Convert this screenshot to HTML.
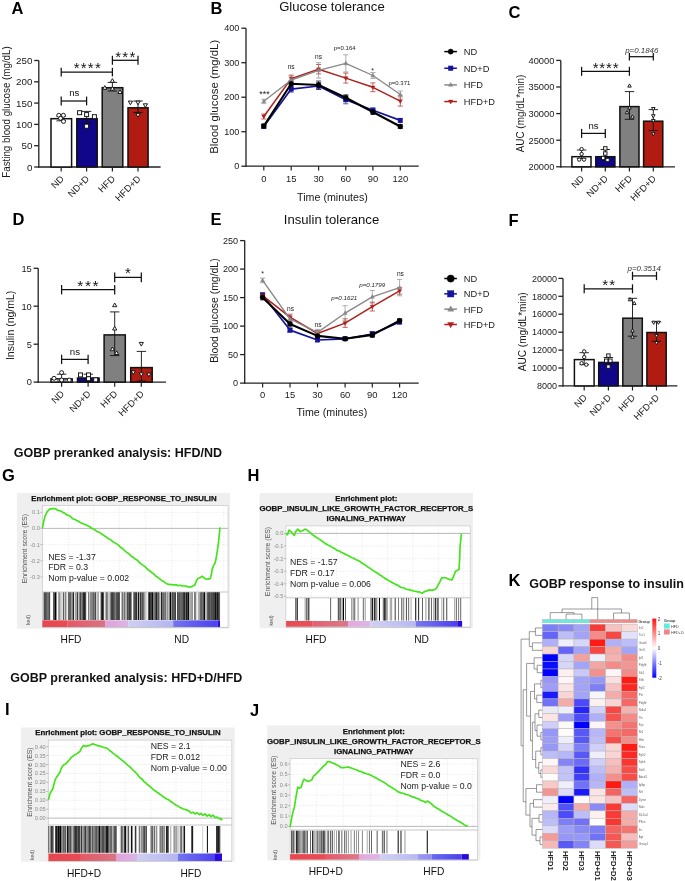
<!DOCTYPE html>
<html><head><meta charset="utf-8"><title>Figure</title>
<style>
html,body{margin:0;padding:0;background:#fff;}
body{width:685px;height:881px;overflow:hidden;position:relative;}
svg{position:absolute;left:0;top:0;display:block;will-change:transform;}
svg text{font-family:"Liberation Sans", sans-serif;}
</style></head><body>
<svg width="685" height="881" viewBox="0 0 685 881">
<rect x="0" y="0" width="685" height="881" fill="#fff"/>
<text x="11.50" y="14.20" font-size="16.5" text-anchor="start" fill="#000" font-weight="bold">A</text>
<line x1="38.80" y1="60.50" x2="38.80" y2="167.60" stroke="#222" stroke-width="1.3"/>
<line x1="34.20" y1="167.00" x2="38.80" y2="167.00" stroke="#222" stroke-width="1.3"/>
<text x="32.40" y="170.53" font-size="9.8" text-anchor="end" fill="#1a1a1a">0</text>
<line x1="34.20" y1="145.70" x2="38.80" y2="145.70" stroke="#222" stroke-width="1.3"/>
<text x="32.40" y="149.23" font-size="9.8" text-anchor="end" fill="#1a1a1a">50</text>
<line x1="34.20" y1="124.40" x2="38.80" y2="124.40" stroke="#222" stroke-width="1.3"/>
<text x="32.40" y="127.93" font-size="9.8" text-anchor="end" fill="#1a1a1a">100</text>
<line x1="34.20" y1="103.10" x2="38.80" y2="103.10" stroke="#222" stroke-width="1.3"/>
<text x="32.40" y="106.63" font-size="9.8" text-anchor="end" fill="#1a1a1a">150</text>
<line x1="34.20" y1="81.80" x2="38.80" y2="81.80" stroke="#222" stroke-width="1.3"/>
<text x="32.40" y="85.33" font-size="9.8" text-anchor="end" fill="#1a1a1a">200</text>
<line x1="34.20" y1="60.50" x2="38.80" y2="60.50" stroke="#222" stroke-width="1.3"/>
<text x="32.40" y="64.03" font-size="9.8" text-anchor="end" fill="#1a1a1a">250</text>
<line x1="38.20" y1="167.00" x2="160.60" y2="167.00" stroke="#222" stroke-width="1.3"/>
<rect x="51.00" y="118.70" width="20.60" height="48.30" fill="#ffffff" stroke="#111" stroke-width="1.5"/>
<rect x="76.80" y="118.70" width="20.40" height="48.30" fill="#10068a" stroke="#111" stroke-width="1.5"/>
<rect x="102.20" y="87.70" width="20.60" height="79.30" fill="#808080" stroke="#111" stroke-width="1.5"/>
<rect x="128.00" y="107.80" width="20.10" height="59.20" fill="#b01c12" stroke="#111" stroke-width="1.5"/>
<line x1="61.20" y1="167.00" x2="61.20" y2="171.60" stroke="#222" stroke-width="1.2"/>
<text x="64.50" y="179.40" font-size="9.4" text-anchor="end" fill="#1a1a1a" transform="rotate(-45 64.50 179.40)">ND</text>
<line x1="86.60" y1="167.00" x2="86.60" y2="171.60" stroke="#222" stroke-width="1.2"/>
<text x="89.90" y="179.40" font-size="9.4" text-anchor="end" fill="#1a1a1a" transform="rotate(-45 89.90 179.40)">ND+D</text>
<line x1="112.40" y1="167.00" x2="112.40" y2="171.60" stroke="#222" stroke-width="1.2"/>
<text x="115.70" y="179.40" font-size="9.4" text-anchor="end" fill="#1a1a1a" transform="rotate(-45 115.70 179.40)">HFD</text>
<line x1="138.00" y1="167.00" x2="138.00" y2="171.60" stroke="#222" stroke-width="1.2"/>
<text x="141.30" y="179.40" font-size="9.4" text-anchor="end" fill="#1a1a1a" transform="rotate(-45 141.30 179.40)">HFD+D</text>
<line x1="61.20" y1="116.20" x2="61.20" y2="120.80" stroke="#111" stroke-width="0.9"/>
<line x1="56.50" y1="116.20" x2="65.90" y2="116.20" stroke="#111" stroke-width="0.9"/>
<line x1="56.50" y1="120.80" x2="65.90" y2="120.80" stroke="#111" stroke-width="0.9"/>
<line x1="86.60" y1="111.40" x2="86.60" y2="123.20" stroke="#111" stroke-width="0.9"/>
<line x1="81.90" y1="111.40" x2="91.30" y2="111.40" stroke="#111" stroke-width="0.9"/>
<line x1="81.90" y1="123.20" x2="91.30" y2="123.20" stroke="#111" stroke-width="0.9"/>
<line x1="112.40" y1="82.40" x2="112.40" y2="91.00" stroke="#111" stroke-width="0.9"/>
<line x1="107.70" y1="82.40" x2="117.10" y2="82.40" stroke="#111" stroke-width="0.9"/>
<line x1="107.70" y1="91.00" x2="117.10" y2="91.00" stroke="#111" stroke-width="0.9"/>
<line x1="138.00" y1="101.00" x2="138.00" y2="112.40" stroke="#111" stroke-width="0.9"/>
<line x1="133.30" y1="101.00" x2="142.70" y2="101.00" stroke="#111" stroke-width="0.9"/>
<line x1="133.30" y1="112.40" x2="142.70" y2="112.40" stroke="#111" stroke-width="0.9"/>
<circle cx="58.80" cy="115.30" r="2.0" fill="#fff" stroke="#111" stroke-width="0.95"/>
<circle cx="63.40" cy="115.30" r="2.0" fill="#fff" stroke="#111" stroke-width="0.95"/>
<circle cx="60.50" cy="118.30" r="2.0" fill="#fff" stroke="#111" stroke-width="0.95"/>
<circle cx="63.50" cy="121.40" r="2.0" fill="#fff" stroke="#111" stroke-width="0.95"/>
<rect x="77.60" y="110.70" width="4.00" height="4.00" fill="#fff" stroke="#111" stroke-width="0.95"/>
<rect x="84.60" y="112.60" width="4.00" height="4.00" fill="#fff" stroke="#111" stroke-width="0.95"/>
<rect x="92.40" y="114.70" width="4.00" height="4.00" fill="#fff" stroke="#111" stroke-width="0.95"/>
<rect x="84.60" y="124.20" width="4.00" height="4.00" fill="#fff" stroke="#111" stroke-width="0.95"/>
<polygon points="112.40,78.60 114.50,82.30 110.30,82.30" fill="#fff" stroke="#111" stroke-width="0.95"/>
<polygon points="104.80,85.60 106.90,89.30 102.70,89.30" fill="#fff" stroke="#111" stroke-width="0.95"/>
<polygon points="112.40,86.50 114.50,90.20 110.30,90.20" fill="#fff" stroke="#111" stroke-width="0.95"/>
<polygon points="120.00,89.80 122.10,93.50 117.90,93.50" fill="#fff" stroke="#111" stroke-width="0.95"/>
<polygon points="130.40,104.80 132.50,101.10 128.30,101.10" fill="#fff" stroke="#111" stroke-width="0.95"/>
<polygon points="138.00,104.80 140.10,101.10 135.90,101.10" fill="#fff" stroke="#111" stroke-width="0.95"/>
<polygon points="145.40,107.50 147.50,103.80 143.30,103.80" fill="#fff" stroke="#111" stroke-width="0.95"/>
<polygon points="138.00,117.30 140.10,113.60 135.90,113.60" fill="#fff" stroke="#111" stroke-width="0.95"/>
<line x1="61.20" y1="72.10" x2="112.40" y2="72.10" stroke="#111" stroke-width="1.25"/>
<line x1="61.20" y1="67.80" x2="61.20" y2="76.40" stroke="#111" stroke-width="1.25"/>
<line x1="112.40" y1="67.80" x2="112.40" y2="76.40" stroke="#111" stroke-width="1.25"/>
<line x1="112.40" y1="60.30" x2="138.00" y2="60.30" stroke="#111" stroke-width="1.25"/>
<line x1="112.40" y1="55.80" x2="112.40" y2="64.80" stroke="#111" stroke-width="1.25"/>
<line x1="138.00" y1="55.80" x2="138.00" y2="64.80" stroke="#111" stroke-width="1.25"/>
<line x1="61.20" y1="101.00" x2="86.60" y2="101.00" stroke="#111" stroke-width="1.25"/>
<line x1="61.20" y1="96.60" x2="61.20" y2="105.40" stroke="#111" stroke-width="1.25"/>
<line x1="86.60" y1="96.60" x2="86.60" y2="105.40" stroke="#111" stroke-width="1.25"/>
<text x="87.83" y="73.29" font-size="15.0" text-anchor="middle" fill="#111" letter-spacing="1.25">****</text>
<text x="125.90" y="61.70" font-size="15.0" text-anchor="middle" fill="#111" letter-spacing="1.2">***</text>
<text x="74.20" y="96.20" font-size="9.6" text-anchor="middle" fill="#111">ns</text>
<text x="10.00" y="112.00" font-size="10.8" text-anchor="middle" fill="#1a1a1a" transform="rotate(-90 10.00 112.00)" textLength="131.50" lengthAdjust="spacingAndGlyphs">Fasting blood glucose (mg/dL)</text>
<text x="508.50" y="18.00" font-size="16.5" text-anchor="start" fill="#000" font-weight="bold">C</text>
<line x1="560.80" y1="60.40" x2="560.80" y2="167.40" stroke="#222" stroke-width="1.3"/>
<line x1="556.20" y1="166.80" x2="560.80" y2="166.80" stroke="#222" stroke-width="1.3"/>
<text x="554.40" y="170.15" font-size="9.3" text-anchor="end" fill="#1a1a1a">20000</text>
<line x1="556.20" y1="140.20" x2="560.80" y2="140.20" stroke="#222" stroke-width="1.3"/>
<text x="554.40" y="143.55" font-size="9.3" text-anchor="end" fill="#1a1a1a">25000</text>
<line x1="556.20" y1="113.60" x2="560.80" y2="113.60" stroke="#222" stroke-width="1.3"/>
<text x="554.40" y="116.95" font-size="9.3" text-anchor="end" fill="#1a1a1a">30000</text>
<line x1="556.20" y1="87.00" x2="560.80" y2="87.00" stroke="#222" stroke-width="1.3"/>
<text x="554.40" y="90.35" font-size="9.3" text-anchor="end" fill="#1a1a1a">35000</text>
<line x1="556.20" y1="60.40" x2="560.80" y2="60.40" stroke="#222" stroke-width="1.3"/>
<text x="554.40" y="63.75" font-size="9.3" text-anchor="end" fill="#1a1a1a">40000</text>
<line x1="560.20" y1="166.80" x2="675.00" y2="166.80" stroke="#222" stroke-width="1.3"/>
<rect x="571.90" y="156.70" width="19.10" height="10.10" fill="#ffffff" stroke="#111" stroke-width="1.5"/>
<rect x="595.80" y="156.70" width="19.10" height="10.10" fill="#10068a" stroke="#111" stroke-width="1.5"/>
<rect x="619.90" y="106.60" width="19.10" height="60.20" fill="#808080" stroke="#111" stroke-width="1.5"/>
<rect x="643.60" y="121.20" width="19.20" height="45.60" fill="#b01c12" stroke="#111" stroke-width="1.5"/>
<line x1="581.60" y1="166.80" x2="581.60" y2="171.40" stroke="#222" stroke-width="1.2"/>
<text x="584.90" y="179.20" font-size="9.4" text-anchor="end" fill="#1a1a1a" transform="rotate(-45 584.90 179.20)">ND</text>
<line x1="605.30" y1="166.80" x2="605.30" y2="171.40" stroke="#222" stroke-width="1.2"/>
<text x="608.60" y="179.20" font-size="9.4" text-anchor="end" fill="#1a1a1a" transform="rotate(-45 608.60 179.20)">ND+D</text>
<line x1="629.40" y1="166.80" x2="629.40" y2="171.40" stroke="#222" stroke-width="1.2"/>
<text x="632.70" y="179.20" font-size="9.4" text-anchor="end" fill="#1a1a1a" transform="rotate(-45 632.70 179.20)">HFD</text>
<line x1="653.30" y1="166.80" x2="653.30" y2="171.40" stroke="#222" stroke-width="1.2"/>
<text x="656.60" y="179.20" font-size="9.4" text-anchor="end" fill="#1a1a1a" transform="rotate(-45 656.60 179.20)">HFD+D</text>
<line x1="581.60" y1="150.00" x2="581.60" y2="158.50" stroke="#111" stroke-width="0.9"/>
<line x1="576.90" y1="150.00" x2="586.30" y2="150.00" stroke="#111" stroke-width="0.9"/>
<line x1="576.90" y1="158.50" x2="586.30" y2="158.50" stroke="#111" stroke-width="0.9"/>
<line x1="605.30" y1="149.50" x2="605.30" y2="160.00" stroke="#111" stroke-width="0.9"/>
<line x1="600.60" y1="149.50" x2="610.00" y2="149.50" stroke="#111" stroke-width="0.9"/>
<line x1="600.60" y1="160.00" x2="610.00" y2="160.00" stroke="#111" stroke-width="0.9"/>
<line x1="629.50" y1="91.60" x2="629.50" y2="119.30" stroke="#111" stroke-width="0.9"/>
<line x1="624.80" y1="91.60" x2="634.20" y2="91.60" stroke="#111" stroke-width="0.9"/>
<line x1="624.80" y1="119.30" x2="634.20" y2="119.30" stroke="#111" stroke-width="0.9"/>
<line x1="653.30" y1="109.60" x2="653.30" y2="130.50" stroke="#111" stroke-width="0.9"/>
<line x1="648.60" y1="109.60" x2="658.00" y2="109.60" stroke="#111" stroke-width="0.9"/>
<line x1="648.60" y1="130.50" x2="658.00" y2="130.50" stroke="#111" stroke-width="0.9"/>
<circle cx="581.60" cy="149.10" r="1.7" fill="#fff" stroke="#111" stroke-width="0.95"/>
<circle cx="581.60" cy="154.00" r="1.7" fill="#fff" stroke="#111" stroke-width="0.95"/>
<circle cx="579.20" cy="159.60" r="1.7" fill="#fff" stroke="#111" stroke-width="0.95"/>
<circle cx="584.00" cy="159.60" r="1.7" fill="#fff" stroke="#111" stroke-width="0.95"/>
<rect x="603.60" y="146.70" width="3.40" height="3.40" fill="#fff" stroke="#111" stroke-width="0.95"/>
<rect x="603.60" y="151.80" width="3.40" height="3.40" fill="#fff" stroke="#111" stroke-width="0.95"/>
<rect x="601.50" y="156.30" width="3.40" height="3.40" fill="#fff" stroke="#111" stroke-width="0.95"/>
<rect x="605.80" y="158.30" width="3.40" height="3.40" fill="#fff" stroke="#111" stroke-width="0.95"/>
<polygon points="629.50,83.95 631.28,87.09 627.72,87.09" fill="#fff" stroke="#111" stroke-width="0.95"/>
<polygon points="629.50,105.95 631.28,109.09 627.72,109.09" fill="#fff" stroke="#111" stroke-width="0.95"/>
<polygon points="627.00,110.55 628.78,113.69 625.22,113.69" fill="#fff" stroke="#111" stroke-width="0.95"/>
<polygon points="632.40,114.95 634.18,118.09 630.62,118.09" fill="#fff" stroke="#111" stroke-width="0.95"/>
<polygon points="653.30,110.66 655.08,107.51 651.51,107.51" fill="#fff" stroke="#111" stroke-width="0.95"/>
<polygon points="653.30,117.86 655.08,114.71 651.51,114.71" fill="#fff" stroke="#111" stroke-width="0.95"/>
<polygon points="653.30,122.55 655.08,119.41 651.51,119.41" fill="#fff" stroke="#111" stroke-width="0.95"/>
<polygon points="653.30,135.86 655.08,132.71 651.51,132.71" fill="#fff" stroke="#111" stroke-width="0.95"/>
<line x1="581.60" y1="71.30" x2="629.40" y2="71.30" stroke="#111" stroke-width="1.25"/>
<line x1="581.60" y1="66.80" x2="581.60" y2="75.80" stroke="#111" stroke-width="1.25"/>
<line x1="629.40" y1="66.80" x2="629.40" y2="75.80" stroke="#111" stroke-width="1.25"/>
<line x1="629.40" y1="56.70" x2="653.30" y2="56.70" stroke="#111" stroke-width="1.25"/>
<line x1="629.40" y1="52.90" x2="629.40" y2="60.50" stroke="#111" stroke-width="1.25"/>
<line x1="653.30" y1="52.90" x2="653.30" y2="60.50" stroke="#111" stroke-width="1.25"/>
<line x1="581.60" y1="133.40" x2="605.30" y2="133.40" stroke="#111" stroke-width="1.25"/>
<line x1="581.60" y1="128.90" x2="581.60" y2="137.90" stroke="#111" stroke-width="1.25"/>
<line x1="605.30" y1="128.90" x2="605.30" y2="137.90" stroke="#111" stroke-width="1.25"/>
<text x="606.00" y="72.50" font-size="15.0" text-anchor="middle" fill="#111" letter-spacing="0.8">****</text>
<text x="641.80" y="52.60" font-size="7.9" text-anchor="middle" fill="#333" font-style="italic">p=0.1846</text>
<text x="593.50" y="128.80" font-size="9.6" text-anchor="middle" fill="#111">ns</text>
<text x="523.60" y="113.50" font-size="10.4" text-anchor="middle" fill="#1a1a1a" transform="rotate(-90 523.60 113.50)" textLength="77.70" lengthAdjust="spacingAndGlyphs">AUC (mg/dL*min)</text>
<text x="12.50" y="224.80" font-size="16.5" text-anchor="start" fill="#000" font-weight="bold">D</text>
<line x1="38.20" y1="268.30" x2="38.20" y2="382.70" stroke="#222" stroke-width="1.3"/>
<line x1="33.60" y1="382.10" x2="38.20" y2="382.10" stroke="#222" stroke-width="1.3"/>
<text x="31.80" y="385.45" font-size="9.3" text-anchor="end" fill="#1a1a1a">0</text>
<line x1="33.60" y1="344.20" x2="38.20" y2="344.20" stroke="#222" stroke-width="1.3"/>
<text x="31.80" y="347.55" font-size="9.3" text-anchor="end" fill="#1a1a1a">5</text>
<line x1="33.60" y1="306.20" x2="38.20" y2="306.20" stroke="#222" stroke-width="1.3"/>
<text x="31.80" y="309.55" font-size="9.3" text-anchor="end" fill="#1a1a1a">10</text>
<line x1="33.60" y1="268.30" x2="38.20" y2="268.30" stroke="#222" stroke-width="1.3"/>
<text x="31.80" y="271.65" font-size="9.3" text-anchor="end" fill="#1a1a1a">15</text>
<line x1="37.60" y1="382.10" x2="166.00" y2="382.10" stroke="#222" stroke-width="1.3"/>
<rect x="51.00" y="378.90" width="21.20" height="3.20" fill="#ffffff" stroke="#111" stroke-width="1.5"/>
<rect x="77.50" y="378.00" width="21.60" height="4.10" fill="#10068a" stroke="#111" stroke-width="1.5"/>
<rect x="104.10" y="334.90" width="21.20" height="47.20" fill="#808080" stroke="#111" stroke-width="1.5"/>
<rect x="130.70" y="367.60" width="21.50" height="14.50" fill="#b01c12" stroke="#111" stroke-width="1.5"/>
<line x1="61.60" y1="382.10" x2="61.60" y2="386.70" stroke="#222" stroke-width="1.2"/>
<text x="64.90" y="394.50" font-size="9.4" text-anchor="end" fill="#1a1a1a" transform="rotate(-45 64.90 394.50)">ND</text>
<line x1="88.10" y1="382.10" x2="88.10" y2="386.70" stroke="#222" stroke-width="1.2"/>
<text x="91.40" y="394.50" font-size="9.4" text-anchor="end" fill="#1a1a1a" transform="rotate(-45 91.40 394.50)">ND+D</text>
<line x1="114.70" y1="382.10" x2="114.70" y2="386.70" stroke="#222" stroke-width="1.2"/>
<text x="118.00" y="394.50" font-size="9.4" text-anchor="end" fill="#1a1a1a" transform="rotate(-45 118.00 394.50)">HFD</text>
<line x1="141.30" y1="382.10" x2="141.30" y2="386.70" stroke="#222" stroke-width="1.2"/>
<text x="144.60" y="394.50" font-size="9.4" text-anchor="end" fill="#1a1a1a" transform="rotate(-45 144.60 394.50)">HFD+D</text>
<line x1="61.60" y1="374.20" x2="61.60" y2="381.00" stroke="#111" stroke-width="0.9"/>
<line x1="56.90" y1="374.20" x2="66.30" y2="374.20" stroke="#111" stroke-width="0.9"/>
<line x1="56.90" y1="381.00" x2="66.30" y2="381.00" stroke="#111" stroke-width="0.9"/>
<line x1="88.30" y1="374.20" x2="88.30" y2="381.00" stroke="#111" stroke-width="0.9"/>
<line x1="83.60" y1="374.20" x2="93.00" y2="374.20" stroke="#111" stroke-width="0.9"/>
<line x1="83.60" y1="381.00" x2="93.00" y2="381.00" stroke="#111" stroke-width="0.9"/>
<line x1="114.70" y1="311.90" x2="114.70" y2="355.60" stroke="#111" stroke-width="0.9"/>
<line x1="110.00" y1="311.90" x2="119.40" y2="311.90" stroke="#111" stroke-width="0.9"/>
<line x1="110.00" y1="355.60" x2="119.40" y2="355.60" stroke="#111" stroke-width="0.9"/>
<line x1="141.40" y1="351.40" x2="141.40" y2="381.00" stroke="#111" stroke-width="0.9"/>
<line x1="136.70" y1="351.40" x2="146.10" y2="351.40" stroke="#111" stroke-width="0.9"/>
<line x1="136.70" y1="381.00" x2="146.10" y2="381.00" stroke="#111" stroke-width="0.9"/>
<circle cx="61.60" cy="372.60" r="2.0" fill="#fff" stroke="#111" stroke-width="0.95"/>
<circle cx="54.00" cy="378.30" r="2.0" fill="#fff" stroke="#111" stroke-width="0.95"/>
<circle cx="61.60" cy="380.00" r="2.0" fill="#fff" stroke="#111" stroke-width="0.95"/>
<circle cx="69.20" cy="380.00" r="2.0" fill="#fff" stroke="#111" stroke-width="0.95"/>
<rect x="78.50" y="372.90" width="4.00" height="4.00" fill="#fff" stroke="#111" stroke-width="0.95"/>
<rect x="86.50" y="372.90" width="4.00" height="4.00" fill="#fff" stroke="#111" stroke-width="0.95"/>
<rect x="86.50" y="376.70" width="4.00" height="4.00" fill="#fff" stroke="#111" stroke-width="0.95"/>
<rect x="93.70" y="377.80" width="4.00" height="4.00" fill="#fff" stroke="#111" stroke-width="0.95"/>
<polygon points="114.70,303.00 116.80,306.70 112.60,306.70" fill="#fff" stroke="#111" stroke-width="0.95"/>
<polygon points="114.70,326.30 116.80,330.00 112.60,330.00" fill="#fff" stroke="#111" stroke-width="0.95"/>
<polygon points="112.40,347.00 114.50,350.70 110.30,350.70" fill="#fff" stroke="#111" stroke-width="0.95"/>
<polygon points="116.60,350.80 118.70,354.50 114.50,354.50" fill="#fff" stroke="#111" stroke-width="0.95"/>
<polygon points="141.30,346.10 143.40,342.40 139.20,342.40" fill="#fff" stroke="#111" stroke-width="0.95"/>
<polygon points="133.30,374.60 135.40,370.90 131.20,370.90" fill="#fff" stroke="#111" stroke-width="0.95"/>
<polygon points="141.30,376.50 143.40,372.80 139.20,372.80" fill="#fff" stroke="#111" stroke-width="0.95"/>
<polygon points="148.90,376.80 151.00,373.10 146.80,373.10" fill="#fff" stroke="#111" stroke-width="0.95"/>
<line x1="61.60" y1="289.70" x2="114.70" y2="289.70" stroke="#111" stroke-width="1.25"/>
<line x1="61.60" y1="285.00" x2="61.60" y2="294.40" stroke="#111" stroke-width="1.25"/>
<line x1="114.70" y1="285.00" x2="114.70" y2="294.40" stroke="#111" stroke-width="1.25"/>
<line x1="114.70" y1="277.40" x2="141.30" y2="277.40" stroke="#111" stroke-width="1.25"/>
<line x1="114.70" y1="272.60" x2="114.70" y2="282.20" stroke="#111" stroke-width="1.25"/>
<line x1="141.30" y1="272.60" x2="141.30" y2="282.20" stroke="#111" stroke-width="1.25"/>
<line x1="61.60" y1="359.40" x2="88.10" y2="359.40" stroke="#111" stroke-width="1.25"/>
<line x1="61.60" y1="354.70" x2="61.60" y2="364.10" stroke="#111" stroke-width="1.25"/>
<line x1="88.10" y1="354.70" x2="88.10" y2="364.10" stroke="#111" stroke-width="1.25"/>
<text x="88.80" y="290.55" font-size="15.5" text-anchor="middle" fill="#111" letter-spacing="1.6">***</text>
<text x="128.00" y="277.69" font-size="15.0" text-anchor="middle" fill="#111">*</text>
<text x="74.90" y="354.60" font-size="9.7" text-anchor="middle" fill="#111">ns</text>
<text x="14.30" y="325.40" font-size="10.8" text-anchor="middle" fill="#1a1a1a" transform="rotate(-90 14.30 325.40)" textLength="69.40" lengthAdjust="spacingAndGlyphs">Insulin (ng/mL)</text>
<text x="508.50" y="226.20" font-size="16.5" text-anchor="start" fill="#000" font-weight="bold">F</text>
<line x1="563.00" y1="278.40" x2="563.00" y2="386.50" stroke="#222" stroke-width="1.3"/>
<line x1="558.40" y1="385.90" x2="563.00" y2="385.90" stroke="#222" stroke-width="1.3"/>
<text x="557.00" y="389.14" font-size="9.0" text-anchor="end" fill="#1a1a1a">8000</text>
<line x1="558.40" y1="368.00" x2="563.00" y2="368.00" stroke="#222" stroke-width="1.3"/>
<text x="557.00" y="371.24" font-size="9.0" text-anchor="end" fill="#1a1a1a">10000</text>
<line x1="558.40" y1="350.10" x2="563.00" y2="350.10" stroke="#222" stroke-width="1.3"/>
<text x="557.00" y="353.34" font-size="9.0" text-anchor="end" fill="#1a1a1a">12000</text>
<line x1="558.40" y1="332.20" x2="563.00" y2="332.20" stroke="#222" stroke-width="1.3"/>
<text x="557.00" y="335.44" font-size="9.0" text-anchor="end" fill="#1a1a1a">14000</text>
<line x1="558.40" y1="314.20" x2="563.00" y2="314.20" stroke="#222" stroke-width="1.3"/>
<text x="557.00" y="317.44" font-size="9.0" text-anchor="end" fill="#1a1a1a">16000</text>
<line x1="558.40" y1="296.30" x2="563.00" y2="296.30" stroke="#222" stroke-width="1.3"/>
<text x="557.00" y="299.54" font-size="9.0" text-anchor="end" fill="#1a1a1a">18000</text>
<line x1="558.40" y1="278.40" x2="563.00" y2="278.40" stroke="#222" stroke-width="1.3"/>
<text x="557.00" y="281.64" font-size="9.0" text-anchor="end" fill="#1a1a1a">20000</text>
<line x1="562.40" y1="385.90" x2="677.40" y2="385.90" stroke="#222" stroke-width="1.3"/>
<rect x="574.40" y="359.60" width="19.70" height="26.30" fill="#ffffff" stroke="#111" stroke-width="1.5"/>
<rect x="598.70" y="362.40" width="19.50" height="23.50" fill="#10068a" stroke="#111" stroke-width="1.5"/>
<rect x="622.80" y="318.20" width="19.50" height="67.70" fill="#808080" stroke="#111" stroke-width="1.5"/>
<rect x="646.90" y="332.50" width="19.30" height="53.40" fill="#b01c12" stroke="#111" stroke-width="1.5"/>
<line x1="584.20" y1="385.90" x2="584.20" y2="390.50" stroke="#222" stroke-width="1.2"/>
<text x="587.50" y="398.30" font-size="9.4" text-anchor="end" fill="#1a1a1a" transform="rotate(-45 587.50 398.30)">ND</text>
<line x1="608.40" y1="385.90" x2="608.40" y2="390.50" stroke="#222" stroke-width="1.2"/>
<text x="611.70" y="398.30" font-size="9.4" text-anchor="end" fill="#1a1a1a" transform="rotate(-45 611.70 398.30)">ND+D</text>
<line x1="632.50" y1="385.90" x2="632.50" y2="390.50" stroke="#222" stroke-width="1.2"/>
<text x="635.80" y="398.30" font-size="9.4" text-anchor="end" fill="#1a1a1a" transform="rotate(-45 635.80 398.30)">HFD</text>
<line x1="656.50" y1="385.90" x2="656.50" y2="390.50" stroke="#222" stroke-width="1.2"/>
<text x="659.80" y="398.30" font-size="9.4" text-anchor="end" fill="#1a1a1a" transform="rotate(-45 659.80 398.30)">HFD+D</text>
<line x1="584.20" y1="352.70" x2="584.20" y2="364.70" stroke="#111" stroke-width="0.9"/>
<line x1="579.50" y1="352.70" x2="588.90" y2="352.70" stroke="#111" stroke-width="0.9"/>
<line x1="579.50" y1="364.70" x2="588.90" y2="364.70" stroke="#111" stroke-width="0.9"/>
<line x1="608.40" y1="357.50" x2="608.40" y2="364.70" stroke="#111" stroke-width="0.9"/>
<line x1="603.70" y1="357.50" x2="613.10" y2="357.50" stroke="#111" stroke-width="0.9"/>
<line x1="603.70" y1="364.70" x2="613.10" y2="364.70" stroke="#111" stroke-width="0.9"/>
<line x1="632.50" y1="298.30" x2="632.50" y2="336.20" stroke="#111" stroke-width="0.9"/>
<line x1="627.80" y1="298.30" x2="637.20" y2="298.30" stroke="#111" stroke-width="0.9"/>
<line x1="627.80" y1="336.20" x2="637.20" y2="336.20" stroke="#111" stroke-width="0.9"/>
<line x1="656.50" y1="321.80" x2="656.50" y2="341.30" stroke="#111" stroke-width="0.9"/>
<line x1="651.80" y1="321.80" x2="661.20" y2="321.80" stroke="#111" stroke-width="0.9"/>
<line x1="651.80" y1="341.30" x2="661.20" y2="341.30" stroke="#111" stroke-width="0.9"/>
<circle cx="584.20" cy="351.40" r="1.7" fill="#fff" stroke="#111" stroke-width="0.95"/>
<circle cx="584.20" cy="357.10" r="1.7" fill="#fff" stroke="#111" stroke-width="0.95"/>
<circle cx="581.60" cy="363.20" r="1.7" fill="#fff" stroke="#111" stroke-width="0.95"/>
<circle cx="586.30" cy="364.70" r="1.7" fill="#fff" stroke="#111" stroke-width="0.95"/>
<rect x="606.70" y="353.90" width="3.40" height="3.40" fill="#fff" stroke="#111" stroke-width="0.95"/>
<rect x="604.50" y="359.00" width="3.40" height="3.40" fill="#fff" stroke="#111" stroke-width="0.95"/>
<rect x="608.70" y="359.00" width="3.40" height="3.40" fill="#fff" stroke="#111" stroke-width="0.95"/>
<rect x="606.70" y="364.90" width="3.40" height="3.40" fill="#fff" stroke="#111" stroke-width="0.95"/>
<polygon points="630.00,297.65 631.78,300.79 628.22,300.79" fill="#fff" stroke="#111" stroke-width="0.95"/>
<polygon points="634.30,301.44 636.08,304.59 632.51,304.59" fill="#fff" stroke="#111" stroke-width="0.95"/>
<polygon points="632.50,328.94 634.28,332.09 630.72,332.09" fill="#fff" stroke="#111" stroke-width="0.95"/>
<polygon points="632.50,335.05 634.28,338.19 630.72,338.19" fill="#fff" stroke="#111" stroke-width="0.95"/>
<polygon points="653.70,324.35 655.49,321.21 651.92,321.21" fill="#fff" stroke="#111" stroke-width="0.95"/>
<polygon points="658.40,324.35 660.18,321.21 656.62,321.21" fill="#fff" stroke="#111" stroke-width="0.95"/>
<polygon points="656.50,337.56 658.28,334.41 654.72,334.41" fill="#fff" stroke="#111" stroke-width="0.95"/>
<polygon points="656.50,344.65 658.28,341.51 654.72,341.51" fill="#fff" stroke="#111" stroke-width="0.95"/>
<line x1="584.20" y1="288.80" x2="632.50" y2="288.80" stroke="#111" stroke-width="1.25"/>
<line x1="584.20" y1="284.30" x2="584.20" y2="293.30" stroke="#111" stroke-width="1.25"/>
<line x1="632.50" y1="284.30" x2="632.50" y2="293.30" stroke="#111" stroke-width="1.25"/>
<line x1="632.50" y1="275.90" x2="656.50" y2="275.90" stroke="#111" stroke-width="1.25"/>
<line x1="632.50" y1="271.70" x2="632.50" y2="280.10" stroke="#111" stroke-width="1.25"/>
<line x1="656.50" y1="271.70" x2="656.50" y2="280.10" stroke="#111" stroke-width="1.25"/>
<text x="609.20" y="289.59" font-size="15.0" text-anchor="middle" fill="#111" letter-spacing="1.2">**</text>
<text x="644.20" y="271.40" font-size="7.95" text-anchor="middle" fill="#333" font-style="italic">p=0.3514</text>
<text x="525.90" y="331.80" font-size="10.4" text-anchor="middle" fill="#1a1a1a" transform="rotate(-90 525.90 331.80)" textLength="78.90" lengthAdjust="spacingAndGlyphs">AUC (mg/dL*min)</text>
<text x="210.50" y="13.60" font-size="16.5" text-anchor="start" fill="#000" font-weight="bold">B</text>
<line x1="246.00" y1="28.20" x2="246.00" y2="166.80" stroke="#222" stroke-width="1.3"/>
<line x1="241.40" y1="166.20" x2="246.00" y2="166.20" stroke="#222" stroke-width="1.3"/>
<text x="239.40" y="169.48" font-size="9.1" text-anchor="end" fill="#1a1a1a">0</text>
<line x1="241.40" y1="131.70" x2="246.00" y2="131.70" stroke="#222" stroke-width="1.3"/>
<text x="239.40" y="134.98" font-size="9.1" text-anchor="end" fill="#1a1a1a">100</text>
<line x1="241.40" y1="97.20" x2="246.00" y2="97.20" stroke="#222" stroke-width="1.3"/>
<text x="239.40" y="100.48" font-size="9.1" text-anchor="end" fill="#1a1a1a">200</text>
<line x1="241.40" y1="62.70" x2="246.00" y2="62.70" stroke="#222" stroke-width="1.3"/>
<text x="239.40" y="65.98" font-size="9.1" text-anchor="end" fill="#1a1a1a">300</text>
<line x1="241.40" y1="28.20" x2="246.00" y2="28.20" stroke="#222" stroke-width="1.3"/>
<text x="239.40" y="31.48" font-size="9.1" text-anchor="end" fill="#1a1a1a">400</text>
<line x1="245.40" y1="166.20" x2="418.70" y2="166.20" stroke="#222" stroke-width="1.3"/>
<line x1="263.80" y1="166.20" x2="263.80" y2="170.50" stroke="#222" stroke-width="1.2"/>
<text x="263.80" y="182.40" font-size="9.4" text-anchor="middle" fill="#1a1a1a">0</text>
<line x1="291.20" y1="166.20" x2="291.20" y2="170.50" stroke="#222" stroke-width="1.2"/>
<text x="291.20" y="182.40" font-size="9.4" text-anchor="middle" fill="#1a1a1a">15</text>
<line x1="318.60" y1="166.20" x2="318.60" y2="170.50" stroke="#222" stroke-width="1.2"/>
<text x="318.60" y="182.40" font-size="9.4" text-anchor="middle" fill="#1a1a1a">30</text>
<line x1="345.80" y1="166.20" x2="345.80" y2="170.50" stroke="#222" stroke-width="1.2"/>
<text x="345.80" y="182.40" font-size="9.4" text-anchor="middle" fill="#1a1a1a">60</text>
<line x1="372.90" y1="166.20" x2="372.90" y2="170.50" stroke="#222" stroke-width="1.2"/>
<text x="372.90" y="182.40" font-size="9.4" text-anchor="middle" fill="#1a1a1a">90</text>
<line x1="400.30" y1="166.20" x2="400.30" y2="170.50" stroke="#222" stroke-width="1.2"/>
<text x="400.30" y="182.40" font-size="9.4" text-anchor="middle" fill="#1a1a1a">120</text>
<line x1="263.80" y1="124.40" x2="263.80" y2="128.40" stroke="#14149a" stroke-width="0.9" opacity="0.75"/>
<line x1="261.20" y1="124.40" x2="266.40" y2="124.40" stroke="#14149a" stroke-width="0.9" opacity="0.75"/>
<line x1="261.20" y1="128.40" x2="266.40" y2="128.40" stroke="#14149a" stroke-width="0.9" opacity="0.75"/>
<line x1="291.20" y1="86.10" x2="291.20" y2="92.10" stroke="#14149a" stroke-width="0.9" opacity="0.75"/>
<line x1="288.60" y1="86.10" x2="293.80" y2="86.10" stroke="#14149a" stroke-width="0.9" opacity="0.75"/>
<line x1="288.60" y1="92.10" x2="293.80" y2="92.10" stroke="#14149a" stroke-width="0.9" opacity="0.75"/>
<line x1="318.60" y1="82.50" x2="318.60" y2="89.50" stroke="#14149a" stroke-width="0.9" opacity="0.75"/>
<line x1="316.00" y1="82.50" x2="321.20" y2="82.50" stroke="#14149a" stroke-width="0.9" opacity="0.75"/>
<line x1="316.00" y1="89.50" x2="321.20" y2="89.50" stroke="#14149a" stroke-width="0.9" opacity="0.75"/>
<line x1="345.80" y1="95.80" x2="345.80" y2="103.80" stroke="#14149a" stroke-width="0.9" opacity="0.75"/>
<line x1="343.20" y1="95.80" x2="348.40" y2="95.80" stroke="#14149a" stroke-width="0.9" opacity="0.75"/>
<line x1="343.20" y1="103.80" x2="348.40" y2="103.80" stroke="#14149a" stroke-width="0.9" opacity="0.75"/>
<line x1="372.90" y1="107.80" x2="372.90" y2="112.80" stroke="#14149a" stroke-width="0.9" opacity="0.75"/>
<line x1="370.30" y1="107.80" x2="375.50" y2="107.80" stroke="#14149a" stroke-width="0.9" opacity="0.75"/>
<line x1="370.30" y1="112.80" x2="375.50" y2="112.80" stroke="#14149a" stroke-width="0.9" opacity="0.75"/>
<line x1="400.30" y1="118.40" x2="400.30" y2="122.40" stroke="#14149a" stroke-width="0.9" opacity="0.75"/>
<line x1="397.70" y1="118.40" x2="402.90" y2="118.40" stroke="#14149a" stroke-width="0.9" opacity="0.75"/>
<line x1="397.70" y1="122.40" x2="402.90" y2="122.40" stroke="#14149a" stroke-width="0.9" opacity="0.75"/>
<line x1="263.80" y1="114.00" x2="263.80" y2="119.00" stroke="#b01e1a" stroke-width="0.9" opacity="0.75"/>
<line x1="261.20" y1="114.00" x2="266.40" y2="114.00" stroke="#b01e1a" stroke-width="0.9" opacity="0.75"/>
<line x1="261.20" y1="119.00" x2="266.40" y2="119.00" stroke="#b01e1a" stroke-width="0.9" opacity="0.75"/>
<line x1="291.20" y1="75.10" x2="291.20" y2="82.10" stroke="#b01e1a" stroke-width="0.9" opacity="0.75"/>
<line x1="288.60" y1="75.10" x2="293.80" y2="75.10" stroke="#b01e1a" stroke-width="0.9" opacity="0.75"/>
<line x1="288.60" y1="82.10" x2="293.80" y2="82.10" stroke="#b01e1a" stroke-width="0.9" opacity="0.75"/>
<line x1="318.60" y1="64.50" x2="318.60" y2="73.90" stroke="#b01e1a" stroke-width="0.9" opacity="0.75"/>
<line x1="316.00" y1="64.50" x2="321.20" y2="64.50" stroke="#b01e1a" stroke-width="0.9" opacity="0.75"/>
<line x1="316.00" y1="73.90" x2="321.20" y2="73.90" stroke="#b01e1a" stroke-width="0.9" opacity="0.75"/>
<line x1="345.80" y1="73.10" x2="345.80" y2="83.10" stroke="#b01e1a" stroke-width="0.9" opacity="0.75"/>
<line x1="343.20" y1="73.10" x2="348.40" y2="73.10" stroke="#b01e1a" stroke-width="0.9" opacity="0.75"/>
<line x1="343.20" y1="83.10" x2="348.40" y2="83.10" stroke="#b01e1a" stroke-width="0.9" opacity="0.75"/>
<line x1="372.90" y1="82.90" x2="372.90" y2="91.70" stroke="#b01e1a" stroke-width="0.9" opacity="0.75"/>
<line x1="370.30" y1="82.90" x2="375.50" y2="82.90" stroke="#b01e1a" stroke-width="0.9" opacity="0.75"/>
<line x1="370.30" y1="91.70" x2="375.50" y2="91.70" stroke="#b01e1a" stroke-width="0.9" opacity="0.75"/>
<line x1="400.30" y1="96.10" x2="400.30" y2="106.10" stroke="#b01e1a" stroke-width="0.9" opacity="0.75"/>
<line x1="397.70" y1="96.10" x2="402.90" y2="96.10" stroke="#b01e1a" stroke-width="0.9" opacity="0.75"/>
<line x1="397.70" y1="106.10" x2="402.90" y2="106.10" stroke="#b01e1a" stroke-width="0.9" opacity="0.75"/>
<line x1="263.80" y1="99.30" x2="263.80" y2="103.30" stroke="#888888" stroke-width="0.9" opacity="0.75"/>
<line x1="261.20" y1="99.30" x2="266.40" y2="99.30" stroke="#888888" stroke-width="0.9" opacity="0.75"/>
<line x1="261.20" y1="103.30" x2="266.40" y2="103.30" stroke="#888888" stroke-width="0.9" opacity="0.75"/>
<line x1="291.20" y1="76.00" x2="291.20" y2="84.00" stroke="#888888" stroke-width="0.9" opacity="0.75"/>
<line x1="288.60" y1="76.00" x2="293.80" y2="76.00" stroke="#888888" stroke-width="0.9" opacity="0.75"/>
<line x1="288.60" y1="84.00" x2="293.80" y2="84.00" stroke="#888888" stroke-width="0.9" opacity="0.75"/>
<line x1="318.60" y1="62.70" x2="318.60" y2="78.10" stroke="#888888" stroke-width="0.9" opacity="0.75"/>
<line x1="316.00" y1="62.70" x2="321.20" y2="62.70" stroke="#888888" stroke-width="0.9" opacity="0.75"/>
<line x1="316.00" y1="78.10" x2="321.20" y2="78.10" stroke="#888888" stroke-width="0.9" opacity="0.75"/>
<line x1="345.80" y1="54.80" x2="345.80" y2="72.00" stroke="#888888" stroke-width="0.9" opacity="0.75"/>
<line x1="343.20" y1="54.80" x2="348.40" y2="54.80" stroke="#888888" stroke-width="0.9" opacity="0.75"/>
<line x1="343.20" y1="72.00" x2="348.40" y2="72.00" stroke="#888888" stroke-width="0.9" opacity="0.75"/>
<line x1="372.90" y1="72.50" x2="372.90" y2="78.50" stroke="#888888" stroke-width="0.9" opacity="0.75"/>
<line x1="370.30" y1="72.50" x2="375.50" y2="72.50" stroke="#888888" stroke-width="0.9" opacity="0.75"/>
<line x1="370.30" y1="78.50" x2="375.50" y2="78.50" stroke="#888888" stroke-width="0.9" opacity="0.75"/>
<line x1="400.30" y1="91.00" x2="400.30" y2="98.00" stroke="#888888" stroke-width="0.9" opacity="0.75"/>
<line x1="397.70" y1="91.00" x2="402.90" y2="91.00" stroke="#888888" stroke-width="0.9" opacity="0.75"/>
<line x1="397.70" y1="98.00" x2="402.90" y2="98.00" stroke="#888888" stroke-width="0.9" opacity="0.75"/>
<line x1="263.80" y1="124.00" x2="263.80" y2="128.00" stroke="#000000" stroke-width="0.9" opacity="0.75"/>
<line x1="261.20" y1="124.00" x2="266.40" y2="124.00" stroke="#000000" stroke-width="0.9" opacity="0.75"/>
<line x1="261.20" y1="128.00" x2="266.40" y2="128.00" stroke="#000000" stroke-width="0.9" opacity="0.75"/>
<line x1="291.20" y1="80.80" x2="291.20" y2="86.80" stroke="#000000" stroke-width="0.9" opacity="0.75"/>
<line x1="288.60" y1="80.80" x2="293.80" y2="80.80" stroke="#000000" stroke-width="0.9" opacity="0.75"/>
<line x1="288.60" y1="86.80" x2="293.80" y2="86.80" stroke="#000000" stroke-width="0.9" opacity="0.75"/>
<line x1="318.60" y1="81.00" x2="318.60" y2="89.00" stroke="#000000" stroke-width="0.9" opacity="0.75"/>
<line x1="316.00" y1="81.00" x2="321.20" y2="81.00" stroke="#000000" stroke-width="0.9" opacity="0.75"/>
<line x1="316.00" y1="89.00" x2="321.20" y2="89.00" stroke="#000000" stroke-width="0.9" opacity="0.75"/>
<line x1="345.80" y1="94.80" x2="345.80" y2="100.80" stroke="#000000" stroke-width="0.9" opacity="0.75"/>
<line x1="343.20" y1="94.80" x2="348.40" y2="94.80" stroke="#000000" stroke-width="0.9" opacity="0.75"/>
<line x1="343.20" y1="100.80" x2="348.40" y2="100.80" stroke="#000000" stroke-width="0.9" opacity="0.75"/>
<line x1="372.90" y1="109.50" x2="372.90" y2="114.50" stroke="#000000" stroke-width="0.9" opacity="0.75"/>
<line x1="370.30" y1="109.50" x2="375.50" y2="109.50" stroke="#000000" stroke-width="0.9" opacity="0.75"/>
<line x1="370.30" y1="114.50" x2="375.50" y2="114.50" stroke="#000000" stroke-width="0.9" opacity="0.75"/>
<line x1="400.30" y1="124.50" x2="400.30" y2="128.50" stroke="#000000" stroke-width="0.9" opacity="0.75"/>
<line x1="397.70" y1="124.50" x2="402.90" y2="124.50" stroke="#000000" stroke-width="0.9" opacity="0.75"/>
<line x1="397.70" y1="128.50" x2="402.90" y2="128.50" stroke="#000000" stroke-width="0.9" opacity="0.75"/>
<polyline points="263.80,126.40 291.20,89.10 318.60,86.00 345.80,99.80 372.90,110.30 400.30,120.40" fill="none" stroke="#14149a" stroke-width="1.7" stroke-linejoin="round"/>
<rect x="261.60" y="124.20" width="4.40" height="4.40" fill="#14149a" stroke="#14149a" stroke-width="0.4"/>
<rect x="289.00" y="86.90" width="4.40" height="4.40" fill="#14149a" stroke="#14149a" stroke-width="0.4"/>
<rect x="316.40" y="83.80" width="4.40" height="4.40" fill="#14149a" stroke="#14149a" stroke-width="0.4"/>
<rect x="343.60" y="97.60" width="4.40" height="4.40" fill="#14149a" stroke="#14149a" stroke-width="0.4"/>
<rect x="370.70" y="108.10" width="4.40" height="4.40" fill="#14149a" stroke="#14149a" stroke-width="0.4"/>
<rect x="398.10" y="118.20" width="4.40" height="4.40" fill="#14149a" stroke="#14149a" stroke-width="0.4"/>
<polyline points="263.80,116.50 291.20,78.60 318.60,69.20 345.80,78.10 372.90,87.30 400.30,101.10" fill="none" stroke="#b01e1a" stroke-width="1.5" stroke-linejoin="round"/>
<polygon points="263.80,118.80 265.90,115.10 261.70,115.10" fill="#b01e1a" stroke="#b01e1a" stroke-width="0.4"/>
<polygon points="291.20,80.90 293.30,77.20 289.10,77.20" fill="#b01e1a" stroke="#b01e1a" stroke-width="0.4"/>
<polygon points="318.60,71.50 320.70,67.80 316.50,67.80" fill="#b01e1a" stroke="#b01e1a" stroke-width="0.4"/>
<polygon points="345.80,80.40 347.90,76.70 343.70,76.70" fill="#b01e1a" stroke="#b01e1a" stroke-width="0.4"/>
<polygon points="372.90,89.60 375.00,85.90 370.80,85.90" fill="#b01e1a" stroke="#b01e1a" stroke-width="0.4"/>
<polygon points="400.30,103.40 402.40,99.70 398.20,99.70" fill="#b01e1a" stroke="#b01e1a" stroke-width="0.4"/>
<polyline points="263.80,101.30 291.20,80.00 318.60,70.40 345.80,63.40 372.90,75.50 400.30,94.50" fill="none" stroke="#888888" stroke-width="1.35" stroke-linejoin="round"/>
<polygon points="263.80,99.00 265.90,102.70 261.70,102.70" fill="#888888" stroke="#888888" stroke-width="0.4"/>
<polygon points="291.20,77.70 293.30,81.40 289.10,81.40" fill="#888888" stroke="#888888" stroke-width="0.4"/>
<polygon points="318.60,68.10 320.70,71.80 316.50,71.80" fill="#888888" stroke="#888888" stroke-width="0.4"/>
<polygon points="345.80,61.10 347.90,64.80 343.70,64.80" fill="#888888" stroke="#888888" stroke-width="0.4"/>
<polygon points="372.90,73.20 375.00,76.90 370.80,76.90" fill="#888888" stroke="#888888" stroke-width="0.4"/>
<polygon points="400.30,92.20 402.40,95.90 398.20,95.90" fill="#888888" stroke="#888888" stroke-width="0.4"/>
<polyline points="263.80,126.00 291.20,83.80 318.60,85.00 345.80,97.80 372.90,112.00 400.30,126.50" fill="none" stroke="#000000" stroke-width="2.1" stroke-linejoin="round"/>
<circle cx="263.80" cy="126.00" r="2.5" fill="#000000" stroke="#000000" stroke-width="0.4"/>
<circle cx="291.20" cy="83.80" r="2.5" fill="#000000" stroke="#000000" stroke-width="0.4"/>
<circle cx="318.60" cy="85.00" r="2.5" fill="#000000" stroke="#000000" stroke-width="0.4"/>
<circle cx="345.80" cy="97.80" r="2.5" fill="#000000" stroke="#000000" stroke-width="0.4"/>
<circle cx="372.90" cy="112.00" r="2.5" fill="#000000" stroke="#000000" stroke-width="0.4"/>
<circle cx="400.30" cy="126.50" r="2.5" fill="#000000" stroke="#000000" stroke-width="0.4"/>
<text x="264.60" y="96.60" font-size="9.0" text-anchor="middle" fill="#222">***</text>
<text x="291.20" y="68.60" font-size="6.6" text-anchor="middle" fill="#222">ns</text>
<text x="318.50" y="58.70" font-size="6.6" text-anchor="middle" fill="#222">ns</text>
<text x="344.70" y="49.90" font-size="6.0" text-anchor="middle" fill="#222">p=0.164</text>
<text x="372.70" y="73.00" font-size="7.0" text-anchor="middle" fill="#222">*</text>
<text x="399.40" y="85.30" font-size="6.0" text-anchor="middle" fill="#222">p=0.371</text>
<text x="331.90" y="10.90" font-size="13.1" text-anchor="middle" fill="#111">Glucose tolerance</text>
<text x="332.50" y="201.00" font-size="10.6" text-anchor="middle" fill="#1a1a1a" textLength="70.80" lengthAdjust="spacingAndGlyphs">Time (minutes)</text>
<text x="217.80" y="96.80" font-size="11.2" text-anchor="middle" fill="#1a1a1a" transform="rotate(-90 217.80 96.80)" textLength="114.00" lengthAdjust="spacingAndGlyphs">Blood glucose (mg/dL)</text>
<text x="210.50" y="225.40" font-size="16.5" text-anchor="start" fill="#000" font-weight="bold">E</text>
<line x1="244.70" y1="240.60" x2="244.70" y2="383.70" stroke="#222" stroke-width="1.3"/>
<line x1="240.10" y1="383.10" x2="244.70" y2="383.10" stroke="#222" stroke-width="1.3"/>
<text x="238.10" y="386.38" font-size="9.1" text-anchor="end" fill="#1a1a1a">0</text>
<line x1="240.10" y1="354.60" x2="244.70" y2="354.60" stroke="#222" stroke-width="1.3"/>
<text x="238.10" y="357.88" font-size="9.1" text-anchor="end" fill="#1a1a1a">50</text>
<line x1="240.10" y1="326.10" x2="244.70" y2="326.10" stroke="#222" stroke-width="1.3"/>
<text x="238.10" y="329.38" font-size="9.1" text-anchor="end" fill="#1a1a1a">100</text>
<line x1="240.10" y1="297.60" x2="244.70" y2="297.60" stroke="#222" stroke-width="1.3"/>
<text x="238.10" y="300.88" font-size="9.1" text-anchor="end" fill="#1a1a1a">150</text>
<line x1="240.10" y1="269.10" x2="244.70" y2="269.10" stroke="#222" stroke-width="1.3"/>
<text x="238.10" y="272.38" font-size="9.1" text-anchor="end" fill="#1a1a1a">200</text>
<line x1="240.10" y1="240.60" x2="244.70" y2="240.60" stroke="#222" stroke-width="1.3"/>
<text x="238.10" y="243.88" font-size="9.1" text-anchor="end" fill="#1a1a1a">250</text>
<line x1="244.10" y1="383.10" x2="418.70" y2="383.10" stroke="#222" stroke-width="1.3"/>
<line x1="262.60" y1="383.10" x2="262.60" y2="387.40" stroke="#222" stroke-width="1.2"/>
<text x="262.60" y="397.90" font-size="9.4" text-anchor="middle" fill="#1a1a1a">0</text>
<line x1="290.00" y1="383.10" x2="290.00" y2="387.40" stroke="#222" stroke-width="1.2"/>
<text x="290.00" y="397.90" font-size="9.4" text-anchor="middle" fill="#1a1a1a">15</text>
<line x1="317.50" y1="383.10" x2="317.50" y2="387.40" stroke="#222" stroke-width="1.2"/>
<text x="317.50" y="397.90" font-size="9.4" text-anchor="middle" fill="#1a1a1a">30</text>
<line x1="345.10" y1="383.10" x2="345.10" y2="387.40" stroke="#222" stroke-width="1.2"/>
<text x="345.10" y="397.90" font-size="9.4" text-anchor="middle" fill="#1a1a1a">60</text>
<line x1="372.30" y1="383.10" x2="372.30" y2="387.40" stroke="#222" stroke-width="1.2"/>
<text x="372.30" y="397.90" font-size="9.4" text-anchor="middle" fill="#1a1a1a">90</text>
<line x1="399.60" y1="383.10" x2="399.60" y2="387.40" stroke="#222" stroke-width="1.2"/>
<text x="399.60" y="397.90" font-size="9.4" text-anchor="middle" fill="#1a1a1a">120</text>
<line x1="262.60" y1="293.00" x2="262.60" y2="297.00" stroke="#14149a" stroke-width="0.9" opacity="0.75"/>
<line x1="260.00" y1="293.00" x2="265.20" y2="293.00" stroke="#14149a" stroke-width="0.9" opacity="0.75"/>
<line x1="260.00" y1="297.00" x2="265.20" y2="297.00" stroke="#14149a" stroke-width="0.9" opacity="0.75"/>
<line x1="290.00" y1="328.10" x2="290.00" y2="332.10" stroke="#14149a" stroke-width="0.9" opacity="0.75"/>
<line x1="287.40" y1="328.10" x2="292.60" y2="328.10" stroke="#14149a" stroke-width="0.9" opacity="0.75"/>
<line x1="287.40" y1="332.10" x2="292.60" y2="332.10" stroke="#14149a" stroke-width="0.9" opacity="0.75"/>
<line x1="317.50" y1="338.50" x2="317.50" y2="341.50" stroke="#14149a" stroke-width="0.9" opacity="0.75"/>
<line x1="314.90" y1="338.50" x2="320.10" y2="338.50" stroke="#14149a" stroke-width="0.9" opacity="0.75"/>
<line x1="314.90" y1="341.50" x2="320.10" y2="341.50" stroke="#14149a" stroke-width="0.9" opacity="0.75"/>
<line x1="345.10" y1="337.30" x2="345.10" y2="340.30" stroke="#14149a" stroke-width="0.9" opacity="0.75"/>
<line x1="342.50" y1="337.30" x2="347.70" y2="337.30" stroke="#14149a" stroke-width="0.9" opacity="0.75"/>
<line x1="342.50" y1="340.30" x2="347.70" y2="340.30" stroke="#14149a" stroke-width="0.9" opacity="0.75"/>
<line x1="372.30" y1="331.50" x2="372.30" y2="336.50" stroke="#14149a" stroke-width="0.9" opacity="0.75"/>
<line x1="369.70" y1="331.50" x2="374.90" y2="331.50" stroke="#14149a" stroke-width="0.9" opacity="0.75"/>
<line x1="369.70" y1="336.50" x2="374.90" y2="336.50" stroke="#14149a" stroke-width="0.9" opacity="0.75"/>
<line x1="399.60" y1="320.00" x2="399.60" y2="324.00" stroke="#14149a" stroke-width="0.9" opacity="0.75"/>
<line x1="397.00" y1="320.00" x2="402.20" y2="320.00" stroke="#14149a" stroke-width="0.9" opacity="0.75"/>
<line x1="397.00" y1="324.00" x2="402.20" y2="324.00" stroke="#14149a" stroke-width="0.9" opacity="0.75"/>
<line x1="262.60" y1="293.10" x2="262.60" y2="298.10" stroke="#b01e1a" stroke-width="0.9" opacity="0.75"/>
<line x1="260.00" y1="293.10" x2="265.20" y2="293.10" stroke="#b01e1a" stroke-width="0.9" opacity="0.75"/>
<line x1="260.00" y1="298.10" x2="265.20" y2="298.10" stroke="#b01e1a" stroke-width="0.9" opacity="0.75"/>
<line x1="290.00" y1="314.20" x2="290.00" y2="320.20" stroke="#b01e1a" stroke-width="0.9" opacity="0.75"/>
<line x1="287.40" y1="314.20" x2="292.60" y2="314.20" stroke="#b01e1a" stroke-width="0.9" opacity="0.75"/>
<line x1="287.40" y1="320.20" x2="292.60" y2="320.20" stroke="#b01e1a" stroke-width="0.9" opacity="0.75"/>
<line x1="317.50" y1="330.50" x2="317.50" y2="336.50" stroke="#b01e1a" stroke-width="0.9" opacity="0.75"/>
<line x1="314.90" y1="330.50" x2="320.10" y2="330.50" stroke="#b01e1a" stroke-width="0.9" opacity="0.75"/>
<line x1="314.90" y1="336.50" x2="320.10" y2="336.50" stroke="#b01e1a" stroke-width="0.9" opacity="0.75"/>
<line x1="345.10" y1="318.80" x2="345.10" y2="327.40" stroke="#b01e1a" stroke-width="0.9" opacity="0.75"/>
<line x1="342.50" y1="318.80" x2="347.70" y2="318.80" stroke="#b01e1a" stroke-width="0.9" opacity="0.75"/>
<line x1="342.50" y1="327.40" x2="347.70" y2="327.40" stroke="#b01e1a" stroke-width="0.9" opacity="0.75"/>
<line x1="372.30" y1="302.20" x2="372.30" y2="311.00" stroke="#b01e1a" stroke-width="0.9" opacity="0.75"/>
<line x1="369.70" y1="302.20" x2="374.90" y2="302.20" stroke="#b01e1a" stroke-width="0.9" opacity="0.75"/>
<line x1="369.70" y1="311.00" x2="374.90" y2="311.00" stroke="#b01e1a" stroke-width="0.9" opacity="0.75"/>
<line x1="399.60" y1="287.60" x2="399.60" y2="294.20" stroke="#b01e1a" stroke-width="0.9" opacity="0.75"/>
<line x1="397.00" y1="287.60" x2="402.20" y2="287.60" stroke="#b01e1a" stroke-width="0.9" opacity="0.75"/>
<line x1="397.00" y1="294.20" x2="402.20" y2="294.20" stroke="#b01e1a" stroke-width="0.9" opacity="0.75"/>
<line x1="262.60" y1="278.10" x2="262.60" y2="282.70" stroke="#888888" stroke-width="0.9" opacity="0.75"/>
<line x1="260.00" y1="278.10" x2="265.20" y2="278.10" stroke="#888888" stroke-width="0.9" opacity="0.75"/>
<line x1="260.00" y1="282.70" x2="265.20" y2="282.70" stroke="#888888" stroke-width="0.9" opacity="0.75"/>
<line x1="290.00" y1="316.00" x2="290.00" y2="322.00" stroke="#888888" stroke-width="0.9" opacity="0.75"/>
<line x1="287.40" y1="316.00" x2="292.60" y2="316.00" stroke="#888888" stroke-width="0.9" opacity="0.75"/>
<line x1="287.40" y1="322.00" x2="292.60" y2="322.00" stroke="#888888" stroke-width="0.9" opacity="0.75"/>
<line x1="317.50" y1="329.40" x2="317.50" y2="335.40" stroke="#888888" stroke-width="0.9" opacity="0.75"/>
<line x1="314.90" y1="329.40" x2="320.10" y2="329.40" stroke="#888888" stroke-width="0.9" opacity="0.75"/>
<line x1="314.90" y1="335.40" x2="320.10" y2="335.40" stroke="#888888" stroke-width="0.9" opacity="0.75"/>
<line x1="345.10" y1="305.70" x2="345.10" y2="320.70" stroke="#888888" stroke-width="0.9" opacity="0.75"/>
<line x1="342.50" y1="305.70" x2="347.70" y2="305.70" stroke="#888888" stroke-width="0.9" opacity="0.75"/>
<line x1="342.50" y1="320.70" x2="347.70" y2="320.70" stroke="#888888" stroke-width="0.9" opacity="0.75"/>
<line x1="372.30" y1="290.50" x2="372.30" y2="303.10" stroke="#888888" stroke-width="0.9" opacity="0.75"/>
<line x1="369.70" y1="290.50" x2="374.90" y2="290.50" stroke="#888888" stroke-width="0.9" opacity="0.75"/>
<line x1="369.70" y1="303.10" x2="374.90" y2="303.10" stroke="#888888" stroke-width="0.9" opacity="0.75"/>
<line x1="399.60" y1="279.40" x2="399.60" y2="295.80" stroke="#888888" stroke-width="0.9" opacity="0.75"/>
<line x1="397.00" y1="279.40" x2="402.20" y2="279.40" stroke="#888888" stroke-width="0.9" opacity="0.75"/>
<line x1="397.00" y1="295.80" x2="402.20" y2="295.80" stroke="#888888" stroke-width="0.9" opacity="0.75"/>
<line x1="262.60" y1="294.90" x2="262.60" y2="299.90" stroke="#000000" stroke-width="0.9" opacity="0.75"/>
<line x1="260.00" y1="294.90" x2="265.20" y2="294.90" stroke="#000000" stroke-width="0.9" opacity="0.75"/>
<line x1="260.00" y1="299.90" x2="265.20" y2="299.90" stroke="#000000" stroke-width="0.9" opacity="0.75"/>
<line x1="290.00" y1="322.00" x2="290.00" y2="326.00" stroke="#000000" stroke-width="0.9" opacity="0.75"/>
<line x1="287.40" y1="322.00" x2="292.60" y2="322.00" stroke="#000000" stroke-width="0.9" opacity="0.75"/>
<line x1="287.40" y1="326.00" x2="292.60" y2="326.00" stroke="#000000" stroke-width="0.9" opacity="0.75"/>
<line x1="317.50" y1="333.90" x2="317.50" y2="337.90" stroke="#000000" stroke-width="0.9" opacity="0.75"/>
<line x1="314.90" y1="333.90" x2="320.10" y2="333.90" stroke="#000000" stroke-width="0.9" opacity="0.75"/>
<line x1="314.90" y1="337.90" x2="320.10" y2="337.90" stroke="#000000" stroke-width="0.9" opacity="0.75"/>
<line x1="345.10" y1="337.30" x2="345.10" y2="340.30" stroke="#000000" stroke-width="0.9" opacity="0.75"/>
<line x1="342.50" y1="337.30" x2="347.70" y2="337.30" stroke="#000000" stroke-width="0.9" opacity="0.75"/>
<line x1="342.50" y1="340.30" x2="347.70" y2="340.30" stroke="#000000" stroke-width="0.9" opacity="0.75"/>
<line x1="372.30" y1="332.40" x2="372.30" y2="337.40" stroke="#000000" stroke-width="0.9" opacity="0.75"/>
<line x1="369.70" y1="332.40" x2="374.90" y2="332.40" stroke="#000000" stroke-width="0.9" opacity="0.75"/>
<line x1="369.70" y1="337.40" x2="374.90" y2="337.40" stroke="#000000" stroke-width="0.9" opacity="0.75"/>
<line x1="399.60" y1="318.70" x2="399.60" y2="322.70" stroke="#000000" stroke-width="0.9" opacity="0.75"/>
<line x1="397.00" y1="318.70" x2="402.20" y2="318.70" stroke="#000000" stroke-width="0.9" opacity="0.75"/>
<line x1="397.00" y1="322.70" x2="402.20" y2="322.70" stroke="#000000" stroke-width="0.9" opacity="0.75"/>
<polyline points="262.60,295.00 290.00,330.10 317.50,340.00 345.10,338.80 372.30,334.00 399.60,322.00" fill="none" stroke="#14149a" stroke-width="1.7" stroke-linejoin="round"/>
<rect x="260.40" y="292.80" width="4.40" height="4.40" fill="#14149a" stroke="#14149a" stroke-width="0.4"/>
<rect x="287.80" y="327.90" width="4.40" height="4.40" fill="#14149a" stroke="#14149a" stroke-width="0.4"/>
<rect x="315.30" y="337.80" width="4.40" height="4.40" fill="#14149a" stroke="#14149a" stroke-width="0.4"/>
<rect x="342.90" y="336.60" width="4.40" height="4.40" fill="#14149a" stroke="#14149a" stroke-width="0.4"/>
<rect x="370.10" y="331.80" width="4.40" height="4.40" fill="#14149a" stroke="#14149a" stroke-width="0.4"/>
<rect x="397.40" y="319.80" width="4.40" height="4.40" fill="#14149a" stroke="#14149a" stroke-width="0.4"/>
<polyline points="262.60,295.60 290.00,317.20 317.50,333.50 345.10,323.10 372.30,306.60 399.60,290.90" fill="none" stroke="#b01e1a" stroke-width="1.5" stroke-linejoin="round"/>
<polygon points="262.60,297.90 264.70,294.20 260.50,294.20" fill="#b01e1a" stroke="#b01e1a" stroke-width="0.4"/>
<polygon points="290.00,319.50 292.10,315.80 287.90,315.80" fill="#b01e1a" stroke="#b01e1a" stroke-width="0.4"/>
<polygon points="317.50,335.80 319.60,332.10 315.40,332.10" fill="#b01e1a" stroke="#b01e1a" stroke-width="0.4"/>
<polygon points="345.10,325.40 347.20,321.70 343.00,321.70" fill="#b01e1a" stroke="#b01e1a" stroke-width="0.4"/>
<polygon points="372.30,308.90 374.40,305.20 370.20,305.20" fill="#b01e1a" stroke="#b01e1a" stroke-width="0.4"/>
<polygon points="399.60,293.20 401.70,289.50 397.50,289.50" fill="#b01e1a" stroke="#b01e1a" stroke-width="0.4"/>
<polyline points="262.60,280.40 290.00,319.00 317.50,332.40 345.10,313.20 372.30,296.80 399.60,287.60" fill="none" stroke="#888888" stroke-width="1.35" stroke-linejoin="round"/>
<polygon points="262.60,278.10 264.70,281.80 260.50,281.80" fill="#888888" stroke="#888888" stroke-width="0.4"/>
<polygon points="290.00,316.70 292.10,320.40 287.90,320.40" fill="#888888" stroke="#888888" stroke-width="0.4"/>
<polygon points="317.50,330.10 319.60,333.80 315.40,333.80" fill="#888888" stroke="#888888" stroke-width="0.4"/>
<polygon points="345.10,310.90 347.20,314.60 343.00,314.60" fill="#888888" stroke="#888888" stroke-width="0.4"/>
<polygon points="372.30,294.50 374.40,298.20 370.20,298.20" fill="#888888" stroke="#888888" stroke-width="0.4"/>
<polygon points="399.60,285.30 401.70,289.00 397.50,289.00" fill="#888888" stroke="#888888" stroke-width="0.4"/>
<polyline points="262.60,297.40 290.00,324.00 317.50,335.90 345.10,338.80 372.30,334.90 399.60,320.70" fill="none" stroke="#000000" stroke-width="2.1" stroke-linejoin="round"/>
<circle cx="262.60" cy="297.40" r="2.5" fill="#000000" stroke="#000000" stroke-width="0.4"/>
<circle cx="290.00" cy="324.00" r="2.5" fill="#000000" stroke="#000000" stroke-width="0.4"/>
<circle cx="317.50" cy="335.90" r="2.5" fill="#000000" stroke="#000000" stroke-width="0.4"/>
<circle cx="345.10" cy="338.80" r="2.5" fill="#000000" stroke="#000000" stroke-width="0.4"/>
<circle cx="372.30" cy="334.90" r="2.5" fill="#000000" stroke="#000000" stroke-width="0.4"/>
<circle cx="399.60" cy="320.70" r="2.5" fill="#000000" stroke="#000000" stroke-width="0.4"/>
<text x="262.60" y="275.89" font-size="7.0" text-anchor="middle" fill="#222">*</text>
<text x="290.60" y="311.40" font-size="6.6" text-anchor="middle" fill="#222">ns</text>
<text x="318.00" y="326.60" font-size="6.6" text-anchor="middle" fill="#222">ns</text>
<text x="344.30" y="300.10" font-size="6.2" text-anchor="middle" fill="#222" font-style="italic">p=0.1621</text>
<text x="372.20" y="286.90" font-size="6.2" text-anchor="middle" fill="#222" font-style="italic">p=0.1799</text>
<text x="400.40" y="275.80" font-size="6.6" text-anchor="middle" fill="#222">ns</text>
<text x="331.50" y="223.90" font-size="13.1" text-anchor="middle" fill="#111">Insulin tolerance</text>
<text x="331.80" y="415.50" font-size="10.6" text-anchor="middle" fill="#1a1a1a" textLength="70.80" lengthAdjust="spacingAndGlyphs">Time (minutes)</text>
<text x="217.90" y="310.60" font-size="10.6" text-anchor="middle" fill="#1a1a1a" transform="rotate(-90 217.90 310.60)" textLength="104.50" lengthAdjust="spacingAndGlyphs">Blood glucose (mg/dL)</text>
<line x1="444.30" y1="51.60" x2="456.90" y2="51.60" stroke="#000000" stroke-width="1.5"/>
<circle cx="450.70" cy="51.60" r="2.625" fill="#000000" stroke="#000000" stroke-width="0.4"/>
<text x="463.80" y="55.00" font-size="9.3" text-anchor="start" fill="#1a1a1a">ND</text>
<line x1="444.30" y1="278.50" x2="456.90" y2="278.50" stroke="#000000" stroke-width="1.5"/>
<circle cx="450.70" cy="278.50" r="3.625" fill="#000000" stroke="#000000" stroke-width="0.4"/>
<text x="463.80" y="281.90" font-size="9.3" text-anchor="start" fill="#1a1a1a">ND</text>
<line x1="444.30" y1="68.25" x2="456.90" y2="68.25" stroke="#14149a" stroke-width="1.5"/>
<rect x="448.39" y="65.94" width="4.62" height="4.62" fill="#14149a" stroke="#14149a" stroke-width="0.4"/>
<text x="463.80" y="71.65" font-size="9.3" text-anchor="start" fill="#1a1a1a">ND+D</text>
<line x1="444.30" y1="293.83" x2="456.90" y2="293.83" stroke="#14149a" stroke-width="1.5"/>
<rect x="447.51" y="290.64" width="6.38" height="6.38" fill="#14149a" stroke="#14149a" stroke-width="0.4"/>
<text x="463.80" y="297.23" font-size="9.3" text-anchor="start" fill="#1a1a1a">ND+D</text>
<line x1="444.30" y1="84.90" x2="456.90" y2="84.90" stroke="#888888" stroke-width="1.5"/>
<polygon points="450.70,82.48 452.90,86.37 448.50,86.37" fill="#888888" stroke="#888888" stroke-width="0.4"/>
<text x="463.80" y="88.30" font-size="9.3" text-anchor="start" fill="#1a1a1a">HFD</text>
<line x1="444.30" y1="309.16" x2="456.90" y2="309.16" stroke="#888888" stroke-width="1.5"/>
<polygon points="450.70,305.83 453.75,311.19 447.65,311.19" fill="#888888" stroke="#888888" stroke-width="0.4"/>
<text x="463.80" y="312.56" font-size="9.3" text-anchor="start" fill="#1a1a1a">HFD</text>
<line x1="444.30" y1="101.55" x2="456.90" y2="101.55" stroke="#b01e1a" stroke-width="1.5"/>
<polygon points="450.70,103.97 452.90,100.08 448.50,100.08" fill="#b01e1a" stroke="#b01e1a" stroke-width="0.4"/>
<text x="463.80" y="104.95" font-size="9.3" text-anchor="start" fill="#1a1a1a">HFD+D</text>
<line x1="444.30" y1="324.49" x2="456.90" y2="324.49" stroke="#b01e1a" stroke-width="1.5"/>
<polygon points="450.70,327.82 453.75,322.46 447.65,322.46" fill="#b01e1a" stroke="#b01e1a" stroke-width="0.4"/>
<text x="463.80" y="327.89" font-size="9.3" text-anchor="start" fill="#1a1a1a">HFD+D</text>
<text x="13.80" y="457.00" font-size="12.5" text-anchor="start" fill="#111" font-weight="bold">GOBP preranked analysis: HFD/ND</text>
<text x="10.20" y="682.20" font-size="12.5" text-anchor="start" fill="#111" font-weight="bold">GOBP preranked analysis: HFD+D/HFD</text>
<text x="2.00" y="481.00" font-size="16.5" text-anchor="start" fill="#000" font-weight="bold">G</text>
<text x="247.50" y="481.30" font-size="16.5" text-anchor="start" fill="#000" font-weight="bold">H</text>
<text x="5.00" y="715.00" font-size="16.5" text-anchor="start" fill="#000" font-weight="bold">I</text>
<text x="250.00" y="715.70" font-size="16.5" text-anchor="start" fill="#000" font-weight="bold">J</text>
<text x="508.50" y="586.20" font-size="16.5" text-anchor="start" fill="#000" font-weight="bold">K</text>
<text x="529.20" y="587.70" font-size="12.5" text-anchor="start" fill="#111" font-weight="bold">GOBP response to insulin</text>
<rect x="17.00" y="493.10" width="213.00" height="135.60" fill="#efefef" stroke="none" stroke-width="1.0"/>
<rect x="42.40" y="505.40" width="185.60" height="122.20" fill="#ffffff" stroke="#c8c8c8" stroke-width="0.7"/>
<line x1="68.50" y1="505.40" x2="68.50" y2="592.00" stroke="#e2e2e2" stroke-width="0.6" stroke-dasharray="1.5,1.5"/>
<line x1="93.50" y1="505.40" x2="93.50" y2="592.00" stroke="#e2e2e2" stroke-width="0.6" stroke-dasharray="1.5,1.5"/>
<line x1="119.30" y1="505.40" x2="119.30" y2="592.00" stroke="#e2e2e2" stroke-width="0.6" stroke-dasharray="1.5,1.5"/>
<line x1="145.70" y1="505.40" x2="145.70" y2="592.00" stroke="#e2e2e2" stroke-width="0.6" stroke-dasharray="1.5,1.5"/>
<line x1="171.70" y1="505.40" x2="171.70" y2="592.00" stroke="#e2e2e2" stroke-width="0.6" stroke-dasharray="1.5,1.5"/>
<line x1="197.80" y1="505.40" x2="197.80" y2="592.00" stroke="#e2e2e2" stroke-width="0.6" stroke-dasharray="1.5,1.5"/>
<line x1="223.80" y1="505.40" x2="223.80" y2="592.00" stroke="#e2e2e2" stroke-width="0.6" stroke-dasharray="1.5,1.5"/>
<line x1="42.40" y1="512.40" x2="228.00" y2="512.40" stroke="#e2e2e2" stroke-width="0.6" stroke-dasharray="1.5,1.5"/>
<line x1="40.40" y1="512.40" x2="42.40" y2="512.40" stroke="#999" stroke-width="0.6"/>
<text x="39.80" y="514.40" font-size="5.6" text-anchor="end" fill="#8a8a8a">0.1</text>
<line x1="42.40" y1="544.60" x2="228.00" y2="544.60" stroke="#e2e2e2" stroke-width="0.6" stroke-dasharray="1.5,1.5"/>
<line x1="40.40" y1="544.60" x2="42.40" y2="544.60" stroke="#999" stroke-width="0.6"/>
<text x="39.80" y="546.60" font-size="5.6" text-anchor="end" fill="#8a8a8a">-0.1</text>
<line x1="42.40" y1="560.80" x2="228.00" y2="560.80" stroke="#e2e2e2" stroke-width="0.6" stroke-dasharray="1.5,1.5"/>
<line x1="40.40" y1="560.80" x2="42.40" y2="560.80" stroke="#999" stroke-width="0.6"/>
<text x="39.80" y="562.80" font-size="5.6" text-anchor="end" fill="#8a8a8a">-0.2</text>
<line x1="42.40" y1="577.00" x2="228.00" y2="577.00" stroke="#e2e2e2" stroke-width="0.6" stroke-dasharray="1.5,1.5"/>
<line x1="40.40" y1="577.00" x2="42.40" y2="577.00" stroke="#999" stroke-width="0.6"/>
<text x="39.80" y="579.00" font-size="5.6" text-anchor="end" fill="#8a8a8a">-0.3</text>
<line x1="42.40" y1="528.40" x2="228.00" y2="528.40" stroke="#a8a8a8" stroke-width="0.8"/>
<line x1="42.40" y1="592.00" x2="228.00" y2="592.00" stroke="#b0b0b0" stroke-width="0.7"/>
<rect x="42.60" y="592.30" width="1.25" height="27.70" fill="rgb(194,194,194)" stroke="none" stroke-width="1.0"/>
<rect x="43.80" y="592.30" width="1.25" height="27.70" fill="rgb(78,78,78)" stroke="none" stroke-width="1.0"/>
<rect x="45.00" y="592.30" width="1.55" height="27.70" fill="rgb(78,78,78)" stroke="none" stroke-width="1.0"/>
<rect x="46.50" y="592.30" width="0.65" height="27.70" fill="rgb(34,34,34)" stroke="none" stroke-width="1.0"/>
<rect x="47.10" y="592.30" width="1.85" height="27.70" fill="rgb(105,105,105)" stroke="none" stroke-width="1.0"/>
<rect x="48.90" y="592.30" width="1.25" height="27.70" fill="rgb(75,75,75)" stroke="none" stroke-width="1.0"/>
<rect x="53.10" y="592.30" width="0.65" height="27.70" fill="rgb(1,1,1)" stroke="none" stroke-width="1.0"/>
<rect x="53.70" y="592.30" width="1.25" height="27.70" fill="rgb(80,80,80)" stroke="none" stroke-width="1.0"/>
<rect x="54.90" y="592.30" width="1.55" height="27.70" fill="rgb(0,0,0)" stroke="none" stroke-width="1.0"/>
<rect x="58.20" y="592.30" width="1.85" height="27.70" fill="rgb(145,145,145)" stroke="none" stroke-width="1.0"/>
<rect x="60.00" y="592.30" width="1.85" height="27.70" fill="rgb(200,200,200)" stroke="none" stroke-width="1.0"/>
<rect x="62.80" y="592.30" width="1.55" height="27.70" fill="rgb(92,92,92)" stroke="none" stroke-width="1.0"/>
<rect x="65.50" y="592.30" width="0.65" height="27.70" fill="rgb(13,13,13)" stroke="none" stroke-width="1.0"/>
<rect x="66.10" y="592.30" width="0.65" height="27.70" fill="rgb(185,185,185)" stroke="none" stroke-width="1.0"/>
<rect x="67.90" y="592.30" width="1.85" height="27.70" fill="rgb(98,98,98)" stroke="none" stroke-width="1.0"/>
<rect x="69.70" y="592.30" width="0.65" height="27.70" fill="rgb(26,26,26)" stroke="none" stroke-width="1.0"/>
<rect x="70.30" y="592.30" width="0.65" height="27.70" fill="rgb(56,56,56)" stroke="none" stroke-width="1.0"/>
<rect x="70.90" y="592.30" width="0.65" height="27.70" fill="rgb(79,79,79)" stroke="none" stroke-width="1.0"/>
<rect x="71.50" y="592.30" width="1.25" height="27.70" fill="rgb(151,151,151)" stroke="none" stroke-width="1.0"/>
<rect x="72.70" y="592.30" width="1.25" height="27.70" fill="rgb(26,26,26)" stroke="none" stroke-width="1.0"/>
<rect x="74.70" y="592.30" width="1.55" height="27.70" fill="rgb(161,161,161)" stroke="none" stroke-width="1.0"/>
<rect x="76.20" y="592.30" width="0.85" height="27.70" fill="rgb(147,147,147)" stroke="none" stroke-width="1.0"/>
<rect x="77.00" y="592.30" width="0.65" height="27.70" fill="rgb(16,16,16)" stroke="none" stroke-width="1.0"/>
<rect x="77.60" y="592.30" width="0.65" height="27.70" fill="rgb(18,18,18)" stroke="none" stroke-width="1.0"/>
<rect x="79.40" y="592.30" width="0.65" height="27.70" fill="rgb(56,56,56)" stroke="none" stroke-width="1.0"/>
<rect x="80.00" y="592.30" width="1.55" height="27.70" fill="rgb(71,71,71)" stroke="none" stroke-width="1.0"/>
<rect x="81.50" y="592.30" width="1.55" height="27.70" fill="rgb(104,104,104)" stroke="none" stroke-width="1.0"/>
<rect x="83.00" y="592.30" width="0.85" height="27.70" fill="rgb(14,14,14)" stroke="none" stroke-width="1.0"/>
<rect x="83.80" y="592.30" width="1.55" height="27.70" fill="rgb(35,35,35)" stroke="none" stroke-width="1.0"/>
<rect x="85.30" y="592.30" width="0.85" height="27.70" fill="rgb(30,30,30)" stroke="none" stroke-width="1.0"/>
<rect x="88.20" y="592.30" width="0.65" height="27.70" fill="rgb(25,25,25)" stroke="none" stroke-width="1.0"/>
<rect x="88.80" y="592.30" width="1.05" height="27.70" fill="rgb(197,197,197)" stroke="none" stroke-width="1.0"/>
<rect x="89.80" y="592.30" width="1.05" height="27.70" fill="rgb(143,143,143)" stroke="none" stroke-width="1.0"/>
<rect x="90.80" y="592.30" width="0.85" height="27.70" fill="rgb(64,64,64)" stroke="none" stroke-width="1.0"/>
<rect x="91.60" y="592.30" width="1.05" height="27.70" fill="rgb(137,137,137)" stroke="none" stroke-width="1.0"/>
<rect x="92.60" y="592.30" width="0.65" height="27.70" fill="rgb(62,62,62)" stroke="none" stroke-width="1.0"/>
<rect x="93.20" y="592.30" width="0.65" height="27.70" fill="rgb(8,8,8)" stroke="none" stroke-width="1.0"/>
<rect x="93.80" y="592.30" width="0.65" height="27.70" fill="rgb(177,177,177)" stroke="none" stroke-width="1.0"/>
<rect x="94.40" y="592.30" width="1.85" height="27.70" fill="rgb(72,72,72)" stroke="none" stroke-width="1.0"/>
<rect x="97.70" y="592.30" width="0.65" height="27.70" fill="rgb(19,19,19)" stroke="none" stroke-width="1.0"/>
<rect x="100.70" y="592.30" width="0.65" height="27.70" fill="rgb(4,4,4)" stroke="none" stroke-width="1.0"/>
<rect x="101.30" y="592.30" width="0.65" height="27.70" fill="rgb(2,2,2)" stroke="none" stroke-width="1.0"/>
<rect x="101.90" y="592.30" width="1.85" height="27.70" fill="rgb(21,21,21)" stroke="none" stroke-width="1.0"/>
<rect x="104.70" y="592.30" width="1.25" height="27.70" fill="rgb(188,188,188)" stroke="none" stroke-width="1.0"/>
<rect x="105.90" y="592.30" width="0.65" height="27.70" fill="rgb(103,103,103)" stroke="none" stroke-width="1.0"/>
<rect x="106.50" y="592.30" width="1.25" height="27.70" fill="rgb(65,65,65)" stroke="none" stroke-width="1.0"/>
<rect x="107.70" y="592.30" width="0.65" height="27.70" fill="rgb(188,188,188)" stroke="none" stroke-width="1.0"/>
<rect x="108.30" y="592.30" width="1.85" height="27.70" fill="rgb(193,193,193)" stroke="none" stroke-width="1.0"/>
<rect x="110.10" y="592.30" width="1.25" height="27.70" fill="rgb(120,120,120)" stroke="none" stroke-width="1.0"/>
<rect x="111.30" y="592.30" width="0.65" height="27.70" fill="rgb(1,1,1)" stroke="none" stroke-width="1.0"/>
<rect x="111.90" y="592.30" width="0.85" height="27.70" fill="rgb(31,31,31)" stroke="none" stroke-width="1.0"/>
<rect x="112.70" y="592.30" width="1.05" height="27.70" fill="rgb(9,9,9)" stroke="none" stroke-width="1.0"/>
<rect x="113.70" y="592.30" width="1.85" height="27.70" fill="rgb(98,98,98)" stroke="none" stroke-width="1.0"/>
<rect x="115.50" y="592.30" width="1.85" height="27.70" fill="rgb(85,85,85)" stroke="none" stroke-width="1.0"/>
<rect x="117.30" y="592.30" width="1.05" height="27.70" fill="rgb(27,27,27)" stroke="none" stroke-width="1.0"/>
<rect x="118.30" y="592.30" width="0.85" height="27.70" fill="rgb(20,20,20)" stroke="none" stroke-width="1.0"/>
<rect x="119.10" y="592.30" width="0.85" height="27.70" fill="rgb(60,60,60)" stroke="none" stroke-width="1.0"/>
<rect x="121.70" y="592.30" width="1.05" height="27.70" fill="rgb(30,30,30)" stroke="none" stroke-width="1.0"/>
<rect x="122.70" y="592.30" width="1.05" height="27.70" fill="rgb(183,183,183)" stroke="none" stroke-width="1.0"/>
<rect x="123.70" y="592.30" width="1.85" height="27.70" fill="rgb(112,112,112)" stroke="none" stroke-width="1.0"/>
<rect x="126.50" y="592.30" width="0.65" height="27.70" fill="rgb(90,90,90)" stroke="none" stroke-width="1.0"/>
<rect x="127.10" y="592.30" width="1.55" height="27.70" fill="rgb(57,57,57)" stroke="none" stroke-width="1.0"/>
<rect x="128.60" y="592.30" width="1.85" height="27.70" fill="rgb(58,58,58)" stroke="none" stroke-width="1.0"/>
<rect x="130.40" y="592.30" width="1.05" height="27.70" fill="rgb(3,3,3)" stroke="none" stroke-width="1.0"/>
<rect x="133.20" y="592.30" width="0.65" height="27.70" fill="rgb(102,102,102)" stroke="none" stroke-width="1.0"/>
<rect x="133.80" y="592.30" width="0.65" height="27.70" fill="rgb(30,30,30)" stroke="none" stroke-width="1.0"/>
<rect x="134.40" y="592.30" width="1.05" height="27.70" fill="rgb(30,30,30)" stroke="none" stroke-width="1.0"/>
<rect x="135.40" y="592.30" width="1.55" height="27.70" fill="rgb(17,17,17)" stroke="none" stroke-width="1.0"/>
<rect x="136.90" y="592.30" width="1.05" height="27.70" fill="rgb(199,199,199)" stroke="none" stroke-width="1.0"/>
<rect x="137.90" y="592.30" width="1.55" height="27.70" fill="rgb(14,14,14)" stroke="none" stroke-width="1.0"/>
<rect x="139.40" y="592.30" width="0.65" height="27.70" fill="rgb(184,184,184)" stroke="none" stroke-width="1.0"/>
<rect x="140.00" y="592.30" width="0.85" height="27.70" fill="rgb(0,0,0)" stroke="none" stroke-width="1.0"/>
<rect x="140.80" y="592.30" width="1.25" height="27.70" fill="rgb(119,119,119)" stroke="none" stroke-width="1.0"/>
<rect x="142.00" y="592.30" width="1.05" height="27.70" fill="rgb(81,81,81)" stroke="none" stroke-width="1.0"/>
<rect x="143.00" y="592.30" width="0.65" height="27.70" fill="rgb(150,150,150)" stroke="none" stroke-width="1.0"/>
<rect x="143.60" y="592.30" width="0.85" height="27.70" fill="rgb(5,5,5)" stroke="none" stroke-width="1.0"/>
<rect x="144.40" y="592.30" width="1.05" height="27.70" fill="rgb(176,176,176)" stroke="none" stroke-width="1.0"/>
<rect x="145.40" y="592.30" width="1.05" height="27.70" fill="rgb(179,179,179)" stroke="none" stroke-width="1.0"/>
<rect x="147.90" y="592.30" width="1.25" height="27.70" fill="rgb(90,90,90)" stroke="none" stroke-width="1.0"/>
<rect x="149.10" y="592.30" width="1.25" height="27.70" fill="rgb(4,4,4)" stroke="none" stroke-width="1.0"/>
<rect x="150.30" y="592.30" width="1.25" height="27.70" fill="rgb(21,21,21)" stroke="none" stroke-width="1.0"/>
<rect x="151.50" y="592.30" width="1.85" height="27.70" fill="rgb(9,9,9)" stroke="none" stroke-width="1.0"/>
<rect x="153.30" y="592.30" width="1.55" height="27.70" fill="rgb(111,111,111)" stroke="none" stroke-width="1.0"/>
<rect x="154.80" y="592.30" width="1.25" height="27.70" fill="rgb(83,83,83)" stroke="none" stroke-width="1.0"/>
<rect x="156.00" y="592.30" width="1.25" height="27.70" fill="rgb(35,35,35)" stroke="none" stroke-width="1.0"/>
<rect x="157.20" y="592.30" width="1.85" height="27.70" fill="rgb(87,87,87)" stroke="none" stroke-width="1.0"/>
<rect x="159.00" y="592.30" width="1.05" height="27.70" fill="rgb(161,161,161)" stroke="none" stroke-width="1.0"/>
<rect x="160.00" y="592.30" width="1.05" height="27.70" fill="rgb(202,202,202)" stroke="none" stroke-width="1.0"/>
<rect x="161.00" y="592.30" width="1.05" height="27.70" fill="rgb(34,34,34)" stroke="none" stroke-width="1.0"/>
<rect x="162.00" y="592.30" width="0.65" height="27.70" fill="rgb(58,58,58)" stroke="none" stroke-width="1.0"/>
<rect x="162.60" y="592.30" width="1.55" height="27.70" fill="rgb(106,106,106)" stroke="none" stroke-width="1.0"/>
<rect x="164.10" y="592.30" width="1.55" height="27.70" fill="rgb(117,117,117)" stroke="none" stroke-width="1.0"/>
<rect x="165.60" y="592.30" width="0.65" height="27.70" fill="rgb(34,34,34)" stroke="none" stroke-width="1.0"/>
<rect x="166.20" y="592.30" width="1.25" height="27.70" fill="rgb(186,186,186)" stroke="none" stroke-width="1.0"/>
<rect x="167.40" y="592.30" width="1.05" height="27.70" fill="rgb(98,98,98)" stroke="none" stroke-width="1.0"/>
<rect x="168.40" y="592.30" width="1.25" height="27.70" fill="rgb(195,195,195)" stroke="none" stroke-width="1.0"/>
<rect x="169.60" y="592.30" width="1.55" height="27.70" fill="rgb(1,1,1)" stroke="none" stroke-width="1.0"/>
<rect x="171.10" y="592.30" width="1.05" height="27.70" fill="rgb(137,137,137)" stroke="none" stroke-width="1.0"/>
<rect x="172.10" y="592.30" width="0.65" height="27.70" fill="rgb(18,18,18)" stroke="none" stroke-width="1.0"/>
<rect x="172.70" y="592.30" width="1.05" height="27.70" fill="rgb(31,31,31)" stroke="none" stroke-width="1.0"/>
<rect x="173.70" y="592.30" width="0.65" height="27.70" fill="rgb(120,120,120)" stroke="none" stroke-width="1.0"/>
<rect x="174.30" y="592.30" width="1.55" height="27.70" fill="rgb(33,33,33)" stroke="none" stroke-width="1.0"/>
<rect x="177.00" y="592.30" width="1.85" height="27.70" fill="rgb(75,75,75)" stroke="none" stroke-width="1.0"/>
<rect x="178.80" y="592.30" width="1.55" height="27.70" fill="rgb(82,82,82)" stroke="none" stroke-width="1.0"/>
<rect x="180.30" y="592.30" width="1.55" height="27.70" fill="rgb(72,72,72)" stroke="none" stroke-width="1.0"/>
<rect x="181.80" y="592.30" width="0.85" height="27.70" fill="rgb(99,99,99)" stroke="none" stroke-width="1.0"/>
<rect x="182.60" y="592.30" width="0.85" height="27.70" fill="rgb(12,12,12)" stroke="none" stroke-width="1.0"/>
<rect x="183.40" y="592.30" width="0.85" height="27.70" fill="rgb(6,6,6)" stroke="none" stroke-width="1.0"/>
<rect x="184.20" y="592.30" width="0.85" height="27.70" fill="rgb(5,5,5)" stroke="none" stroke-width="1.0"/>
<rect x="185.00" y="592.30" width="1.05" height="27.70" fill="rgb(108,108,108)" stroke="none" stroke-width="1.0"/>
<rect x="186.00" y="592.30" width="1.55" height="27.70" fill="rgb(25,25,25)" stroke="none" stroke-width="1.0"/>
<rect x="187.50" y="592.30" width="1.85" height="27.70" fill="rgb(12,12,12)" stroke="none" stroke-width="1.0"/>
<rect x="189.30" y="592.30" width="1.55" height="27.70" fill="rgb(181,181,181)" stroke="none" stroke-width="1.0"/>
<rect x="190.80" y="592.30" width="0.65" height="27.70" fill="rgb(98,98,98)" stroke="none" stroke-width="1.0"/>
<rect x="191.40" y="592.30" width="1.55" height="27.70" fill="rgb(144,144,144)" stroke="none" stroke-width="1.0"/>
<rect x="194.10" y="592.30" width="0.65" height="27.70" fill="rgb(116,116,116)" stroke="none" stroke-width="1.0"/>
<rect x="194.70" y="592.30" width="0.85" height="27.70" fill="rgb(11,11,11)" stroke="none" stroke-width="1.0"/>
<rect x="195.50" y="592.30" width="0.85" height="27.70" fill="rgb(147,147,147)" stroke="none" stroke-width="1.0"/>
<rect x="197.80" y="592.30" width="1.85" height="27.70" fill="rgb(176,176,176)" stroke="none" stroke-width="1.0"/>
<rect x="199.60" y="592.30" width="1.25" height="27.70" fill="rgb(110,110,110)" stroke="none" stroke-width="1.0"/>
<rect x="200.80" y="592.30" width="0.85" height="27.70" fill="rgb(2,2,2)" stroke="none" stroke-width="1.0"/>
<rect x="201.60" y="592.30" width="0.85" height="27.70" fill="rgb(102,102,102)" stroke="none" stroke-width="1.0"/>
<rect x="202.40" y="592.30" width="1.25" height="27.70" fill="rgb(67,67,67)" stroke="none" stroke-width="1.0"/>
<rect x="203.60" y="592.30" width="1.55" height="27.70" fill="rgb(5,5,5)" stroke="none" stroke-width="1.0"/>
<rect x="205.10" y="592.30" width="1.85" height="27.70" fill="rgb(186,186,186)" stroke="none" stroke-width="1.0"/>
<rect x="206.90" y="592.30" width="1.55" height="27.70" fill="rgb(98,98,98)" stroke="none" stroke-width="1.0"/>
<rect x="208.40" y="592.30" width="1.05" height="27.70" fill="rgb(10,10,10)" stroke="none" stroke-width="1.0"/>
<rect x="209.40" y="592.30" width="1.25" height="27.70" fill="rgb(34,34,34)" stroke="none" stroke-width="1.0"/>
<rect x="210.60" y="592.30" width="1.85" height="27.70" fill="rgb(78,78,78)" stroke="none" stroke-width="1.0"/>
<rect x="212.40" y="592.30" width="1.25" height="27.70" fill="rgb(21,21,21)" stroke="none" stroke-width="1.0"/>
<rect x="213.60" y="592.30" width="1.05" height="27.70" fill="rgb(22,22,22)" stroke="none" stroke-width="1.0"/>
<rect x="214.60" y="592.30" width="1.85" height="27.70" fill="rgb(17,17,17)" stroke="none" stroke-width="1.0"/>
<rect x="216.40" y="592.30" width="1.85" height="27.70" fill="rgb(25,25,25)" stroke="none" stroke-width="1.0"/>
<rect x="218.20" y="592.30" width="1.55" height="27.70" fill="rgb(32,32,32)" stroke="none" stroke-width="1.0"/>
<rect x="219.70" y="592.30" width="0.35" height="27.70" fill="rgb(105,105,105)" stroke="none" stroke-width="1.0"/>
<linearGradient id="g724" x1="0" x2="1" y1="0" y2="0"><stop offset="0" stop-color="#e8464f"/><stop offset="1" stop-color="#e84a55"/></linearGradient>
<rect x="42.40" y="620.30" width="25.30" height="6.70" fill="url(#g724)" stroke="none" stroke-width="1.0"/>
<linearGradient id="g726" x1="0" x2="1" y1="0" y2="0"><stop offset="0" stop-color="#e45865"/><stop offset="1" stop-color="#d87484"/></linearGradient>
<rect x="67.70" y="620.30" width="37.50" height="6.70" fill="url(#g726)" stroke="none" stroke-width="1.0"/>
<linearGradient id="g728" x1="0" x2="1" y1="0" y2="0"><stop offset="0" stop-color="#e2a2d8"/><stop offset="1" stop-color="#dcb4e6"/></linearGradient>
<rect x="105.20" y="620.30" width="23.00" height="6.70" fill="url(#g728)" stroke="none" stroke-width="1.0"/>
<linearGradient id="g730" x1="0" x2="1" y1="0" y2="0"><stop offset="0" stop-color="#cfcff4"/><stop offset="1" stop-color="#b4b4f2"/></linearGradient>
<rect x="128.20" y="620.30" width="45.00" height="6.70" fill="url(#g730)" stroke="none" stroke-width="1.0"/>
<linearGradient id="g732" x1="0" x2="1" y1="0" y2="0"><stop offset="0" stop-color="#7474f0"/><stop offset="1" stop-color="#4b40ee"/></linearGradient>
<rect x="173.20" y="620.30" width="44.60" height="6.70" fill="url(#g732)" stroke="none" stroke-width="1.0"/>
<linearGradient id="g734" x1="0" x2="1" y1="0" y2="0"><stop offset="0" stop-color="#2a08e0"/><stop offset="1" stop-color="#2a08e0"/></linearGradient>
<rect x="217.80" y="620.30" width="2.20" height="6.70" fill="url(#g734)" stroke="none" stroke-width="1.0"/>
<line x1="42.40" y1="627.40" x2="228.00" y2="627.40" stroke="#c0c0c0" stroke-width="0.6"/>
<polyline points="42.40,528.24 43.50,522.24 45.00,516.18 47.40,511.33 48.70,510.25 50.00,508.96 51.50,508.81 53.00,508.60 54.50,508.57 56.00,508.97 57.33,510.04 58.67,510.25 60.00,510.98 61.20,511.09 62.40,512.04 63.60,512.88 64.80,513.17 66.00,514.31 67.40,515.18 68.80,515.47 70.20,516.37 71.60,517.63 73.00,518.81 74.40,519.22 75.80,519.90 77.20,520.85 78.60,521.37 80.00,522.31 81.27,523.01 82.53,523.60 83.80,523.96 85.07,524.51 86.33,525.05 87.60,525.77 88.83,526.35 90.07,526.87 91.30,528.14 92.53,528.64 93.77,529.40 95.00,529.78 96.40,531.14 97.80,531.85 99.20,532.13 100.60,533.08 102.00,534.16 103.33,535.06 104.67,536.14 106.00,536.70 107.33,537.90 108.67,538.70 110.00,539.36 111.36,540.46 112.72,541.57 114.08,542.44 115.44,543.10 116.80,544.06 118.00,544.67 119.20,545.82 120.40,547.21 121.60,547.94 122.80,548.77 124.00,550.03 125.23,551.14 126.47,552.12 127.70,552.91 128.93,553.96 130.17,555.01 131.40,556.19 132.67,557.01 133.93,557.93 135.20,558.99 136.47,559.67 137.73,560.68 139.00,562.14 140.40,563.48 141.80,564.35 143.20,565.35 144.60,566.33 146.00,567.70 147.40,569.20 148.80,570.21 150.20,571.21 151.60,572.59 153.00,573.31 154.42,574.67 155.84,576.14 157.26,577.03 158.68,578.11 160.10,579.14 161.32,580.13 162.55,581.22 163.78,581.35 165.00,582.70 166.50,583.52 168.00,584.37 169.40,584.45 170.80,584.68 172.20,584.65 173.60,584.86 175.00,584.95 176.28,584.83 177.56,585.54 178.84,585.47 180.12,585.35 181.40,585.70 182.93,585.89 184.47,586.00 186.00,586.19 187.33,586.56 188.67,586.85 190.00,587.08 191.50,586.62 193.00,585.97 194.90,584.91 196.50,580.77 197.80,578.46 200.00,577.75 202.20,576.21 204.50,578.21 205.95,578.87 207.40,579.13 208.85,579.09 210.30,578.52 211.50,573.71 212.20,569.36 213.50,565.66 215.10,563.08 216.20,557.82 217.00,553.03 218.00,546.09 219.00,537.79 220.00,527.30" fill="none" stroke="#44e41c" stroke-width="1.7" stroke-linejoin="round"/>
<text x="123.90" y="500.90" font-size="7.8" text-anchor="middle" fill="#111" font-weight="bold" stroke="#111" stroke-width="0.25">Enrichment plot: GOBP_RESPONSE_TO_INSULIN</text>
<text x="48.20" y="559.70" font-size="8.7" text-anchor="start" fill="#1a1a1a">NES = -1.37</text>
<text x="48.20" y="570.45" font-size="8.7" text-anchor="start" fill="#1a1a1a">FDR = 0.3</text>
<text x="48.20" y="581.20" font-size="8.7" text-anchor="start" fill="#1a1a1a">Nom p-value = 0.002</text>
<text x="26.80" y="548.70" font-size="6.9" text-anchor="middle" fill="#555" transform="rotate(-90 26.80 548.70)">Enrichment score (ES)</text>
<text x="30.00" y="620.00" font-size="5.2" text-anchor="middle" fill="#555" transform="rotate(-90 30.00 620.00)">ked)</text>
<text x="71.00" y="642.80" font-size="10.2" text-anchor="middle" fill="#111">HFD</text>
<text x="181.70" y="642.80" font-size="10.2" text-anchor="middle" fill="#111">ND</text>
<line x1="40.40" y1="528.40" x2="42.40" y2="528.40" stroke="#999" stroke-width="0.6"/>
<text x="39.80" y="530.40" font-size="5.6" text-anchor="end" fill="#8a8a8a">0.0</text>
<rect x="259.60" y="493.10" width="213.40" height="135.10" fill="#efefef" stroke="none" stroke-width="1.0"/>
<rect x="285.90" y="525.90" width="184.30" height="101.50" fill="#ffffff" stroke="#c8c8c8" stroke-width="0.7"/>
<line x1="311.30" y1="525.90" x2="311.30" y2="597.80" stroke="#e2e2e2" stroke-width="0.6" stroke-dasharray="1.5,1.5"/>
<line x1="336.70" y1="525.90" x2="336.70" y2="597.80" stroke="#e2e2e2" stroke-width="0.6" stroke-dasharray="1.5,1.5"/>
<line x1="362.10" y1="525.90" x2="362.10" y2="597.80" stroke="#e2e2e2" stroke-width="0.6" stroke-dasharray="1.5,1.5"/>
<line x1="387.50" y1="525.90" x2="387.50" y2="597.80" stroke="#e2e2e2" stroke-width="0.6" stroke-dasharray="1.5,1.5"/>
<line x1="412.90" y1="525.90" x2="412.90" y2="597.80" stroke="#e2e2e2" stroke-width="0.6" stroke-dasharray="1.5,1.5"/>
<line x1="438.30" y1="525.90" x2="438.30" y2="597.80" stroke="#e2e2e2" stroke-width="0.6" stroke-dasharray="1.5,1.5"/>
<line x1="463.70" y1="525.90" x2="463.70" y2="597.80" stroke="#e2e2e2" stroke-width="0.6" stroke-dasharray="1.5,1.5"/>
<line x1="285.90" y1="533.40" x2="470.20" y2="533.40" stroke="#e2e2e2" stroke-width="0.6" stroke-dasharray="1.5,1.5"/>
<line x1="283.90" y1="533.40" x2="285.90" y2="533.40" stroke="#999" stroke-width="0.6"/>
<text x="283.30" y="535.40" font-size="5.6" text-anchor="end" fill="#8a8a8a">0.0</text>
<line x1="285.90" y1="546.00" x2="470.20" y2="546.00" stroke="#e2e2e2" stroke-width="0.6" stroke-dasharray="1.5,1.5"/>
<line x1="283.90" y1="546.00" x2="285.90" y2="546.00" stroke="#999" stroke-width="0.6"/>
<text x="283.30" y="548.00" font-size="5.6" text-anchor="end" fill="#8a8a8a">-0.1</text>
<line x1="285.90" y1="558.60" x2="470.20" y2="558.60" stroke="#e2e2e2" stroke-width="0.6" stroke-dasharray="1.5,1.5"/>
<line x1="283.90" y1="558.60" x2="285.90" y2="558.60" stroke="#999" stroke-width="0.6"/>
<text x="283.30" y="560.60" font-size="5.6" text-anchor="end" fill="#8a8a8a">-0.2</text>
<line x1="285.90" y1="571.20" x2="470.20" y2="571.20" stroke="#e2e2e2" stroke-width="0.6" stroke-dasharray="1.5,1.5"/>
<line x1="283.90" y1="571.20" x2="285.90" y2="571.20" stroke="#999" stroke-width="0.6"/>
<text x="283.30" y="573.20" font-size="5.6" text-anchor="end" fill="#8a8a8a">-0.3</text>
<line x1="285.90" y1="583.70" x2="470.20" y2="583.70" stroke="#e2e2e2" stroke-width="0.6" stroke-dasharray="1.5,1.5"/>
<line x1="283.90" y1="583.70" x2="285.90" y2="583.70" stroke="#999" stroke-width="0.6"/>
<text x="283.30" y="585.70" font-size="5.6" text-anchor="end" fill="#8a8a8a">-0.4</text>
<line x1="285.90" y1="596.20" x2="470.20" y2="596.20" stroke="#e2e2e2" stroke-width="0.6" stroke-dasharray="1.5,1.5"/>
<line x1="283.90" y1="596.20" x2="285.90" y2="596.20" stroke="#999" stroke-width="0.6"/>
<text x="283.30" y="598.20" font-size="5.6" text-anchor="end" fill="#8a8a8a">-0.5</text>
<line x1="285.90" y1="533.40" x2="470.20" y2="533.40" stroke="#a8a8a8" stroke-width="0.8"/>
<line x1="285.90" y1="597.80" x2="470.20" y2="597.80" stroke="#b0b0b0" stroke-width="0.7"/>
<rect x="295.14" y="598.00" width="0.60" height="22.60" fill="rgb(30,30,30)" stroke="none" stroke-width="1.0"/>
<rect x="296.43" y="598.00" width="1.00" height="22.60" fill="rgb(60,60,60)" stroke="none" stroke-width="1.0"/>
<rect x="297.07" y="598.00" width="0.60" height="22.60" fill="rgb(0,0,0)" stroke="none" stroke-width="1.0"/>
<rect x="304.78" y="598.00" width="0.60" height="22.60" fill="rgb(90,90,90)" stroke="none" stroke-width="1.0"/>
<rect x="306.38" y="598.00" width="1.00" height="22.60" fill="rgb(30,30,30)" stroke="none" stroke-width="1.0"/>
<rect x="308.31" y="598.00" width="1.00" height="22.60" fill="rgb(0,0,0)" stroke="none" stroke-width="1.0"/>
<rect x="330.47" y="598.00" width="0.60" height="22.60" fill="rgb(0,0,0)" stroke="none" stroke-width="1.0"/>
<rect x="337.85" y="598.00" width="0.80" height="22.60" fill="rgb(0,0,0)" stroke="none" stroke-width="1.0"/>
<rect x="339.14" y="598.00" width="0.60" height="22.60" fill="rgb(60,60,60)" stroke="none" stroke-width="1.0"/>
<rect x="340.42" y="598.00" width="0.60" height="22.60" fill="rgb(0,0,0)" stroke="none" stroke-width="1.0"/>
<rect x="341.71" y="598.00" width="0.80" height="22.60" fill="rgb(90,90,90)" stroke="none" stroke-width="1.0"/>
<rect x="342.99" y="598.00" width="1.00" height="22.60" fill="rgb(0,0,0)" stroke="none" stroke-width="1.0"/>
<rect x="345.24" y="598.00" width="0.60" height="22.60" fill="rgb(0,0,0)" stroke="none" stroke-width="1.0"/>
<rect x="351.34" y="598.00" width="1.00" height="22.60" fill="rgb(120,120,120)" stroke="none" stroke-width="1.0"/>
<rect x="352.94" y="598.00" width="0.60" height="22.60" fill="rgb(90,90,90)" stroke="none" stroke-width="1.0"/>
<rect x="354.23" y="598.00" width="1.00" height="22.60" fill="rgb(90,90,90)" stroke="none" stroke-width="1.0"/>
<rect x="357.76" y="598.00" width="0.60" height="22.60" fill="rgb(60,60,60)" stroke="none" stroke-width="1.0"/>
<rect x="362.90" y="598.00" width="0.60" height="22.60" fill="rgb(0,0,0)" stroke="none" stroke-width="1.0"/>
<rect x="364.83" y="598.00" width="0.60" height="22.60" fill="rgb(90,90,90)" stroke="none" stroke-width="1.0"/>
<rect x="370.61" y="598.00" width="0.80" height="22.60" fill="rgb(30,30,30)" stroke="none" stroke-width="1.0"/>
<rect x="371.89" y="598.00" width="1.00" height="22.60" fill="rgb(0,0,0)" stroke="none" stroke-width="1.0"/>
<rect x="373.82" y="598.00" width="1.00" height="22.60" fill="rgb(0,0,0)" stroke="none" stroke-width="1.0"/>
<rect x="375.42" y="598.00" width="1.00" height="22.60" fill="rgb(30,30,30)" stroke="none" stroke-width="1.0"/>
<rect x="376.71" y="598.00" width="0.60" height="22.60" fill="rgb(120,120,120)" stroke="none" stroke-width="1.0"/>
<rect x="378.96" y="598.00" width="1.00" height="22.60" fill="rgb(0,0,0)" stroke="none" stroke-width="1.0"/>
<rect x="382.81" y="598.00" width="1.00" height="22.60" fill="rgb(90,90,90)" stroke="none" stroke-width="1.0"/>
<rect x="384.09" y="598.00" width="0.80" height="22.60" fill="rgb(0,0,0)" stroke="none" stroke-width="1.0"/>
<rect x="385.38" y="598.00" width="1.00" height="22.60" fill="rgb(0,0,0)" stroke="none" stroke-width="1.0"/>
<rect x="386.98" y="598.00" width="0.60" height="22.60" fill="rgb(120,120,120)" stroke="none" stroke-width="1.0"/>
<rect x="389.87" y="598.00" width="0.60" height="22.60" fill="rgb(90,90,90)" stroke="none" stroke-width="1.0"/>
<rect x="391.48" y="598.00" width="0.60" height="22.60" fill="rgb(90,90,90)" stroke="none" stroke-width="1.0"/>
<rect x="394.69" y="598.00" width="1.00" height="22.60" fill="rgb(60,60,60)" stroke="none" stroke-width="1.0"/>
<rect x="398.22" y="598.00" width="0.80" height="22.60" fill="rgb(90,90,90)" stroke="none" stroke-width="1.0"/>
<rect x="401.44" y="598.00" width="0.80" height="22.60" fill="rgb(30,30,30)" stroke="none" stroke-width="1.0"/>
<rect x="403.36" y="598.00" width="0.80" height="22.60" fill="rgb(90,90,90)" stroke="none" stroke-width="1.0"/>
<rect x="405.93" y="598.00" width="0.80" height="22.60" fill="rgb(30,30,30)" stroke="none" stroke-width="1.0"/>
<rect x="408.50" y="598.00" width="0.60" height="22.60" fill="rgb(0,0,0)" stroke="none" stroke-width="1.0"/>
<rect x="410.75" y="598.00" width="0.60" height="22.60" fill="rgb(120,120,120)" stroke="none" stroke-width="1.0"/>
<rect x="415.24" y="598.00" width="1.00" height="22.60" fill="rgb(0,0,0)" stroke="none" stroke-width="1.0"/>
<rect x="418.13" y="598.00" width="1.00" height="22.60" fill="rgb(30,30,30)" stroke="none" stroke-width="1.0"/>
<rect x="421.99" y="598.00" width="0.80" height="22.60" fill="rgb(60,60,60)" stroke="none" stroke-width="1.0"/>
<rect x="425.52" y="598.00" width="0.80" height="22.60" fill="rgb(120,120,120)" stroke="none" stroke-width="1.0"/>
<rect x="428.41" y="598.00" width="1.00" height="22.60" fill="rgb(30,30,30)" stroke="none" stroke-width="1.0"/>
<rect x="430.98" y="598.00" width="0.60" height="22.60" fill="rgb(0,0,0)" stroke="none" stroke-width="1.0"/>
<rect x="433.55" y="598.00" width="0.80" height="22.60" fill="rgb(90,90,90)" stroke="none" stroke-width="1.0"/>
<rect x="435.15" y="598.00" width="0.80" height="22.60" fill="rgb(0,0,0)" stroke="none" stroke-width="1.0"/>
<rect x="436.76" y="598.00" width="0.80" height="22.60" fill="rgb(0,0,0)" stroke="none" stroke-width="1.0"/>
<rect x="438.37" y="598.00" width="0.60" height="22.60" fill="rgb(60,60,60)" stroke="none" stroke-width="1.0"/>
<rect x="441.58" y="598.00" width="0.60" height="22.60" fill="rgb(120,120,120)" stroke="none" stroke-width="1.0"/>
<rect x="443.18" y="598.00" width="1.00" height="22.60" fill="rgb(90,90,90)" stroke="none" stroke-width="1.0"/>
<rect x="446.39" y="598.00" width="0.80" height="22.60" fill="rgb(30,30,30)" stroke="none" stroke-width="1.0"/>
<rect x="454.42" y="598.00" width="0.80" height="22.60" fill="rgb(120,120,120)" stroke="none" stroke-width="1.0"/>
<rect x="456.03" y="598.00" width="0.80" height="22.60" fill="rgb(90,90,90)" stroke="none" stroke-width="1.0"/>
<rect x="458.28" y="598.00" width="0.80" height="22.60" fill="rgb(90,90,90)" stroke="none" stroke-width="1.0"/>
<rect x="460.52" y="598.00" width="0.60" height="22.60" fill="rgb(0,0,0)" stroke="none" stroke-width="1.0"/>
<linearGradient id="g832" x1="0" x2="1" y1="0" y2="0"><stop offset="0" stop-color="#e84a55"/><stop offset="1" stop-color="#e8505a"/></linearGradient>
<rect x="286.10" y="621.00" width="26.70" height="5.80" fill="url(#g832)" stroke="none" stroke-width="1.0"/>
<linearGradient id="g834" x1="0" x2="1" y1="0" y2="0"><stop offset="0" stop-color="#e46070"/><stop offset="1" stop-color="#dc7888"/></linearGradient>
<rect x="312.80" y="621.00" width="35.30" height="5.80" fill="url(#g834)" stroke="none" stroke-width="1.0"/>
<linearGradient id="g836" x1="0" x2="1" y1="0" y2="0"><stop offset="0" stop-color="#e4a8dc"/><stop offset="1" stop-color="#dcb8e8"/></linearGradient>
<rect x="348.10" y="621.00" width="22.50" height="5.80" fill="url(#g836)" stroke="none" stroke-width="1.0"/>
<linearGradient id="g838" x1="0" x2="1" y1="0" y2="0"><stop offset="0" stop-color="#d0d0f4"/><stop offset="1" stop-color="#b8b8f2"/></linearGradient>
<rect x="370.60" y="621.00" width="45.00" height="5.80" fill="url(#g838)" stroke="none" stroke-width="1.0"/>
<linearGradient id="g840" x1="0" x2="1" y1="0" y2="0"><stop offset="0" stop-color="#7878f0"/><stop offset="1" stop-color="#4b40ee"/></linearGradient>
<rect x="415.60" y="621.00" width="41.70" height="5.80" fill="url(#g840)" stroke="none" stroke-width="1.0"/>
<linearGradient id="g842" x1="0" x2="1" y1="0" y2="0"><stop offset="0" stop-color="#2a08e0"/><stop offset="1" stop-color="#2a08e0"/></linearGradient>
<rect x="457.30" y="621.00" width="4.80" height="5.80" fill="url(#g842)" stroke="none" stroke-width="1.0"/>
<line x1="285.90" y1="627.20" x2="470.20" y2="627.20" stroke="#c0c0c0" stroke-width="0.6"/>
<polyline points="285.90,533.67 287.50,534.77 289.00,530.13 290.50,531.20 292.00,532.70 294.30,535.44 296.00,531.10 297.80,529.18 300.00,531.56 301.50,531.01 303.00,530.45 305.00,529.10 307.30,530.36 308.87,531.54 310.43,532.93 312.00,534.30 313.25,535.27 314.50,536.03 315.75,536.97 317.00,537.86 318.40,538.62 319.80,539.52 321.20,540.68 322.60,541.49 324.00,542.43 325.40,543.62 326.80,544.28 328.20,545.18 329.60,545.86 331.00,546.61 332.40,547.52 333.80,548.12 335.20,549.07 336.60,550.08 338.00,550.60 339.40,550.99 340.80,552.10 342.20,552.72 343.60,553.36 345.00,554.14 346.40,554.78 347.80,555.51 349.20,555.97 350.60,557.07 352.00,557.78 353.40,557.98 354.80,559.01 356.20,559.67 357.60,560.20 359.00,560.92 360.40,561.81 361.80,562.99 363.20,563.66 364.60,564.78 366.00,565.41 367.40,566.69 368.80,567.66 370.20,568.36 371.60,569.38 373.00,570.55 374.40,571.37 375.80,572.17 377.20,572.95 378.60,573.95 380.00,575.12 381.40,575.70 382.80,577.04 384.20,577.56 385.60,578.85 387.00,579.39 388.40,580.57 389.80,581.22 391.20,581.90 392.60,582.71 394.00,583.59 395.40,584.29 396.80,584.87 398.20,585.54 399.60,586.47 401.00,587.46 402.40,587.73 403.80,587.87 405.20,588.77 406.60,589.18 408.00,589.74 409.40,589.69 410.80,590.41 412.20,590.38 413.60,591.11 415.00,591.26 416.33,591.44 417.67,592.03 419.00,591.76 420.60,592.56 422.20,593.31 423.60,592.15 425.00,591.33 426.33,591.23 427.67,590.45 429.00,590.13 430.50,589.97 432.00,590.42 433.33,589.80 434.67,589.60 436.00,588.75 437.25,587.02 438.50,584.22 440.00,581.59 441.50,578.11 442.75,577.80 444.00,577.69 445.35,577.74 446.70,578.21 449.00,579.31 450.50,579.63 452.00,579.93 454.00,575.29 455.50,571.19 457.50,570.22 459.00,569.51 459.70,558.07 460.00,547.05 461.00,537.77 461.40,533.40" fill="none" stroke="#44e41c" stroke-width="1.7" stroke-linejoin="round"/>
<text x="366.30" y="500.80" font-size="7.8" text-anchor="middle" fill="#111" font-weight="bold" stroke="#111" stroke-width="0.25">Enrichment plot:</text>
<text x="366.30" y="510.80" font-size="7.8" text-anchor="middle" fill="#111" font-weight="bold" stroke="#111" stroke-width="0.25">GOBP_INSULIN_LIKE_GROWTH_FACTOR_RECEPTOR_S</text>
<text x="366.30" y="521.00" font-size="7.8" text-anchor="middle" fill="#111" font-weight="bold" stroke="#111" stroke-width="0.25">IGNALING_PATHWAY</text>
<text x="290.00" y="565.20" font-size="8.7" text-anchor="start" fill="#1a1a1a">NES = -1.57</text>
<text x="290.00" y="576.30" font-size="8.7" text-anchor="start" fill="#1a1a1a">FDR = 0.17</text>
<text x="290.00" y="587.40" font-size="8.7" text-anchor="start" fill="#1a1a1a">Nom p-value = 0.006</text>
<text x="270.30" y="561.50" font-size="6.9" text-anchor="middle" fill="#555" transform="rotate(-90 270.30 561.50)">Enrichment score (ES)</text>
<text x="273.00" y="620.50" font-size="5.2" text-anchor="middle" fill="#555" transform="rotate(-90 273.00 620.50)">ked)</text>
<text x="316.00" y="642.60" font-size="10.2" text-anchor="middle" fill="#111">HFD</text>
<text x="421.50" y="642.60" font-size="10.2" text-anchor="middle" fill="#111">ND</text>
<rect x="21.10" y="727.50" width="213.60" height="134.20" fill="#efefef" stroke="none" stroke-width="1.0"/>
<rect x="48.30" y="740.10" width="183.50" height="120.90" fill="#ffffff" stroke="#c8c8c8" stroke-width="0.7"/>
<line x1="74.60" y1="740.10" x2="74.60" y2="825.00" stroke="#e2e2e2" stroke-width="0.6" stroke-dasharray="1.5,1.5"/>
<line x1="100.00" y1="740.10" x2="100.00" y2="825.00" stroke="#e2e2e2" stroke-width="0.6" stroke-dasharray="1.5,1.5"/>
<line x1="125.40" y1="740.10" x2="125.40" y2="825.00" stroke="#e2e2e2" stroke-width="0.6" stroke-dasharray="1.5,1.5"/>
<line x1="150.80" y1="740.10" x2="150.80" y2="825.00" stroke="#e2e2e2" stroke-width="0.6" stroke-dasharray="1.5,1.5"/>
<line x1="176.20" y1="740.10" x2="176.20" y2="825.00" stroke="#e2e2e2" stroke-width="0.6" stroke-dasharray="1.5,1.5"/>
<line x1="201.60" y1="740.10" x2="201.60" y2="825.00" stroke="#e2e2e2" stroke-width="0.6" stroke-dasharray="1.5,1.5"/>
<line x1="227.00" y1="740.10" x2="227.00" y2="825.00" stroke="#e2e2e2" stroke-width="0.6" stroke-dasharray="1.5,1.5"/>
<line x1="48.30" y1="746.66" x2="231.80" y2="746.66" stroke="#e2e2e2" stroke-width="0.6" stroke-dasharray="1.5,1.5"/>
<line x1="46.30" y1="746.66" x2="48.30" y2="746.66" stroke="#999" stroke-width="0.6"/>
<text x="45.70" y="748.66" font-size="5.6" text-anchor="end" fill="#8a8a8a">0.40</text>
<line x1="48.30" y1="755.59" x2="231.80" y2="755.59" stroke="#e2e2e2" stroke-width="0.6" stroke-dasharray="1.5,1.5"/>
<line x1="46.30" y1="755.59" x2="48.30" y2="755.59" stroke="#999" stroke-width="0.6"/>
<text x="45.70" y="757.59" font-size="5.6" text-anchor="end" fill="#8a8a8a">0.35</text>
<line x1="48.30" y1="764.52" x2="231.80" y2="764.52" stroke="#e2e2e2" stroke-width="0.6" stroke-dasharray="1.5,1.5"/>
<line x1="46.30" y1="764.52" x2="48.30" y2="764.52" stroke="#999" stroke-width="0.6"/>
<text x="45.70" y="766.52" font-size="5.6" text-anchor="end" fill="#8a8a8a">0.30</text>
<line x1="48.30" y1="773.45" x2="231.80" y2="773.45" stroke="#e2e2e2" stroke-width="0.6" stroke-dasharray="1.5,1.5"/>
<line x1="46.30" y1="773.45" x2="48.30" y2="773.45" stroke="#999" stroke-width="0.6"/>
<text x="45.70" y="775.45" font-size="5.6" text-anchor="end" fill="#8a8a8a">0.25</text>
<line x1="48.30" y1="782.38" x2="231.80" y2="782.38" stroke="#e2e2e2" stroke-width="0.6" stroke-dasharray="1.5,1.5"/>
<line x1="46.30" y1="782.38" x2="48.30" y2="782.38" stroke="#999" stroke-width="0.6"/>
<text x="45.70" y="784.38" font-size="5.6" text-anchor="end" fill="#8a8a8a">0.20</text>
<line x1="48.30" y1="791.31" x2="231.80" y2="791.31" stroke="#e2e2e2" stroke-width="0.6" stroke-dasharray="1.5,1.5"/>
<line x1="46.30" y1="791.31" x2="48.30" y2="791.31" stroke="#999" stroke-width="0.6"/>
<text x="45.70" y="793.31" font-size="5.6" text-anchor="end" fill="#8a8a8a">0.15</text>
<line x1="48.30" y1="800.24" x2="231.80" y2="800.24" stroke="#e2e2e2" stroke-width="0.6" stroke-dasharray="1.5,1.5"/>
<line x1="46.30" y1="800.24" x2="48.30" y2="800.24" stroke="#999" stroke-width="0.6"/>
<text x="45.70" y="802.24" font-size="5.6" text-anchor="end" fill="#8a8a8a">0.10</text>
<line x1="48.30" y1="809.17" x2="231.80" y2="809.17" stroke="#e2e2e2" stroke-width="0.6" stroke-dasharray="1.5,1.5"/>
<line x1="46.30" y1="809.17" x2="48.30" y2="809.17" stroke="#999" stroke-width="0.6"/>
<text x="45.70" y="811.17" font-size="5.6" text-anchor="end" fill="#8a8a8a">0.05</text>
<line x1="48.30" y1="818.10" x2="231.80" y2="818.10" stroke="#a8a8a8" stroke-width="0.8"/>
<line x1="48.30" y1="825.00" x2="231.80" y2="825.00" stroke="#b0b0b0" stroke-width="0.7"/>
<rect x="48.50" y="826.00" width="0.85" height="26.80" fill="rgb(18,18,18)" stroke="none" stroke-width="1.0"/>
<rect x="49.30" y="826.00" width="1.25" height="26.80" fill="rgb(195,195,195)" stroke="none" stroke-width="1.0"/>
<rect x="50.50" y="826.00" width="1.55" height="26.80" fill="rgb(55,55,55)" stroke="none" stroke-width="1.0"/>
<rect x="52.00" y="826.00" width="0.65" height="26.80" fill="rgb(63,63,63)" stroke="none" stroke-width="1.0"/>
<rect x="52.60" y="826.00" width="0.85" height="26.80" fill="rgb(14,14,14)" stroke="none" stroke-width="1.0"/>
<rect x="55.20" y="826.00" width="1.85" height="26.80" fill="rgb(28,28,28)" stroke="none" stroke-width="1.0"/>
<rect x="57.00" y="826.00" width="0.65" height="26.80" fill="rgb(69,69,69)" stroke="none" stroke-width="1.0"/>
<rect x="57.60" y="826.00" width="1.85" height="26.80" fill="rgb(9,9,9)" stroke="none" stroke-width="1.0"/>
<rect x="59.40" y="826.00" width="1.85" height="26.80" fill="rgb(1,1,1)" stroke="none" stroke-width="1.0"/>
<rect x="61.20" y="826.00" width="1.25" height="26.80" fill="rgb(106,106,106)" stroke="none" stroke-width="1.0"/>
<rect x="62.40" y="826.00" width="1.25" height="26.80" fill="rgb(115,115,115)" stroke="none" stroke-width="1.0"/>
<rect x="63.60" y="826.00" width="0.85" height="26.80" fill="rgb(4,4,4)" stroke="none" stroke-width="1.0"/>
<rect x="64.40" y="826.00" width="0.65" height="26.80" fill="rgb(104,104,104)" stroke="none" stroke-width="1.0"/>
<rect x="65.00" y="826.00" width="0.85" height="26.80" fill="rgb(34,34,34)" stroke="none" stroke-width="1.0"/>
<rect x="65.80" y="826.00" width="1.25" height="26.80" fill="rgb(199,199,199)" stroke="none" stroke-width="1.0"/>
<rect x="67.00" y="826.00" width="1.25" height="26.80" fill="rgb(17,17,17)" stroke="none" stroke-width="1.0"/>
<rect x="68.20" y="826.00" width="0.65" height="26.80" fill="rgb(31,31,31)" stroke="none" stroke-width="1.0"/>
<rect x="68.80" y="826.00" width="0.65" height="26.80" fill="rgb(83,83,83)" stroke="none" stroke-width="1.0"/>
<rect x="69.40" y="826.00" width="1.55" height="26.80" fill="rgb(69,69,69)" stroke="none" stroke-width="1.0"/>
<rect x="70.90" y="826.00" width="0.85" height="26.80" fill="rgb(97,97,97)" stroke="none" stroke-width="1.0"/>
<rect x="71.70" y="826.00" width="1.05" height="26.80" fill="rgb(166,166,166)" stroke="none" stroke-width="1.0"/>
<rect x="72.70" y="826.00" width="0.65" height="26.80" fill="rgb(157,157,157)" stroke="none" stroke-width="1.0"/>
<rect x="73.30" y="826.00" width="1.25" height="26.80" fill="rgb(85,85,85)" stroke="none" stroke-width="1.0"/>
<rect x="74.50" y="826.00" width="1.25" height="26.80" fill="rgb(0,0,0)" stroke="none" stroke-width="1.0"/>
<rect x="75.70" y="826.00" width="1.05" height="26.80" fill="rgb(15,15,15)" stroke="none" stroke-width="1.0"/>
<rect x="76.70" y="826.00" width="0.85" height="26.80" fill="rgb(26,26,26)" stroke="none" stroke-width="1.0"/>
<rect x="77.50" y="826.00" width="1.85" height="26.80" fill="rgb(61,61,61)" stroke="none" stroke-width="1.0"/>
<rect x="79.30" y="826.00" width="1.05" height="26.80" fill="rgb(15,15,15)" stroke="none" stroke-width="1.0"/>
<rect x="80.30" y="826.00" width="0.85" height="26.80" fill="rgb(153,153,153)" stroke="none" stroke-width="1.0"/>
<rect x="81.10" y="826.00" width="0.85" height="26.80" fill="rgb(16,16,16)" stroke="none" stroke-width="1.0"/>
<rect x="81.90" y="826.00" width="0.85" height="26.80" fill="rgb(116,116,116)" stroke="none" stroke-width="1.0"/>
<rect x="82.70" y="826.00" width="0.65" height="26.80" fill="rgb(181,181,181)" stroke="none" stroke-width="1.0"/>
<rect x="83.30" y="826.00" width="0.85" height="26.80" fill="rgb(109,109,109)" stroke="none" stroke-width="1.0"/>
<rect x="84.10" y="826.00" width="1.25" height="26.80" fill="rgb(94,94,94)" stroke="none" stroke-width="1.0"/>
<rect x="85.30" y="826.00" width="0.85" height="26.80" fill="rgb(0,0,0)" stroke="none" stroke-width="1.0"/>
<rect x="86.10" y="826.00" width="1.25" height="26.80" fill="rgb(138,138,138)" stroke="none" stroke-width="1.0"/>
<rect x="87.30" y="826.00" width="1.05" height="26.80" fill="rgb(108,108,108)" stroke="none" stroke-width="1.0"/>
<rect x="88.30" y="826.00" width="1.05" height="26.80" fill="rgb(72,72,72)" stroke="none" stroke-width="1.0"/>
<rect x="89.30" y="826.00" width="0.85" height="26.80" fill="rgb(11,11,11)" stroke="none" stroke-width="1.0"/>
<rect x="90.10" y="826.00" width="0.65" height="26.80" fill="rgb(64,64,64)" stroke="none" stroke-width="1.0"/>
<rect x="90.70" y="826.00" width="0.65" height="26.80" fill="rgb(34,34,34)" stroke="none" stroke-width="1.0"/>
<rect x="91.30" y="826.00" width="1.05" height="26.80" fill="rgb(156,156,156)" stroke="none" stroke-width="1.0"/>
<rect x="92.30" y="826.00" width="0.85" height="26.80" fill="rgb(35,35,35)" stroke="none" stroke-width="1.0"/>
<rect x="93.10" y="826.00" width="0.65" height="26.80" fill="rgb(62,62,62)" stroke="none" stroke-width="1.0"/>
<rect x="93.70" y="826.00" width="0.65" height="26.80" fill="rgb(185,185,185)" stroke="none" stroke-width="1.0"/>
<rect x="94.30" y="826.00" width="1.55" height="26.80" fill="rgb(87,87,87)" stroke="none" stroke-width="1.0"/>
<rect x="95.80" y="826.00" width="1.85" height="26.80" fill="rgb(86,86,86)" stroke="none" stroke-width="1.0"/>
<rect x="97.60" y="826.00" width="1.25" height="26.80" fill="rgb(92,92,92)" stroke="none" stroke-width="1.0"/>
<rect x="98.80" y="826.00" width="1.55" height="26.80" fill="rgb(6,6,6)" stroke="none" stroke-width="1.0"/>
<rect x="100.30" y="826.00" width="1.55" height="26.80" fill="rgb(96,96,96)" stroke="none" stroke-width="1.0"/>
<rect x="101.80" y="826.00" width="1.55" height="26.80" fill="rgb(79,79,79)" stroke="none" stroke-width="1.0"/>
<rect x="103.30" y="826.00" width="0.65" height="26.80" fill="rgb(12,12,12)" stroke="none" stroke-width="1.0"/>
<rect x="103.90" y="826.00" width="1.05" height="26.80" fill="rgb(108,108,108)" stroke="none" stroke-width="1.0"/>
<rect x="104.90" y="826.00" width="0.65" height="26.80" fill="rgb(112,112,112)" stroke="none" stroke-width="1.0"/>
<rect x="105.50" y="826.00" width="1.55" height="26.80" fill="rgb(28,28,28)" stroke="none" stroke-width="1.0"/>
<rect x="107.00" y="826.00" width="1.25" height="26.80" fill="rgb(25,25,25)" stroke="none" stroke-width="1.0"/>
<rect x="108.20" y="826.00" width="0.65" height="26.80" fill="rgb(27,27,27)" stroke="none" stroke-width="1.0"/>
<rect x="108.80" y="826.00" width="0.65" height="26.80" fill="rgb(106,106,106)" stroke="none" stroke-width="1.0"/>
<rect x="109.40" y="826.00" width="1.85" height="26.80" fill="rgb(106,106,106)" stroke="none" stroke-width="1.0"/>
<rect x="111.20" y="826.00" width="0.45" height="26.80" fill="rgb(5,5,5)" stroke="none" stroke-width="1.0"/>
<rect x="111.60" y="826.00" width="0.65" height="26.80" fill="rgb(82,82,82)" stroke="none" stroke-width="1.0"/>
<rect x="112.20" y="826.00" width="1.25" height="26.80" fill="rgb(168,168,168)" stroke="none" stroke-width="1.0"/>
<rect x="113.40" y="826.00" width="0.85" height="26.80" fill="rgb(94,94,94)" stroke="none" stroke-width="1.0"/>
<rect x="114.20" y="826.00" width="1.55" height="26.80" fill="rgb(55,55,55)" stroke="none" stroke-width="1.0"/>
<rect x="115.70" y="826.00" width="0.85" height="26.80" fill="rgb(25,25,25)" stroke="none" stroke-width="1.0"/>
<rect x="119.80" y="826.00" width="1.55" height="26.80" fill="rgb(194,194,194)" stroke="none" stroke-width="1.0"/>
<rect x="121.30" y="826.00" width="0.65" height="26.80" fill="rgb(27,27,27)" stroke="none" stroke-width="1.0"/>
<rect x="121.90" y="826.00" width="0.85" height="26.80" fill="rgb(79,79,79)" stroke="none" stroke-width="1.0"/>
<rect x="123.70" y="826.00" width="0.65" height="26.80" fill="rgb(9,9,9)" stroke="none" stroke-width="1.0"/>
<rect x="124.30" y="826.00" width="1.85" height="26.80" fill="rgb(17,17,17)" stroke="none" stroke-width="1.0"/>
<rect x="126.10" y="826.00" width="1.85" height="26.80" fill="rgb(194,194,194)" stroke="none" stroke-width="1.0"/>
<rect x="127.90" y="826.00" width="1.25" height="26.80" fill="rgb(90,90,90)" stroke="none" stroke-width="1.0"/>
<rect x="130.90" y="826.00" width="1.25" height="26.80" fill="rgb(13,13,13)" stroke="none" stroke-width="1.0"/>
<rect x="132.10" y="826.00" width="0.65" height="26.80" fill="rgb(102,102,102)" stroke="none" stroke-width="1.0"/>
<rect x="134.80" y="826.00" width="1.55" height="26.80" fill="rgb(55,55,55)" stroke="none" stroke-width="1.0"/>
<rect x="138.80" y="826.00" width="1.05" height="26.80" fill="rgb(72,72,72)" stroke="none" stroke-width="1.0"/>
<rect x="139.80" y="826.00" width="1.55" height="26.80" fill="rgb(202,202,202)" stroke="none" stroke-width="1.0"/>
<rect x="141.30" y="826.00" width="0.65" height="26.80" fill="rgb(86,86,86)" stroke="none" stroke-width="1.0"/>
<rect x="141.90" y="826.00" width="0.85" height="26.80" fill="rgb(194,194,194)" stroke="none" stroke-width="1.0"/>
<rect x="142.70" y="826.00" width="0.65" height="26.80" fill="rgb(27,27,27)" stroke="none" stroke-width="1.0"/>
<rect x="143.30" y="826.00" width="1.85" height="26.80" fill="rgb(74,74,74)" stroke="none" stroke-width="1.0"/>
<rect x="145.10" y="826.00" width="0.65" height="26.80" fill="rgb(117,117,117)" stroke="none" stroke-width="1.0"/>
<rect x="145.70" y="826.00" width="1.25" height="26.80" fill="rgb(74,74,74)" stroke="none" stroke-width="1.0"/>
<rect x="150.70" y="826.00" width="0.65" height="26.80" fill="rgb(6,6,6)" stroke="none" stroke-width="1.0"/>
<rect x="151.30" y="826.00" width="1.85" height="26.80" fill="rgb(100,100,100)" stroke="none" stroke-width="1.0"/>
<rect x="153.70" y="826.00" width="1.55" height="26.80" fill="rgb(106,106,106)" stroke="none" stroke-width="1.0"/>
<rect x="156.00" y="826.00" width="0.85" height="26.80" fill="rgb(107,107,107)" stroke="none" stroke-width="1.0"/>
<rect x="156.80" y="826.00" width="0.85" height="26.80" fill="rgb(202,202,202)" stroke="none" stroke-width="1.0"/>
<rect x="159.60" y="826.00" width="0.65" height="26.80" fill="rgb(77,77,77)" stroke="none" stroke-width="1.0"/>
<rect x="160.20" y="826.00" width="0.65" height="26.80" fill="rgb(75,75,75)" stroke="none" stroke-width="1.0"/>
<rect x="160.80" y="826.00" width="1.25" height="26.80" fill="rgb(142,142,142)" stroke="none" stroke-width="1.0"/>
<rect x="162.00" y="826.00" width="0.85" height="26.80" fill="rgb(69,69,69)" stroke="none" stroke-width="1.0"/>
<rect x="162.80" y="826.00" width="1.05" height="26.80" fill="rgb(181,181,181)" stroke="none" stroke-width="1.0"/>
<rect x="163.80" y="826.00" width="0.65" height="26.80" fill="rgb(16,16,16)" stroke="none" stroke-width="1.0"/>
<rect x="165.90" y="826.00" width="1.25" height="26.80" fill="rgb(34,34,34)" stroke="none" stroke-width="1.0"/>
<rect x="167.10" y="826.00" width="1.55" height="26.80" fill="rgb(32,32,32)" stroke="none" stroke-width="1.0"/>
<rect x="170.10" y="826.00" width="1.25" height="26.80" fill="rgb(181,181,181)" stroke="none" stroke-width="1.0"/>
<rect x="173.40" y="826.00" width="1.55" height="26.80" fill="rgb(151,151,151)" stroke="none" stroke-width="1.0"/>
<rect x="174.90" y="826.00" width="0.65" height="26.80" fill="rgb(138,138,138)" stroke="none" stroke-width="1.0"/>
<rect x="175.50" y="826.00" width="1.85" height="26.80" fill="rgb(162,162,162)" stroke="none" stroke-width="1.0"/>
<rect x="177.30" y="826.00" width="1.55" height="26.80" fill="rgb(200,200,200)" stroke="none" stroke-width="1.0"/>
<rect x="179.80" y="826.00" width="0.85" height="26.80" fill="rgb(114,114,114)" stroke="none" stroke-width="1.0"/>
<rect x="180.60" y="826.00" width="1.25" height="26.80" fill="rgb(87,87,87)" stroke="none" stroke-width="1.0"/>
<rect x="181.80" y="826.00" width="0.55" height="26.80" fill="rgb(117,117,117)" stroke="none" stroke-width="1.0"/>
<rect x="183.50" y="826.00" width="1.55" height="26.80" fill="rgb(21,21,21)" stroke="none" stroke-width="1.0"/>
<rect x="191.30" y="826.00" width="1.85" height="26.80" fill="rgb(29,29,29)" stroke="none" stroke-width="1.0"/>
<rect x="202.50" y="826.00" width="0.65" height="26.80" fill="rgb(182,182,182)" stroke="none" stroke-width="1.0"/>
<rect x="206.90" y="826.00" width="1.05" height="26.80" fill="rgb(19,19,19)" stroke="none" stroke-width="1.0"/>
<rect x="216.00" y="826.00" width="1.05" height="26.80" fill="rgb(56,56,56)" stroke="none" stroke-width="1.0"/>
<rect x="217.00" y="826.00" width="0.85" height="26.80" fill="rgb(16,16,16)" stroke="none" stroke-width="1.0"/>
<rect x="217.80" y="826.00" width="1.85" height="26.80" fill="rgb(32,32,32)" stroke="none" stroke-width="1.0"/>
<rect x="219.60" y="826.00" width="0.65" height="26.80" fill="rgb(28,28,28)" stroke="none" stroke-width="1.0"/>
<linearGradient id="g1003" x1="0" x2="1" y1="0" y2="0"><stop offset="0" stop-color="#e8464f"/><stop offset="1" stop-color="#e84a55"/></linearGradient>
<rect x="48.50" y="853.50" width="31.50" height="7.50" fill="url(#g1003)" stroke="none" stroke-width="1.0"/>
<linearGradient id="g1005" x1="0" x2="1" y1="0" y2="0"><stop offset="0" stop-color="#e45865"/><stop offset="1" stop-color="#d87484"/></linearGradient>
<rect x="80.00" y="853.50" width="36.00" height="7.50" fill="url(#g1005)" stroke="none" stroke-width="1.0"/>
<linearGradient id="g1007" x1="0" x2="1" y1="0" y2="0"><stop offset="0" stop-color="#e2a2d8"/><stop offset="1" stop-color="#dcb4e6"/></linearGradient>
<rect x="116.00" y="853.50" width="21.00" height="7.50" fill="url(#g1007)" stroke="none" stroke-width="1.0"/>
<linearGradient id="g1009" x1="0" x2="1" y1="0" y2="0"><stop offset="0" stop-color="#cfcff4"/><stop offset="1" stop-color="#b4b4f2"/></linearGradient>
<rect x="137.00" y="853.50" width="41.00" height="7.50" fill="url(#g1009)" stroke="none" stroke-width="1.0"/>
<linearGradient id="g1011" x1="0" x2="1" y1="0" y2="0"><stop offset="0" stop-color="#7474f0"/><stop offset="1" stop-color="#4b40ee"/></linearGradient>
<rect x="178.00" y="853.50" width="37.00" height="7.50" fill="url(#g1011)" stroke="none" stroke-width="1.0"/>
<linearGradient id="g1013" x1="0" x2="1" y1="0" y2="0"><stop offset="0" stop-color="#2a08e0"/><stop offset="1" stop-color="#2a08e0"/></linearGradient>
<rect x="215.00" y="853.50" width="7.00" height="7.50" fill="url(#g1013)" stroke="none" stroke-width="1.0"/>
<line x1="48.30" y1="861.40" x2="231.80" y2="861.40" stroke="#c0c0c0" stroke-width="0.6"/>
<polyline points="48.30,800.04 50.00,793.63 51.50,790.92 52.70,789.26 54.00,784.08 55.30,779.34 57.50,775.71 59.70,772.80 61.50,767.86 63.20,765.34 65.00,764.30 66.70,762.88 69.00,760.20 71.00,757.69 73.00,756.08 74.60,754.79 75.80,754.33 77.00,753.72 78.40,752.51 79.80,751.64 81.50,748.10 83.30,745.64 84.65,746.10 86.00,746.05 87.30,745.83 88.60,745.62 89.80,745.42 91.00,744.48 93.00,743.83 94.50,744.48 96.00,744.93 97.55,745.60 99.10,745.84 100.40,746.45 101.70,746.60 103.00,747.26 104.55,747.73 106.10,747.76 107.40,748.61 108.70,749.50 110.00,750.78 111.55,751.86 113.10,753.38 114.32,754.11 115.55,755.15 116.78,756.01 118.00,756.91 119.40,758.10 120.80,759.15 122.20,760.39 123.60,761.31 124.95,762.66 126.30,763.81 127.65,765.09 129.00,766.10 130.20,766.94 131.40,768.50 132.60,769.70 133.80,770.80 135.00,771.74 136.25,773.28 137.50,774.43 138.75,776.25 140.00,777.54 141.20,778.51 142.40,779.52 143.60,781.13 144.80,782.35 146.00,782.95 147.38,784.58 148.75,785.55 150.12,786.59 151.50,787.88 152.88,789.24 154.25,790.37 155.62,790.95 157.00,792.37 158.38,792.95 159.75,794.28 161.12,794.97 162.50,796.23 163.88,797.19 165.25,797.80 166.62,799.00 168.00,799.49 169.38,800.32 170.75,801.61 172.12,802.24 173.50,803.32 174.82,804.29 176.15,805.27 177.48,805.84 178.80,806.63 180.10,807.65 181.40,807.84 182.70,808.75 184.00,809.24 185.20,809.38 186.40,809.88 187.60,810.36 188.80,810.89 191.00,812.86 193.00,812.24 195.00,813.87 197.00,812.86 198.25,813.60 199.50,814.56 201.00,813.33 203.00,815.44 205.00,813.88 207.00,816.09 209.00,814.61 211.00,816.63 213.00,815.11 215.00,817.55 217.00,817.05 218.50,818.51 220.00,818.27 221.00,819.88 222.40,818.60" fill="none" stroke="#44e41c" stroke-width="1.7" stroke-linejoin="round"/>
<text x="127.90" y="735.30" font-size="7.8" text-anchor="middle" fill="#111" font-weight="bold" stroke="#111" stroke-width="0.25">Enrichment plot: GOBP_RESPONSE_TO_INSULIN</text>
<text x="150.70" y="748.70" font-size="8.7" text-anchor="start" fill="#1a1a1a">NES = 2.1</text>
<text x="150.70" y="759.65" font-size="8.7" text-anchor="start" fill="#1a1a1a">FDR = 0.012</text>
<text x="150.70" y="770.60" font-size="8.7" text-anchor="start" fill="#1a1a1a">Nom p-value = 0.00</text>
<text x="31.50" y="782.00" font-size="6.9" text-anchor="middle" fill="#555" transform="rotate(-90 31.50 782.00)">Enrichment score (ES)</text>
<text x="34.00" y="855.00" font-size="5.2" text-anchor="middle" fill="#555" transform="rotate(-90 34.00 855.00)">ked)</text>
<text x="84.00" y="877.00" font-size="10.2" text-anchor="middle" fill="#111">HFD+D</text>
<text x="190.90" y="877.00" font-size="10.2" text-anchor="middle" fill="#111">HFD</text>
<line x1="46.30" y1="818.10" x2="48.30" y2="818.10" stroke="#999" stroke-width="0.6"/>
<text x="45.70" y="820.10" font-size="5.6" text-anchor="end" fill="#8a8a8a">0.00</text>
<rect x="267.30" y="725.50" width="213.10" height="134.90" fill="#efefef" stroke="none" stroke-width="1.0"/>
<rect x="290.10" y="758.70" width="187.50" height="101.30" fill="#ffffff" stroke="#c8c8c8" stroke-width="0.7"/>
<line x1="316.30" y1="758.70" x2="316.30" y2="830.00" stroke="#e2e2e2" stroke-width="0.6" stroke-dasharray="1.5,1.5"/>
<line x1="343.40" y1="758.70" x2="343.40" y2="830.00" stroke="#e2e2e2" stroke-width="0.6" stroke-dasharray="1.5,1.5"/>
<line x1="370.50" y1="758.70" x2="370.50" y2="830.00" stroke="#e2e2e2" stroke-width="0.6" stroke-dasharray="1.5,1.5"/>
<line x1="397.00" y1="758.70" x2="397.00" y2="830.00" stroke="#e2e2e2" stroke-width="0.6" stroke-dasharray="1.5,1.5"/>
<line x1="422.00" y1="758.70" x2="422.00" y2="830.00" stroke="#e2e2e2" stroke-width="0.6" stroke-dasharray="1.5,1.5"/>
<line x1="447.50" y1="758.70" x2="447.50" y2="830.00" stroke="#e2e2e2" stroke-width="0.6" stroke-dasharray="1.5,1.5"/>
<line x1="473.00" y1="758.70" x2="473.00" y2="830.00" stroke="#e2e2e2" stroke-width="0.6" stroke-dasharray="1.5,1.5"/>
<line x1="290.10" y1="764.00" x2="477.60" y2="764.00" stroke="#e2e2e2" stroke-width="0.6" stroke-dasharray="1.5,1.5"/>
<line x1="288.10" y1="764.00" x2="290.10" y2="764.00" stroke="#999" stroke-width="0.6"/>
<text x="287.50" y="766.00" font-size="5.6" text-anchor="end" fill="#8a8a8a">0.6</text>
<line x1="290.10" y1="774.40" x2="477.60" y2="774.40" stroke="#e2e2e2" stroke-width="0.6" stroke-dasharray="1.5,1.5"/>
<line x1="288.10" y1="774.40" x2="290.10" y2="774.40" stroke="#999" stroke-width="0.6"/>
<text x="287.50" y="776.40" font-size="5.6" text-anchor="end" fill="#8a8a8a">0.5</text>
<line x1="290.10" y1="784.80" x2="477.60" y2="784.80" stroke="#e2e2e2" stroke-width="0.6" stroke-dasharray="1.5,1.5"/>
<line x1="288.10" y1="784.80" x2="290.10" y2="784.80" stroke="#999" stroke-width="0.6"/>
<text x="287.50" y="786.80" font-size="5.6" text-anchor="end" fill="#8a8a8a">0.4</text>
<line x1="290.10" y1="795.20" x2="477.60" y2="795.20" stroke="#e2e2e2" stroke-width="0.6" stroke-dasharray="1.5,1.5"/>
<line x1="288.10" y1="795.20" x2="290.10" y2="795.20" stroke="#999" stroke-width="0.6"/>
<text x="287.50" y="797.20" font-size="5.6" text-anchor="end" fill="#8a8a8a">0.3</text>
<line x1="290.10" y1="805.60" x2="477.60" y2="805.60" stroke="#e2e2e2" stroke-width="0.6" stroke-dasharray="1.5,1.5"/>
<line x1="288.10" y1="805.60" x2="290.10" y2="805.60" stroke="#999" stroke-width="0.6"/>
<text x="287.50" y="807.60" font-size="5.6" text-anchor="end" fill="#8a8a8a">0.2</text>
<line x1="290.10" y1="816.00" x2="477.60" y2="816.00" stroke="#e2e2e2" stroke-width="0.6" stroke-dasharray="1.5,1.5"/>
<line x1="288.10" y1="816.00" x2="290.10" y2="816.00" stroke="#999" stroke-width="0.6"/>
<text x="287.50" y="818.00" font-size="5.6" text-anchor="end" fill="#8a8a8a">0.1</text>
<line x1="290.10" y1="826.40" x2="477.60" y2="826.40" stroke="#a8a8a8" stroke-width="0.8"/>
<line x1="290.10" y1="830.00" x2="477.60" y2="830.00" stroke="#b0b0b0" stroke-width="0.7"/>
<rect x="291.16" y="830.70" width="1.00" height="22.70" fill="rgb(60,60,60)" stroke="none" stroke-width="1.0"/>
<rect x="292.56" y="830.70" width="0.80" height="22.70" fill="rgb(30,30,30)" stroke="none" stroke-width="1.0"/>
<rect x="293.61" y="830.70" width="0.60" height="22.70" fill="rgb(0,0,0)" stroke="none" stroke-width="1.0"/>
<rect x="294.66" y="830.70" width="0.60" height="22.70" fill="rgb(120,120,120)" stroke="none" stroke-width="1.0"/>
<rect x="296.06" y="830.70" width="1.00" height="22.70" fill="rgb(30,30,30)" stroke="none" stroke-width="1.0"/>
<rect x="297.11" y="830.70" width="1.00" height="22.70" fill="rgb(60,60,60)" stroke="none" stroke-width="1.0"/>
<rect x="298.51" y="830.70" width="0.80" height="22.70" fill="rgb(0,0,0)" stroke="none" stroke-width="1.0"/>
<rect x="299.57" y="830.70" width="1.00" height="22.70" fill="rgb(90,90,90)" stroke="none" stroke-width="1.0"/>
<rect x="300.97" y="830.70" width="0.60" height="22.70" fill="rgb(120,120,120)" stroke="none" stroke-width="1.0"/>
<rect x="302.02" y="830.70" width="0.80" height="22.70" fill="rgb(120,120,120)" stroke="none" stroke-width="1.0"/>
<rect x="303.42" y="830.70" width="1.00" height="22.70" fill="rgb(0,0,0)" stroke="none" stroke-width="1.0"/>
<rect x="304.47" y="830.70" width="1.00" height="22.70" fill="rgb(60,60,60)" stroke="none" stroke-width="1.0"/>
<rect x="305.87" y="830.70" width="0.60" height="22.70" fill="rgb(60,60,60)" stroke="none" stroke-width="1.0"/>
<rect x="307.27" y="830.70" width="0.60" height="22.70" fill="rgb(0,0,0)" stroke="none" stroke-width="1.0"/>
<rect x="310.08" y="830.70" width="0.60" height="22.70" fill="rgb(0,0,0)" stroke="none" stroke-width="1.0"/>
<rect x="312.18" y="830.70" width="1.00" height="22.70" fill="rgb(0,0,0)" stroke="none" stroke-width="1.0"/>
<rect x="313.58" y="830.70" width="0.60" height="22.70" fill="rgb(90,90,90)" stroke="none" stroke-width="1.0"/>
<rect x="314.63" y="830.70" width="0.80" height="22.70" fill="rgb(120,120,120)" stroke="none" stroke-width="1.0"/>
<rect x="316.03" y="830.70" width="0.60" height="22.70" fill="rgb(120,120,120)" stroke="none" stroke-width="1.0"/>
<rect x="317.08" y="830.70" width="0.60" height="22.70" fill="rgb(30,30,30)" stroke="none" stroke-width="1.0"/>
<rect x="318.14" y="830.70" width="0.60" height="22.70" fill="rgb(120,120,120)" stroke="none" stroke-width="1.0"/>
<rect x="319.19" y="830.70" width="0.80" height="22.70" fill="rgb(120,120,120)" stroke="none" stroke-width="1.0"/>
<rect x="320.59" y="830.70" width="0.80" height="22.70" fill="rgb(0,0,0)" stroke="none" stroke-width="1.0"/>
<rect x="321.64" y="830.70" width="0.80" height="22.70" fill="rgb(0,0,0)" stroke="none" stroke-width="1.0"/>
<rect x="323.04" y="830.70" width="0.80" height="22.70" fill="rgb(30,30,30)" stroke="none" stroke-width="1.0"/>
<rect x="324.09" y="830.70" width="0.60" height="22.70" fill="rgb(0,0,0)" stroke="none" stroke-width="1.0"/>
<rect x="325.49" y="830.70" width="0.60" height="22.70" fill="rgb(120,120,120)" stroke="none" stroke-width="1.0"/>
<rect x="326.90" y="830.70" width="0.60" height="22.70" fill="rgb(60,60,60)" stroke="none" stroke-width="1.0"/>
<rect x="328.30" y="830.70" width="0.80" height="22.70" fill="rgb(60,60,60)" stroke="none" stroke-width="1.0"/>
<rect x="330.40" y="830.70" width="0.60" height="22.70" fill="rgb(0,0,0)" stroke="none" stroke-width="1.0"/>
<rect x="331.80" y="830.70" width="0.80" height="22.70" fill="rgb(0,0,0)" stroke="none" stroke-width="1.0"/>
<rect x="333.90" y="830.70" width="0.60" height="22.70" fill="rgb(120,120,120)" stroke="none" stroke-width="1.0"/>
<rect x="336.36" y="830.70" width="0.60" height="22.70" fill="rgb(90,90,90)" stroke="none" stroke-width="1.0"/>
<rect x="338.46" y="830.70" width="1.00" height="22.70" fill="rgb(0,0,0)" stroke="none" stroke-width="1.0"/>
<rect x="341.61" y="830.70" width="0.60" height="22.70" fill="rgb(0,0,0)" stroke="none" stroke-width="1.0"/>
<rect x="344.06" y="830.70" width="0.60" height="22.70" fill="rgb(30,30,30)" stroke="none" stroke-width="1.0"/>
<rect x="345.82" y="830.70" width="0.60" height="22.70" fill="rgb(0,0,0)" stroke="none" stroke-width="1.0"/>
<rect x="347.92" y="830.70" width="0.60" height="22.70" fill="rgb(90,90,90)" stroke="none" stroke-width="1.0"/>
<rect x="350.72" y="830.70" width="0.60" height="22.70" fill="rgb(90,90,90)" stroke="none" stroke-width="1.0"/>
<rect x="353.88" y="830.70" width="0.80" height="22.70" fill="rgb(90,90,90)" stroke="none" stroke-width="1.0"/>
<rect x="356.33" y="830.70" width="0.60" height="22.70" fill="rgb(90,90,90)" stroke="none" stroke-width="1.0"/>
<rect x="358.43" y="830.70" width="0.60" height="22.70" fill="rgb(60,60,60)" stroke="none" stroke-width="1.0"/>
<rect x="361.93" y="830.70" width="0.60" height="22.70" fill="rgb(60,60,60)" stroke="none" stroke-width="1.0"/>
<rect x="366.84" y="830.70" width="0.60" height="22.70" fill="rgb(120,120,120)" stroke="none" stroke-width="1.0"/>
<rect x="368.94" y="830.70" width="1.00" height="22.70" fill="rgb(120,120,120)" stroke="none" stroke-width="1.0"/>
<rect x="371.39" y="830.70" width="0.60" height="22.70" fill="rgb(0,0,0)" stroke="none" stroke-width="1.0"/>
<rect x="376.65" y="830.70" width="1.00" height="22.70" fill="rgb(90,90,90)" stroke="none" stroke-width="1.0"/>
<rect x="381.91" y="830.70" width="0.60" height="22.70" fill="rgb(0,0,0)" stroke="none" stroke-width="1.0"/>
<rect x="383.66" y="830.70" width="1.00" height="22.70" fill="rgb(30,30,30)" stroke="none" stroke-width="1.0"/>
<rect x="386.46" y="830.70" width="1.00" height="22.70" fill="rgb(120,120,120)" stroke="none" stroke-width="1.0"/>
<rect x="397.67" y="830.70" width="1.00" height="22.70" fill="rgb(0,0,0)" stroke="none" stroke-width="1.0"/>
<rect x="400.48" y="830.70" width="1.00" height="22.70" fill="rgb(30,30,30)" stroke="none" stroke-width="1.0"/>
<rect x="404.68" y="830.70" width="0.60" height="22.70" fill="rgb(90,90,90)" stroke="none" stroke-width="1.0"/>
<rect x="426.76" y="830.70" width="1.00" height="22.70" fill="rgb(0,0,0)" stroke="none" stroke-width="1.0"/>
<linearGradient id="g1110" x1="0" x2="1" y1="0" y2="0"><stop offset="0" stop-color="#e8464f"/><stop offset="1" stop-color="#e84a55"/></linearGradient>
<rect x="290.10" y="854.10" width="34.90" height="5.60" fill="url(#g1110)" stroke="none" stroke-width="1.0"/>
<linearGradient id="g1112" x1="0" x2="1" y1="0" y2="0"><stop offset="0" stop-color="#e45865"/><stop offset="1" stop-color="#dc7a8a"/></linearGradient>
<rect x="325.00" y="854.10" width="34.00" height="5.60" fill="url(#g1112)" stroke="none" stroke-width="1.0"/>
<linearGradient id="g1114" x1="0" x2="1" y1="0" y2="0"><stop offset="0" stop-color="#e6a8dc"/><stop offset="1" stop-color="#dcb8e8"/></linearGradient>
<rect x="359.00" y="854.10" width="21.40" height="5.60" fill="url(#g1114)" stroke="none" stroke-width="1.0"/>
<linearGradient id="g1116" x1="0" x2="1" y1="0" y2="0"><stop offset="0" stop-color="#d0d0f4"/><stop offset="1" stop-color="#b8b8f2"/></linearGradient>
<rect x="380.40" y="854.10" width="37.10" height="5.60" fill="url(#g1116)" stroke="none" stroke-width="1.0"/>
<linearGradient id="g1118" x1="0" x2="1" y1="0" y2="0"><stop offset="0" stop-color="#9c9cf2"/><stop offset="1" stop-color="#8c8cf0"/></linearGradient>
<rect x="417.50" y="854.10" width="14.20" height="5.60" fill="url(#g1118)" stroke="none" stroke-width="1.0"/>
<linearGradient id="g1120" x1="0" x2="1" y1="0" y2="0"><stop offset="0" stop-color="#6a6af0"/><stop offset="1" stop-color="#4b40ee"/></linearGradient>
<rect x="431.70" y="854.10" width="29.90" height="5.60" fill="url(#g1120)" stroke="none" stroke-width="1.0"/>
<linearGradient id="g1122" x1="0" x2="1" y1="0" y2="0"><stop offset="0" stop-color="#2a08e0"/><stop offset="1" stop-color="#2a08e0"/></linearGradient>
<rect x="461.60" y="854.10" width="7.20" height="5.60" fill="url(#g1122)" stroke="none" stroke-width="1.0"/>
<line x1="290.10" y1="860.10" x2="477.60" y2="860.10" stroke="#c0c0c0" stroke-width="0.6"/>
<polyline points="290.10,827.07 291.00,821.80 291.90,816.55 293.00,811.83 294.30,807.68 296.00,796.95 297.80,787.11 299.50,788.15 301.30,787.03 302.80,781.86 304.10,779.22 306.00,780.39 308.30,781.44 310.00,780.80 311.80,779.76 313.50,776.21 315.30,774.76 316.65,773.45 318.00,772.15 319.30,770.50 320.60,769.20 323.00,766.56 324.40,765.42 325.80,764.28 327.60,761.49 330.00,761.79 331.45,762.55 332.90,763.09 334.27,763.67 335.63,764.17 337.00,764.99 338.53,765.66 340.07,766.95 341.60,767.78 343.30,767.57 345.00,767.40 346.20,767.50 347.40,767.14 348.60,767.09 349.95,767.60 351.30,767.95 352.65,768.43 354.00,769.05 355.27,769.49 356.55,769.88 357.83,770.48 359.10,771.26 360.33,771.35 361.55,771.82 362.77,772.59 364.00,772.89 365.40,773.42 366.80,773.79 368.20,774.12 369.60,774.85 370.88,775.13 372.16,775.92 373.44,776.49 374.72,777.39 376.00,777.89 377.28,778.64 378.57,779.56 379.85,780.06 381.13,780.90 382.42,781.79 383.70,782.10 384.96,782.92 386.22,783.84 387.48,784.95 388.74,785.72 390.00,786.37 391.28,787.23 392.57,787.97 393.85,788.93 395.13,789.54 396.42,790.68 397.70,791.60 399.02,792.15 400.35,792.57 401.68,793.20 403.00,793.26 404.30,793.74 405.60,794.43 406.90,794.69 408.20,794.86 409.40,795.65 410.60,796.01 411.80,796.63 413.00,796.90 414.43,797.37 415.85,798.02 417.27,798.39 418.70,799.04 420.35,800.18 422.00,800.72 423.23,801.15 424.47,801.77 425.70,802.43 427.50,801.04 429.00,802.03 430.50,803.20 432.00,804.30 433.40,805.87 434.80,806.73 436.20,807.75 437.56,808.50 438.92,809.32 440.28,810.19 441.64,811.27 443.00,811.82 444.44,812.57 445.88,813.60 447.32,814.27 448.76,815.45 450.20,815.81 451.50,816.85 452.80,817.80 454.10,818.45 455.40,819.58 456.70,820.16 458.00,820.87 459.21,821.64 460.43,822.14 461.64,823.02 462.85,823.62 464.06,824.63 465.27,825.29 466.49,825.81 467.70,826.50" fill="none" stroke="#44e41c" stroke-width="1.7" stroke-linejoin="round"/>
<text x="373.80" y="733.50" font-size="7.8" text-anchor="middle" fill="#111" font-weight="bold" stroke="#111" stroke-width="0.25">Enrichment plot:</text>
<text x="373.80" y="744.00" font-size="7.8" text-anchor="middle" fill="#111" font-weight="bold" stroke="#111" stroke-width="0.25">GOBP_INSULIN_LIKE_GROWTH_FACTOR_RECEPTOR_S</text>
<text x="373.80" y="754.20" font-size="7.8" text-anchor="middle" fill="#111" font-weight="bold" stroke="#111" stroke-width="0.25">IGNALING_PATHWAY</text>
<text x="400.50" y="767.20" font-size="8.7" text-anchor="start" fill="#1a1a1a">NES = 2.6</text>
<text x="400.50" y="778.05" font-size="8.7" text-anchor="start" fill="#1a1a1a">FDR = 0.0</text>
<text x="400.50" y="788.90" font-size="8.7" text-anchor="start" fill="#1a1a1a">Nom p-value = 0.0</text>
<text x="275.50" y="790.00" font-size="6.9" text-anchor="middle" fill="#555" transform="rotate(-90 275.50 790.00)">Enrichment score (ES)</text>
<text x="276.50" y="855.00" font-size="5.2" text-anchor="middle" fill="#555" transform="rotate(-90 276.50 855.00)">ked)</text>
<text x="325.80" y="874.60" font-size="10.2" text-anchor="middle" fill="#111">HFD+D</text>
<text x="433.80" y="874.60" font-size="10.2" text-anchor="middle" fill="#111">HFD</text>
<line x1="288.10" y1="826.40" x2="290.10" y2="826.40" stroke="#999" stroke-width="0.6"/>
<text x="287.50" y="828.40" font-size="5.6" text-anchor="end" fill="#8a8a8a">0.0</text>
<rect x="542.30" y="624.20" width="15.83" height="7.47" fill="rgb(126,126,247)" stroke="#b4b4b4" stroke-width="0.45"/>
<rect x="558.13" y="624.20" width="15.83" height="7.47" fill="rgb(138,138,247)" stroke="#b4b4b4" stroke-width="0.45"/>
<rect x="573.97" y="624.20" width="15.83" height="7.47" fill="rgb(163,163,247)" stroke="#b4b4b4" stroke-width="0.45"/>
<rect x="589.80" y="624.20" width="15.83" height="7.47" fill="rgb(249,59,54)" stroke="#b4b4b4" stroke-width="0.45"/>
<rect x="605.63" y="624.20" width="15.83" height="7.47" fill="rgb(246,195,194)" stroke="#b4b4b4" stroke-width="0.45"/>
<rect x="621.47" y="624.20" width="15.83" height="7.47" fill="rgb(249,218,217)" stroke="#b4b4b4" stroke-width="0.45"/>
<rect x="542.30" y="631.67" width="15.83" height="7.47" fill="rgb(100,100,248)" stroke="#b4b4b4" stroke-width="0.45"/>
<rect x="558.13" y="631.67" width="15.83" height="7.47" fill="rgb(189,189,248)" stroke="#b4b4b4" stroke-width="0.45"/>
<rect x="573.97" y="631.67" width="15.83" height="7.47" fill="rgb(163,163,247)" stroke="#b4b4b4" stroke-width="0.45"/>
<rect x="589.80" y="631.67" width="15.83" height="7.47" fill="rgb(243,139,136)" stroke="#b4b4b4" stroke-width="0.45"/>
<rect x="605.63" y="631.67" width="15.83" height="7.47" fill="rgb(247,71,66)" stroke="#b4b4b4" stroke-width="0.45"/>
<rect x="621.47" y="631.67" width="15.83" height="7.47" fill="rgb(226,226,250)" stroke="#b4b4b4" stroke-width="0.45"/>
<rect x="542.30" y="639.13" width="15.83" height="7.47" fill="rgb(176,176,248)" stroke="#b4b4b4" stroke-width="0.45"/>
<rect x="558.13" y="639.13" width="15.83" height="7.47" fill="rgb(239,239,251)" stroke="#b4b4b4" stroke-width="0.45"/>
<rect x="573.97" y="639.13" width="15.83" height="7.47" fill="rgb(214,214,249)" stroke="#b4b4b4" stroke-width="0.45"/>
<rect x="589.80" y="639.13" width="15.83" height="7.47" fill="rgb(255,26,20)" stroke="#b4b4b4" stroke-width="0.45"/>
<rect x="605.63" y="639.13" width="15.83" height="7.47" fill="rgb(176,176,248)" stroke="#b4b4b4" stroke-width="0.45"/>
<rect x="621.47" y="639.13" width="15.83" height="7.47" fill="rgb(189,189,248)" stroke="#b4b4b4" stroke-width="0.45"/>
<rect x="542.30" y="646.60" width="15.83" height="7.47" fill="rgb(248,212,211)" stroke="#b4b4b4" stroke-width="0.45"/>
<rect x="558.13" y="646.60" width="15.83" height="7.47" fill="rgb(100,100,248)" stroke="#b4b4b4" stroke-width="0.45"/>
<rect x="573.97" y="646.60" width="15.83" height="7.47" fill="rgb(163,163,247)" stroke="#b4b4b4" stroke-width="0.45"/>
<rect x="589.80" y="646.60" width="15.83" height="7.47" fill="rgb(247,71,66)" stroke="#b4b4b4" stroke-width="0.45"/>
<rect x="605.63" y="646.60" width="15.83" height="7.47" fill="rgb(244,172,170)" stroke="#b4b4b4" stroke-width="0.45"/>
<rect x="621.47" y="646.60" width="15.83" height="7.47" fill="rgb(163,163,247)" stroke="#b4b4b4" stroke-width="0.45"/>
<rect x="542.30" y="654.07" width="15.83" height="7.47" fill="rgb(0,0,255)" stroke="#b4b4b4" stroke-width="0.45"/>
<rect x="558.13" y="654.07" width="15.83" height="7.47" fill="rgb(214,214,249)" stroke="#b4b4b4" stroke-width="0.45"/>
<rect x="573.97" y="654.07" width="15.83" height="7.47" fill="rgb(243,161,159)" stroke="#b4b4b4" stroke-width="0.45"/>
<rect x="589.80" y="654.07" width="15.83" height="7.47" fill="rgb(239,239,251)" stroke="#b4b4b4" stroke-width="0.45"/>
<rect x="605.63" y="654.07" width="15.83" height="7.47" fill="rgb(244,178,176)" stroke="#b4b4b4" stroke-width="0.45"/>
<rect x="621.47" y="654.07" width="15.83" height="7.47" fill="rgb(243,139,136)" stroke="#b4b4b4" stroke-width="0.45"/>
<rect x="542.30" y="661.53" width="15.83" height="7.47" fill="rgb(12,12,253)" stroke="#b4b4b4" stroke-width="0.45"/>
<rect x="558.13" y="661.53" width="15.83" height="7.47" fill="rgb(214,214,249)" stroke="#b4b4b4" stroke-width="0.45"/>
<rect x="573.97" y="661.53" width="15.83" height="7.47" fill="rgb(163,163,247)" stroke="#b4b4b4" stroke-width="0.45"/>
<rect x="589.80" y="661.53" width="15.83" height="7.47" fill="rgb(243,167,165)" stroke="#b4b4b4" stroke-width="0.45"/>
<rect x="605.63" y="661.53" width="15.83" height="7.47" fill="rgb(243,139,136)" stroke="#b4b4b4" stroke-width="0.45"/>
<rect x="621.47" y="661.53" width="15.83" height="7.47" fill="rgb(243,150,147)" stroke="#b4b4b4" stroke-width="0.45"/>
<rect x="542.30" y="669.00" width="15.83" height="7.47" fill="rgb(0,0,255)" stroke="#b4b4b4" stroke-width="0.45"/>
<rect x="558.13" y="669.00" width="15.83" height="7.47" fill="rgb(253,240,240)" stroke="#b4b4b4" stroke-width="0.45"/>
<rect x="573.97" y="669.00" width="15.83" height="7.47" fill="rgb(201,201,249)" stroke="#b4b4b4" stroke-width="0.45"/>
<rect x="589.80" y="669.00" width="15.83" height="7.47" fill="rgb(243,144,141)" stroke="#b4b4b4" stroke-width="0.45"/>
<rect x="605.63" y="669.00" width="15.83" height="7.47" fill="rgb(254,246,246)" stroke="#b4b4b4" stroke-width="0.45"/>
<rect x="621.47" y="669.00" width="15.83" height="7.47" fill="rgb(243,139,136)" stroke="#b4b4b4" stroke-width="0.45"/>
<rect x="542.30" y="676.47" width="15.83" height="7.47" fill="rgb(151,151,247)" stroke="#b4b4b4" stroke-width="0.45"/>
<rect x="558.13" y="676.47" width="15.83" height="7.47" fill="rgb(254,246,246)" stroke="#b4b4b4" stroke-width="0.45"/>
<rect x="573.97" y="676.47" width="15.83" height="7.47" fill="rgb(163,163,247)" stroke="#b4b4b4" stroke-width="0.45"/>
<rect x="589.80" y="676.47" width="15.83" height="7.47" fill="rgb(151,151,247)" stroke="#b4b4b4" stroke-width="0.45"/>
<rect x="605.63" y="676.47" width="15.83" height="7.47" fill="rgb(250,223,223)" stroke="#b4b4b4" stroke-width="0.45"/>
<rect x="621.47" y="676.47" width="15.83" height="7.47" fill="rgb(255,26,20)" stroke="#b4b4b4" stroke-width="0.45"/>
<rect x="542.30" y="683.93" width="15.83" height="7.47" fill="rgb(157,157,247)" stroke="#b4b4b4" stroke-width="0.45"/>
<rect x="558.13" y="683.93" width="15.83" height="7.47" fill="rgb(251,229,228)" stroke="#b4b4b4" stroke-width="0.45"/>
<rect x="573.97" y="683.93" width="15.83" height="7.47" fill="rgb(163,163,247)" stroke="#b4b4b4" stroke-width="0.45"/>
<rect x="589.80" y="683.93" width="15.83" height="7.47" fill="rgb(126,126,247)" stroke="#b4b4b4" stroke-width="0.45"/>
<rect x="605.63" y="683.93" width="15.83" height="7.47" fill="rgb(246,195,194)" stroke="#b4b4b4" stroke-width="0.45"/>
<rect x="621.47" y="683.93" width="15.83" height="7.47" fill="rgb(253,37,31)" stroke="#b4b4b4" stroke-width="0.45"/>
<rect x="542.30" y="691.40" width="15.83" height="7.47" fill="rgb(25,25,252)" stroke="#b4b4b4" stroke-width="0.45"/>
<rect x="558.13" y="691.40" width="15.83" height="7.47" fill="rgb(248,212,211)" stroke="#b4b4b4" stroke-width="0.45"/>
<rect x="573.97" y="691.40" width="15.83" height="7.47" fill="rgb(163,163,247)" stroke="#b4b4b4" stroke-width="0.45"/>
<rect x="589.80" y="691.40" width="15.83" height="7.47" fill="rgb(245,245,251)" stroke="#b4b4b4" stroke-width="0.45"/>
<rect x="605.63" y="691.40" width="15.83" height="7.47" fill="rgb(244,172,170)" stroke="#b4b4b4" stroke-width="0.45"/>
<rect x="621.47" y="691.40" width="15.83" height="7.47" fill="rgb(244,105,101)" stroke="#b4b4b4" stroke-width="0.45"/>
<rect x="542.30" y="698.87" width="15.83" height="7.47" fill="rgb(113,113,247)" stroke="#b4b4b4" stroke-width="0.45"/>
<rect x="558.13" y="698.87" width="15.83" height="7.47" fill="rgb(244,172,170)" stroke="#b4b4b4" stroke-width="0.45"/>
<rect x="573.97" y="698.87" width="15.83" height="7.47" fill="rgb(75,75,249)" stroke="#b4b4b4" stroke-width="0.45"/>
<rect x="589.80" y="698.87" width="15.83" height="7.47" fill="rgb(253,240,240)" stroke="#b4b4b4" stroke-width="0.45"/>
<rect x="605.63" y="698.87" width="15.83" height="7.47" fill="rgb(248,212,211)" stroke="#b4b4b4" stroke-width="0.45"/>
<rect x="621.47" y="698.87" width="15.83" height="7.47" fill="rgb(244,105,101)" stroke="#b4b4b4" stroke-width="0.45"/>
<rect x="542.30" y="706.33" width="15.83" height="7.47" fill="rgb(233,233,250)" stroke="#b4b4b4" stroke-width="0.45"/>
<rect x="558.13" y="706.33" width="15.83" height="7.47" fill="rgb(239,239,251)" stroke="#b4b4b4" stroke-width="0.45"/>
<rect x="573.97" y="706.33" width="15.83" height="7.47" fill="rgb(37,37,251)" stroke="#b4b4b4" stroke-width="0.45"/>
<rect x="589.80" y="706.33" width="15.83" height="7.47" fill="rgb(207,207,249)" stroke="#b4b4b4" stroke-width="0.45"/>
<rect x="605.63" y="706.33" width="15.83" height="7.47" fill="rgb(247,71,66)" stroke="#b4b4b4" stroke-width="0.45"/>
<rect x="621.47" y="706.33" width="15.83" height="7.47" fill="rgb(244,178,176)" stroke="#b4b4b4" stroke-width="0.45"/>
<rect x="542.30" y="713.80" width="15.83" height="7.47" fill="rgb(251,229,228)" stroke="#b4b4b4" stroke-width="0.45"/>
<rect x="558.13" y="713.80" width="15.83" height="7.47" fill="rgb(157,157,247)" stroke="#b4b4b4" stroke-width="0.45"/>
<rect x="573.97" y="713.80" width="15.83" height="7.47" fill="rgb(75,75,249)" stroke="#b4b4b4" stroke-width="0.45"/>
<rect x="589.80" y="713.80" width="15.83" height="7.47" fill="rgb(176,176,248)" stroke="#b4b4b4" stroke-width="0.45"/>
<rect x="605.63" y="713.80" width="15.83" height="7.47" fill="rgb(246,82,78)" stroke="#b4b4b4" stroke-width="0.45"/>
<rect x="621.47" y="713.80" width="15.83" height="7.47" fill="rgb(243,139,136)" stroke="#b4b4b4" stroke-width="0.45"/>
<rect x="542.30" y="721.27" width="15.83" height="7.47" fill="rgb(207,207,249)" stroke="#b4b4b4" stroke-width="0.45"/>
<rect x="558.13" y="721.27" width="15.83" height="7.47" fill="rgb(254,249,249)" stroke="#b4b4b4" stroke-width="0.45"/>
<rect x="573.97" y="721.27" width="15.83" height="7.47" fill="rgb(0,0,255)" stroke="#b4b4b4" stroke-width="0.45"/>
<rect x="589.80" y="721.27" width="15.83" height="7.47" fill="rgb(254,246,246)" stroke="#b4b4b4" stroke-width="0.45"/>
<rect x="605.63" y="721.27" width="15.83" height="7.47" fill="rgb(243,144,141)" stroke="#b4b4b4" stroke-width="0.45"/>
<rect x="621.47" y="721.27" width="15.83" height="7.47" fill="rgb(243,116,112)" stroke="#b4b4b4" stroke-width="0.45"/>
<rect x="542.30" y="728.73" width="15.83" height="7.47" fill="rgb(151,151,247)" stroke="#b4b4b4" stroke-width="0.45"/>
<rect x="558.13" y="728.73" width="15.83" height="7.47" fill="rgb(255,252,252)" stroke="#b4b4b4" stroke-width="0.45"/>
<rect x="573.97" y="728.73" width="15.83" height="7.47" fill="rgb(88,88,248)" stroke="#b4b4b4" stroke-width="0.45"/>
<rect x="589.80" y="728.73" width="15.83" height="7.47" fill="rgb(182,182,248)" stroke="#b4b4b4" stroke-width="0.45"/>
<rect x="605.63" y="728.73" width="15.83" height="7.47" fill="rgb(243,116,112)" stroke="#b4b4b4" stroke-width="0.45"/>
<rect x="621.47" y="728.73" width="15.83" height="7.47" fill="rgb(244,105,101)" stroke="#b4b4b4" stroke-width="0.45"/>
<rect x="542.30" y="736.20" width="15.83" height="7.47" fill="rgb(157,157,247)" stroke="#b4b4b4" stroke-width="0.45"/>
<rect x="558.13" y="736.20" width="15.83" height="7.47" fill="rgb(239,239,251)" stroke="#b4b4b4" stroke-width="0.45"/>
<rect x="573.97" y="736.20" width="15.83" height="7.47" fill="rgb(88,88,248)" stroke="#b4b4b4" stroke-width="0.45"/>
<rect x="589.80" y="736.20" width="15.83" height="7.47" fill="rgb(189,189,248)" stroke="#b4b4b4" stroke-width="0.45"/>
<rect x="605.63" y="736.20" width="15.83" height="7.47" fill="rgb(247,76,72)" stroke="#b4b4b4" stroke-width="0.45"/>
<rect x="621.47" y="736.20" width="15.83" height="7.47" fill="rgb(243,139,136)" stroke="#b4b4b4" stroke-width="0.45"/>
<rect x="542.30" y="743.67" width="15.83" height="7.47" fill="rgb(151,151,247)" stroke="#b4b4b4" stroke-width="0.45"/>
<rect x="558.13" y="743.67" width="15.83" height="7.47" fill="rgb(214,214,249)" stroke="#b4b4b4" stroke-width="0.45"/>
<rect x="573.97" y="743.67" width="15.83" height="7.47" fill="rgb(126,126,247)" stroke="#b4b4b4" stroke-width="0.45"/>
<rect x="589.80" y="743.67" width="15.83" height="7.47" fill="rgb(207,207,249)" stroke="#b4b4b4" stroke-width="0.45"/>
<rect x="605.63" y="743.67" width="15.83" height="7.47" fill="rgb(248,212,211)" stroke="#b4b4b4" stroke-width="0.45"/>
<rect x="621.47" y="743.67" width="15.83" height="7.47" fill="rgb(255,26,20)" stroke="#b4b4b4" stroke-width="0.45"/>
<rect x="542.30" y="751.13" width="15.83" height="7.47" fill="rgb(189,189,248)" stroke="#b4b4b4" stroke-width="0.45"/>
<rect x="558.13" y="751.13" width="15.83" height="7.47" fill="rgb(182,182,248)" stroke="#b4b4b4" stroke-width="0.45"/>
<rect x="573.97" y="751.13" width="15.83" height="7.47" fill="rgb(88,88,248)" stroke="#b4b4b4" stroke-width="0.45"/>
<rect x="589.80" y="751.13" width="15.83" height="7.47" fill="rgb(239,239,251)" stroke="#b4b4b4" stroke-width="0.45"/>
<rect x="605.63" y="751.13" width="15.83" height="7.47" fill="rgb(248,212,211)" stroke="#b4b4b4" stroke-width="0.45"/>
<rect x="621.47" y="751.13" width="15.83" height="7.47" fill="rgb(252,42,37)" stroke="#b4b4b4" stroke-width="0.45"/>
<rect x="542.30" y="758.60" width="15.83" height="7.47" fill="rgb(254,246,246)" stroke="#b4b4b4" stroke-width="0.45"/>
<rect x="558.13" y="758.60" width="15.83" height="7.47" fill="rgb(132,132,247)" stroke="#b4b4b4" stroke-width="0.45"/>
<rect x="573.97" y="758.60" width="15.83" height="7.47" fill="rgb(107,107,247)" stroke="#b4b4b4" stroke-width="0.45"/>
<rect x="589.80" y="758.60" width="15.83" height="7.47" fill="rgb(207,207,249)" stroke="#b4b4b4" stroke-width="0.45"/>
<rect x="605.63" y="758.60" width="15.83" height="7.47" fill="rgb(245,189,188)" stroke="#b4b4b4" stroke-width="0.45"/>
<rect x="621.47" y="758.60" width="15.83" height="7.47" fill="rgb(250,54,49)" stroke="#b4b4b4" stroke-width="0.45"/>
<rect x="542.30" y="766.07" width="15.83" height="7.47" fill="rgb(249,218,217)" stroke="#b4b4b4" stroke-width="0.45"/>
<rect x="558.13" y="766.07" width="15.83" height="7.47" fill="rgb(195,195,248)" stroke="#b4b4b4" stroke-width="0.45"/>
<rect x="573.97" y="766.07" width="15.83" height="7.47" fill="rgb(50,50,250)" stroke="#b4b4b4" stroke-width="0.45"/>
<rect x="589.80" y="766.07" width="15.83" height="7.47" fill="rgb(189,189,248)" stroke="#b4b4b4" stroke-width="0.45"/>
<rect x="605.63" y="766.07" width="15.83" height="7.47" fill="rgb(244,178,176)" stroke="#b4b4b4" stroke-width="0.45"/>
<rect x="621.47" y="766.07" width="15.83" height="7.47" fill="rgb(247,76,72)" stroke="#b4b4b4" stroke-width="0.45"/>
<rect x="542.30" y="773.53" width="15.83" height="7.47" fill="rgb(255,252,252)" stroke="#b4b4b4" stroke-width="0.45"/>
<rect x="558.13" y="773.53" width="15.83" height="7.47" fill="rgb(195,195,248)" stroke="#b4b4b4" stroke-width="0.45"/>
<rect x="573.97" y="773.53" width="15.83" height="7.47" fill="rgb(63,63,250)" stroke="#b4b4b4" stroke-width="0.45"/>
<rect x="589.80" y="773.53" width="15.83" height="7.47" fill="rgb(176,176,248)" stroke="#b4b4b4" stroke-width="0.45"/>
<rect x="605.63" y="773.53" width="15.83" height="7.47" fill="rgb(243,144,141)" stroke="#b4b4b4" stroke-width="0.45"/>
<rect x="621.47" y="773.53" width="15.83" height="7.47" fill="rgb(247,76,72)" stroke="#b4b4b4" stroke-width="0.45"/>
<rect x="542.30" y="781.00" width="15.83" height="7.47" fill="rgb(247,201,199)" stroke="#b4b4b4" stroke-width="0.45"/>
<rect x="558.13" y="781.00" width="15.83" height="7.47" fill="rgb(239,239,251)" stroke="#b4b4b4" stroke-width="0.45"/>
<rect x="573.97" y="781.00" width="15.83" height="7.47" fill="rgb(113,113,247)" stroke="#b4b4b4" stroke-width="0.45"/>
<rect x="589.80" y="781.00" width="15.83" height="7.47" fill="rgb(182,182,248)" stroke="#b4b4b4" stroke-width="0.45"/>
<rect x="605.63" y="781.00" width="15.83" height="7.47" fill="rgb(255,26,20)" stroke="#b4b4b4" stroke-width="0.45"/>
<rect x="621.47" y="781.00" width="15.83" height="7.47" fill="rgb(176,176,248)" stroke="#b4b4b4" stroke-width="0.45"/>
<rect x="542.30" y="788.47" width="15.83" height="7.47" fill="rgb(243,150,147)" stroke="#b4b4b4" stroke-width="0.45"/>
<rect x="558.13" y="788.47" width="15.83" height="7.47" fill="rgb(220,220,250)" stroke="#b4b4b4" stroke-width="0.45"/>
<rect x="573.97" y="788.47" width="15.83" height="7.47" fill="rgb(25,25,252)" stroke="#b4b4b4" stroke-width="0.45"/>
<rect x="589.80" y="788.47" width="15.83" height="7.47" fill="rgb(251,229,228)" stroke="#b4b4b4" stroke-width="0.45"/>
<rect x="605.63" y="788.47" width="15.83" height="7.47" fill="rgb(244,99,95)" stroke="#b4b4b4" stroke-width="0.45"/>
<rect x="621.47" y="788.47" width="15.83" height="7.47" fill="rgb(189,189,248)" stroke="#b4b4b4" stroke-width="0.45"/>
<rect x="542.30" y="795.93" width="15.83" height="7.47" fill="rgb(239,239,251)" stroke="#b4b4b4" stroke-width="0.45"/>
<rect x="558.13" y="795.93" width="15.83" height="7.47" fill="rgb(0,0,255)" stroke="#b4b4b4" stroke-width="0.45"/>
<rect x="573.97" y="795.93" width="15.83" height="7.47" fill="rgb(254,249,249)" stroke="#b4b4b4" stroke-width="0.45"/>
<rect x="589.80" y="795.93" width="15.83" height="7.47" fill="rgb(251,229,228)" stroke="#b4b4b4" stroke-width="0.45"/>
<rect x="605.63" y="795.93" width="15.83" height="7.47" fill="rgb(246,195,194)" stroke="#b4b4b4" stroke-width="0.45"/>
<rect x="621.47" y="795.93" width="15.83" height="7.47" fill="rgb(244,99,95)" stroke="#b4b4b4" stroke-width="0.45"/>
<rect x="542.30" y="803.40" width="15.83" height="7.47" fill="rgb(252,235,234)" stroke="#b4b4b4" stroke-width="0.45"/>
<rect x="558.13" y="803.40" width="15.83" height="7.47" fill="rgb(81,81,248)" stroke="#b4b4b4" stroke-width="0.45"/>
<rect x="573.97" y="803.40" width="15.83" height="7.47" fill="rgb(244,172,170)" stroke="#b4b4b4" stroke-width="0.45"/>
<rect x="589.80" y="803.40" width="15.83" height="7.47" fill="rgb(138,138,247)" stroke="#b4b4b4" stroke-width="0.45"/>
<rect x="605.63" y="803.40" width="15.83" height="7.47" fill="rgb(249,59,54)" stroke="#b4b4b4" stroke-width="0.45"/>
<rect x="621.47" y="803.40" width="15.83" height="7.47" fill="rgb(220,220,250)" stroke="#b4b4b4" stroke-width="0.45"/>
<rect x="542.30" y="810.87" width="15.83" height="7.47" fill="rgb(182,182,248)" stroke="#b4b4b4" stroke-width="0.45"/>
<rect x="558.13" y="810.87" width="15.83" height="7.47" fill="rgb(75,75,249)" stroke="#b4b4b4" stroke-width="0.45"/>
<rect x="573.97" y="810.87" width="15.83" height="7.47" fill="rgb(189,189,248)" stroke="#b4b4b4" stroke-width="0.45"/>
<rect x="589.80" y="810.87" width="15.83" height="7.47" fill="rgb(253,240,240)" stroke="#b4b4b4" stroke-width="0.45"/>
<rect x="605.63" y="810.87" width="15.83" height="7.47" fill="rgb(249,59,54)" stroke="#b4b4b4" stroke-width="0.45"/>
<rect x="621.47" y="810.87" width="15.83" height="7.47" fill="rgb(244,172,170)" stroke="#b4b4b4" stroke-width="0.45"/>
<rect x="542.30" y="818.33" width="15.83" height="7.47" fill="rgb(189,189,248)" stroke="#b4b4b4" stroke-width="0.45"/>
<rect x="558.13" y="818.33" width="15.83" height="7.47" fill="rgb(126,126,247)" stroke="#b4b4b4" stroke-width="0.45"/>
<rect x="573.97" y="818.33" width="15.83" height="7.47" fill="rgb(113,113,247)" stroke="#b4b4b4" stroke-width="0.45"/>
<rect x="589.80" y="818.33" width="15.83" height="7.47" fill="rgb(255,252,252)" stroke="#b4b4b4" stroke-width="0.45"/>
<rect x="605.63" y="818.33" width="15.83" height="7.47" fill="rgb(250,54,49)" stroke="#b4b4b4" stroke-width="0.45"/>
<rect x="621.47" y="818.33" width="15.83" height="7.47" fill="rgb(244,172,170)" stroke="#b4b4b4" stroke-width="0.45"/>
<rect x="542.30" y="825.80" width="15.83" height="7.47" fill="rgb(220,220,250)" stroke="#b4b4b4" stroke-width="0.45"/>
<rect x="558.13" y="825.80" width="15.83" height="7.47" fill="rgb(157,157,247)" stroke="#b4b4b4" stroke-width="0.45"/>
<rect x="573.97" y="825.80" width="15.83" height="7.47" fill="rgb(138,138,247)" stroke="#b4b4b4" stroke-width="0.45"/>
<rect x="589.80" y="825.80" width="15.83" height="7.47" fill="rgb(126,126,247)" stroke="#b4b4b4" stroke-width="0.45"/>
<rect x="605.63" y="825.80" width="15.83" height="7.47" fill="rgb(244,99,95)" stroke="#b4b4b4" stroke-width="0.45"/>
<rect x="621.47" y="825.80" width="15.83" height="7.47" fill="rgb(243,116,112)" stroke="#b4b4b4" stroke-width="0.45"/>
<rect x="542.30" y="833.27" width="15.83" height="7.47" fill="rgb(243,155,153)" stroke="#b4b4b4" stroke-width="0.45"/>
<rect x="558.13" y="833.27" width="15.83" height="7.47" fill="rgb(151,151,247)" stroke="#b4b4b4" stroke-width="0.45"/>
<rect x="573.97" y="833.27" width="15.83" height="7.47" fill="rgb(151,151,247)" stroke="#b4b4b4" stroke-width="0.45"/>
<rect x="589.80" y="833.27" width="15.83" height="7.47" fill="rgb(113,113,247)" stroke="#b4b4b4" stroke-width="0.45"/>
<rect x="605.63" y="833.27" width="15.83" height="7.47" fill="rgb(245,88,83)" stroke="#b4b4b4" stroke-width="0.45"/>
<rect x="621.47" y="833.27" width="15.83" height="7.47" fill="rgb(245,189,188)" stroke="#b4b4b4" stroke-width="0.45"/>
<rect x="542.30" y="840.73" width="15.83" height="7.47" fill="rgb(245,184,182)" stroke="#b4b4b4" stroke-width="0.45"/>
<rect x="558.13" y="840.73" width="15.83" height="7.47" fill="rgb(88,88,248)" stroke="#b4b4b4" stroke-width="0.45"/>
<rect x="573.97" y="840.73" width="15.83" height="7.47" fill="rgb(132,132,247)" stroke="#b4b4b4" stroke-width="0.45"/>
<rect x="589.80" y="840.73" width="15.83" height="7.47" fill="rgb(220,220,250)" stroke="#b4b4b4" stroke-width="0.45"/>
<rect x="605.63" y="840.73" width="15.83" height="7.47" fill="rgb(245,88,83)" stroke="#b4b4b4" stroke-width="0.45"/>
<rect x="621.47" y="840.73" width="15.83" height="7.47" fill="rgb(243,155,153)" stroke="#b4b4b4" stroke-width="0.45"/>
<rect x="542.30" y="619.30" width="15.83" height="3.60" fill="#6ee9e0" stroke="#b4b4b4" stroke-width="0.35"/>
<rect x="558.13" y="619.30" width="15.83" height="3.60" fill="#6ee9e0" stroke="#b4b4b4" stroke-width="0.35"/>
<rect x="573.97" y="619.30" width="15.83" height="3.60" fill="#6ee9e0" stroke="#b4b4b4" stroke-width="0.35"/>
<rect x="589.80" y="619.30" width="15.83" height="3.60" fill="#ef8b8b" stroke="#b4b4b4" stroke-width="0.35"/>
<rect x="605.63" y="619.30" width="15.83" height="3.60" fill="#ef8b8b" stroke="#b4b4b4" stroke-width="0.35"/>
<rect x="621.47" y="619.30" width="15.83" height="3.60" fill="#ef8b8b" stroke="#b4b4b4" stroke-width="0.35"/>
<line x1="566.05" y1="619.30" x2="566.05" y2="614.10" stroke="#555" stroke-width="0.6"/>
<line x1="581.88" y1="619.30" x2="581.88" y2="614.10" stroke="#555" stroke-width="0.6"/>
<line x1="566.05" y1="614.10" x2="581.88" y2="614.10" stroke="#555" stroke-width="0.6"/>
<line x1="550.22" y1="619.30" x2="550.22" y2="612.60" stroke="#555" stroke-width="0.6"/>
<line x1="573.97" y1="614.10" x2="573.97" y2="612.60" stroke="#555" stroke-width="0.6"/>
<line x1="550.22" y1="612.60" x2="573.97" y2="612.60" stroke="#555" stroke-width="0.6"/>
<line x1="613.55" y1="619.30" x2="613.55" y2="613.00" stroke="#555" stroke-width="0.6"/>
<line x1="629.38" y1="619.30" x2="629.38" y2="613.00" stroke="#555" stroke-width="0.6"/>
<line x1="613.55" y1="613.00" x2="629.38" y2="613.00" stroke="#555" stroke-width="0.6"/>
<line x1="562.09" y1="612.60" x2="562.09" y2="609.00" stroke="#555" stroke-width="0.6"/>
<line x1="621.47" y1="613.00" x2="621.47" y2="609.00" stroke="#555" stroke-width="0.6"/>
<line x1="562.09" y1="609.00" x2="621.47" y2="609.00" stroke="#555" stroke-width="0.6"/>
<line x1="591.78" y1="609.00" x2="591.78" y2="597.60" stroke="#555" stroke-width="0.6"/>
<line x1="597.72" y1="619.30" x2="597.72" y2="597.60" stroke="#555" stroke-width="0.6"/>
<line x1="591.78" y1="597.60" x2="597.72" y2="597.60" stroke="#555" stroke-width="0.6"/>
<line x1="535.40" y1="627.93" x2="542.30" y2="627.93" stroke="#555" stroke-width="0.6"/>
<line x1="535.40" y1="635.40" x2="542.30" y2="635.40" stroke="#555" stroke-width="0.6"/>
<line x1="535.40" y1="627.93" x2="535.40" y2="635.40" stroke="#555" stroke-width="0.6"/>
<line x1="532.40" y1="642.87" x2="542.30" y2="642.87" stroke="#555" stroke-width="0.6"/>
<line x1="532.40" y1="650.33" x2="542.30" y2="650.33" stroke="#555" stroke-width="0.6"/>
<line x1="532.40" y1="642.87" x2="532.40" y2="650.33" stroke="#555" stroke-width="0.6"/>
<line x1="529.30" y1="631.67" x2="535.40" y2="631.67" stroke="#555" stroke-width="0.6"/>
<line x1="529.30" y1="646.60" x2="532.40" y2="646.60" stroke="#555" stroke-width="0.6"/>
<line x1="529.30" y1="631.67" x2="529.30" y2="646.60" stroke="#555" stroke-width="0.6"/>
<line x1="537.20" y1="665.27" x2="542.30" y2="665.27" stroke="#555" stroke-width="0.6"/>
<line x1="537.20" y1="672.73" x2="542.30" y2="672.73" stroke="#555" stroke-width="0.6"/>
<line x1="537.20" y1="665.27" x2="537.20" y2="672.73" stroke="#555" stroke-width="0.6"/>
<line x1="534.10" y1="657.80" x2="542.30" y2="657.80" stroke="#555" stroke-width="0.6"/>
<line x1="534.10" y1="669.00" x2="537.20" y2="669.00" stroke="#555" stroke-width="0.6"/>
<line x1="534.10" y1="657.80" x2="534.10" y2="669.00" stroke="#555" stroke-width="0.6"/>
<line x1="540.90" y1="680.20" x2="542.30" y2="680.20" stroke="#555" stroke-width="0.6"/>
<line x1="540.90" y1="687.67" x2="542.30" y2="687.67" stroke="#555" stroke-width="0.6"/>
<line x1="540.90" y1="680.20" x2="540.90" y2="687.67" stroke="#555" stroke-width="0.6"/>
<line x1="536.80" y1="695.13" x2="542.30" y2="695.13" stroke="#555" stroke-width="0.6"/>
<line x1="536.80" y1="702.60" x2="542.30" y2="702.60" stroke="#555" stroke-width="0.6"/>
<line x1="536.80" y1="695.13" x2="536.80" y2="702.60" stroke="#555" stroke-width="0.6"/>
<line x1="534.50" y1="683.93" x2="540.90" y2="683.93" stroke="#555" stroke-width="0.6"/>
<line x1="534.50" y1="698.87" x2="536.80" y2="698.87" stroke="#555" stroke-width="0.6"/>
<line x1="534.50" y1="683.93" x2="534.50" y2="698.87" stroke="#555" stroke-width="0.6"/>
<line x1="538.80" y1="710.07" x2="542.30" y2="710.07" stroke="#555" stroke-width="0.6"/>
<line x1="538.80" y1="717.53" x2="542.30" y2="717.53" stroke="#555" stroke-width="0.6"/>
<line x1="538.80" y1="710.07" x2="538.80" y2="717.53" stroke="#555" stroke-width="0.6"/>
<line x1="540.90" y1="732.47" x2="542.30" y2="732.47" stroke="#555" stroke-width="0.6"/>
<line x1="540.90" y1="739.93" x2="542.30" y2="739.93" stroke="#555" stroke-width="0.6"/>
<line x1="540.90" y1="732.47" x2="540.90" y2="739.93" stroke="#555" stroke-width="0.6"/>
<line x1="537.00" y1="725.00" x2="542.30" y2="725.00" stroke="#555" stroke-width="0.6"/>
<line x1="537.00" y1="736.20" x2="540.90" y2="736.20" stroke="#555" stroke-width="0.6"/>
<line x1="537.00" y1="725.00" x2="537.00" y2="736.20" stroke="#555" stroke-width="0.6"/>
<line x1="535.00" y1="713.80" x2="538.80" y2="713.80" stroke="#555" stroke-width="0.6"/>
<line x1="535.00" y1="730.60" x2="537.00" y2="730.60" stroke="#555" stroke-width="0.6"/>
<line x1="535.00" y1="713.80" x2="535.00" y2="730.60" stroke="#555" stroke-width="0.6"/>
<line x1="540.90" y1="747.40" x2="542.30" y2="747.40" stroke="#555" stroke-width="0.6"/>
<line x1="540.90" y1="754.87" x2="542.30" y2="754.87" stroke="#555" stroke-width="0.6"/>
<line x1="540.90" y1="747.40" x2="540.90" y2="754.87" stroke="#555" stroke-width="0.6"/>
<line x1="540.90" y1="769.80" x2="542.30" y2="769.80" stroke="#555" stroke-width="0.6"/>
<line x1="540.90" y1="777.27" x2="542.30" y2="777.27" stroke="#555" stroke-width="0.6"/>
<line x1="540.90" y1="769.80" x2="540.90" y2="777.27" stroke="#555" stroke-width="0.6"/>
<line x1="538.80" y1="762.33" x2="542.30" y2="762.33" stroke="#555" stroke-width="0.6"/>
<line x1="538.80" y1="773.53" x2="540.90" y2="773.53" stroke="#555" stroke-width="0.6"/>
<line x1="538.80" y1="762.33" x2="538.80" y2="773.53" stroke="#555" stroke-width="0.6"/>
<line x1="535.70" y1="751.13" x2="540.90" y2="751.13" stroke="#555" stroke-width="0.6"/>
<line x1="535.70" y1="767.93" x2="538.80" y2="767.93" stroke="#555" stroke-width="0.6"/>
<line x1="535.70" y1="751.13" x2="535.70" y2="767.93" stroke="#555" stroke-width="0.6"/>
<line x1="532.40" y1="722.20" x2="535.00" y2="722.20" stroke="#555" stroke-width="0.6"/>
<line x1="532.40" y1="759.53" x2="535.70" y2="759.53" stroke="#555" stroke-width="0.6"/>
<line x1="532.40" y1="722.20" x2="532.40" y2="759.53" stroke="#555" stroke-width="0.6"/>
<line x1="530.50" y1="691.40" x2="534.50" y2="691.40" stroke="#555" stroke-width="0.6"/>
<line x1="530.50" y1="740.87" x2="532.40" y2="740.87" stroke="#555" stroke-width="0.6"/>
<line x1="530.50" y1="691.40" x2="530.50" y2="740.87" stroke="#555" stroke-width="0.6"/>
<line x1="526.60" y1="663.40" x2="534.10" y2="663.40" stroke="#555" stroke-width="0.6"/>
<line x1="526.60" y1="716.13" x2="530.50" y2="716.13" stroke="#555" stroke-width="0.6"/>
<line x1="526.60" y1="663.40" x2="526.60" y2="716.13" stroke="#555" stroke-width="0.6"/>
<line x1="536.50" y1="784.73" x2="542.30" y2="784.73" stroke="#555" stroke-width="0.6"/>
<line x1="536.50" y1="792.20" x2="542.30" y2="792.20" stroke="#555" stroke-width="0.6"/>
<line x1="536.50" y1="784.73" x2="536.50" y2="792.20" stroke="#555" stroke-width="0.6"/>
<line x1="533.50" y1="799.67" x2="542.30" y2="799.67" stroke="#555" stroke-width="0.6"/>
<line x1="533.50" y1="807.13" x2="542.30" y2="807.13" stroke="#555" stroke-width="0.6"/>
<line x1="533.50" y1="799.67" x2="533.50" y2="807.13" stroke="#555" stroke-width="0.6"/>
<line x1="539.00" y1="814.60" x2="542.30" y2="814.60" stroke="#555" stroke-width="0.6"/>
<line x1="539.00" y1="822.07" x2="542.30" y2="822.07" stroke="#555" stroke-width="0.6"/>
<line x1="539.00" y1="814.60" x2="539.00" y2="822.07" stroke="#555" stroke-width="0.6"/>
<line x1="540.00" y1="837.00" x2="542.30" y2="837.00" stroke="#555" stroke-width="0.6"/>
<line x1="540.00" y1="844.47" x2="542.30" y2="844.47" stroke="#555" stroke-width="0.6"/>
<line x1="540.00" y1="837.00" x2="540.00" y2="844.47" stroke="#555" stroke-width="0.6"/>
<line x1="536.00" y1="829.53" x2="542.30" y2="829.53" stroke="#555" stroke-width="0.6"/>
<line x1="536.00" y1="840.73" x2="540.00" y2="840.73" stroke="#555" stroke-width="0.6"/>
<line x1="536.00" y1="829.53" x2="536.00" y2="840.73" stroke="#555" stroke-width="0.6"/>
<line x1="532.00" y1="818.33" x2="539.00" y2="818.33" stroke="#555" stroke-width="0.6"/>
<line x1="532.00" y1="835.13" x2="536.00" y2="835.13" stroke="#555" stroke-width="0.6"/>
<line x1="532.00" y1="818.33" x2="532.00" y2="835.13" stroke="#555" stroke-width="0.6"/>
<line x1="530.00" y1="803.40" x2="533.50" y2="803.40" stroke="#555" stroke-width="0.6"/>
<line x1="530.00" y1="826.73" x2="532.00" y2="826.73" stroke="#555" stroke-width="0.6"/>
<line x1="530.00" y1="803.40" x2="530.00" y2="826.73" stroke="#555" stroke-width="0.6"/>
<line x1="525.90" y1="788.47" x2="536.50" y2="788.47" stroke="#555" stroke-width="0.6"/>
<line x1="525.90" y1="815.07" x2="530.00" y2="815.07" stroke="#555" stroke-width="0.6"/>
<line x1="525.90" y1="788.47" x2="525.90" y2="815.07" stroke="#555" stroke-width="0.6"/>
<line x1="523.20" y1="689.77" x2="526.60" y2="689.77" stroke="#555" stroke-width="0.6"/>
<line x1="523.20" y1="801.77" x2="525.90" y2="801.77" stroke="#555" stroke-width="0.6"/>
<line x1="523.20" y1="689.77" x2="523.20" y2="801.77" stroke="#555" stroke-width="0.6"/>
<line x1="521.10" y1="639.13" x2="529.30" y2="639.13" stroke="#555" stroke-width="0.6"/>
<line x1="521.10" y1="745.77" x2="523.20" y2="745.77" stroke="#555" stroke-width="0.6"/>
<line x1="521.10" y1="639.13" x2="521.10" y2="745.77" stroke="#555" stroke-width="0.6"/>
<text x="638.80" y="628.93" font-size="2.9" text-anchor="start" fill="#666">Irs1</text>
<text x="638.80" y="636.40" font-size="2.9" text-anchor="start" fill="#666">Tsc1</text>
<text x="638.80" y="643.87" font-size="2.9" text-anchor="start" fill="#666">Gata6</text>
<text x="638.80" y="651.33" font-size="2.9" text-anchor="start" fill="#666">Gnl1</text>
<text x="638.80" y="658.80" font-size="2.9" text-anchor="start" fill="#666">Ipl1</text>
<text x="638.80" y="666.27" font-size="2.9" text-anchor="start" fill="#666">Pdgfb</text>
<text x="638.80" y="673.73" font-size="2.9" text-anchor="start" fill="#666">Sik1</text>
<text x="638.80" y="681.20" font-size="2.9" text-anchor="start" fill="#666">Shb</text>
<text x="638.80" y="688.67" font-size="2.9" text-anchor="start" fill="#666">Fgf2</text>
<text x="638.80" y="696.13" font-size="2.9" text-anchor="start" fill="#666">Ptn</text>
<text x="638.80" y="703.60" font-size="2.9" text-anchor="start" fill="#666">Pdgfb</text>
<text x="638.80" y="711.07" font-size="2.9" text-anchor="start" fill="#666">Nr4a1</text>
<text x="638.80" y="718.53" font-size="2.9" text-anchor="start" fill="#666">Tln</text>
<text x="638.80" y="726.00" font-size="2.9" text-anchor="start" fill="#666">Fyn</text>
<text x="638.80" y="733.47" font-size="2.9" text-anchor="start" fill="#666">Nr1</text>
<text x="638.80" y="740.93" font-size="2.9" text-anchor="start" fill="#666">Hhn</text>
<text x="638.80" y="748.40" font-size="2.9" text-anchor="start" fill="#666">Rora</text>
<text x="638.80" y="755.87" font-size="2.9" text-anchor="start" fill="#666">Fgfr2</text>
<text x="638.80" y="763.33" font-size="2.9" text-anchor="start" fill="#666">Sphk</text>
<text x="638.80" y="770.80" font-size="2.9" text-anchor="start" fill="#666">Sirt6</text>
<text x="638.80" y="778.27" font-size="2.9" text-anchor="start" fill="#666">Abcd1</text>
<text x="638.80" y="785.73" font-size="2.9" text-anchor="start" fill="#666">Igfbp</text>
<text x="638.80" y="793.20" font-size="2.9" text-anchor="start" fill="#666">Nrf</text>
<text x="638.80" y="800.67" font-size="2.9" text-anchor="start" fill="#666">Zyme</text>
<text x="638.80" y="808.13" font-size="2.9" text-anchor="start" fill="#666">Ndrc</text>
<text x="638.80" y="815.60" font-size="2.9" text-anchor="start" fill="#666">Slc2a4</text>
<text x="638.80" y="823.07" font-size="2.9" text-anchor="start" fill="#666">Pfkm</text>
<text x="638.80" y="830.53" font-size="2.9" text-anchor="start" fill="#666">Inr</text>
<text x="638.80" y="838.00" font-size="2.9" text-anchor="start" fill="#666">Agt</text>
<text x="638.80" y="845.47" font-size="2.9" text-anchor="start" fill="#666">Grasp1</text>
<text x="638.40" y="622.60" font-size="3.8" text-anchor="start" fill="#444" font-weight="bold">Group</text>
<linearGradient id="hmleg" x1="0" x2="0" y1="0" y2="1"><stop offset="0" stop-color="#ff1010"/><stop offset="0.5" stop-color="#ffffff"/><stop offset="1" stop-color="#0000ff"/></linearGradient>
<rect x="652.30" y="618.60" width="4.00" height="59.10" fill="url(#hmleg)" stroke="none" stroke-width="1.0"/>
<text x="657.80" y="620.50" font-size="4.6" text-anchor="start" fill="#444">2</text>
<text x="657.80" y="635.30" font-size="4.6" text-anchor="start" fill="#444">1</text>
<text x="657.80" y="650.10" font-size="4.6" text-anchor="start" fill="#444">0</text>
<text x="657.80" y="665.10" font-size="4.6" text-anchor="start" fill="#444">-1</text>
<text x="657.80" y="679.70" font-size="4.6" text-anchor="start" fill="#444">-2</text>
<text x="664.00" y="622.20" font-size="3.8" text-anchor="start" fill="#444" font-weight="bold">Group</text>
<rect x="664.00" y="623.50" width="5.70" height="5.10" fill="#5eece0" stroke="none" stroke-width="1.0"/>
<rect x="664.00" y="629.40" width="5.70" height="5.10" fill="#ef8585" stroke="none" stroke-width="1.0"/>
<text x="670.90" y="627.80" font-size="3.8" text-anchor="start" fill="#444">HFD</text>
<text x="670.90" y="633.60" font-size="3.8" text-anchor="start" fill="#444">HFD+D</text>
<text x="547.62" y="850.90" font-size="7.6" text-anchor="start" fill="#222" font-weight="bold" transform="rotate(90 547.62 850.90)">HFD1</text>
<text x="563.45" y="850.90" font-size="7.6" text-anchor="start" fill="#222" font-weight="bold" transform="rotate(90 563.45 850.90)">HFD2</text>
<text x="579.28" y="850.90" font-size="7.6" text-anchor="start" fill="#222" font-weight="bold" transform="rotate(90 579.28 850.90)">HFD3</text>
<text x="595.12" y="850.90" font-size="7.6" text-anchor="start" fill="#222" font-weight="bold" transform="rotate(90 595.12 850.90)">HFD+D1</text>
<text x="610.95" y="850.90" font-size="7.6" text-anchor="start" fill="#222" font-weight="bold" transform="rotate(90 610.95 850.90)">HFD+D2</text>
<text x="626.78" y="850.90" font-size="7.6" text-anchor="start" fill="#222" font-weight="bold" transform="rotate(90 626.78 850.90)">HFD+D3</text>
</svg>
</body></html>
